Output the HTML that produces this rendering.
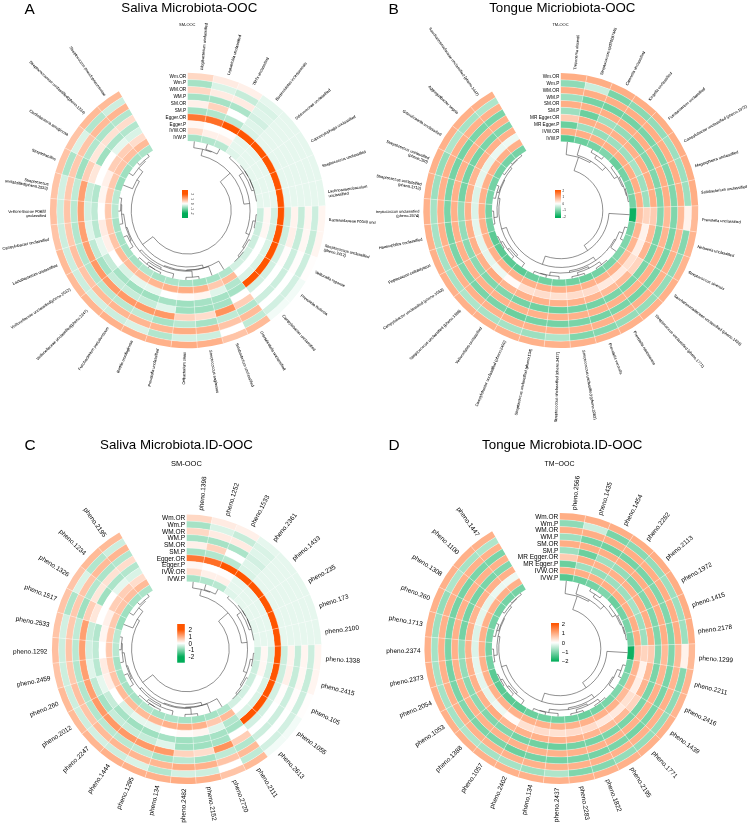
<!DOCTYPE html>
<html><head><meta charset="utf-8"><style>
html,body{margin:0;padding:0;background:#fff;}
svg{display:block;will-change:transform;}
text{font-family:"Liberation Sans", sans-serif;fill:#000;}
.sm{stroke:#000;stroke-width:0.03;}
</style></head><body>
<svg width="750" height="826" viewBox="0 0 750 826">
<rect width="750" height="826" fill="#fff"/>
<defs>
<clipPath id="cA"><rect x="0" y="0" width="375.8" height="430"/></clipPath>
<clipPath id="cB"><rect x="376" y="0" width="374" height="430"/></clipPath>
<clipPath id="cC"><rect x="0" y="430" width="375.8" height="396"/></clipPath>
<clipPath id="cD"><rect x="376" y="430" width="374" height="396"/></clipPath>
</defs>
<g clip-path="url(#cA)">
<path d="M187.70 72.70A137.80 137.80 0 0 1 213.99 75.23L212.69 81.95A130.96 130.96 0 0 0 187.70 79.54Z" fill="#ffd8c4"/>
<path d="M187.70 79.54A130.96 130.96 0 0 1 212.69 81.95L211.38 88.66A124.12 124.12 0 0 0 187.70 86.38Z" fill="#a6e2c5"/>
<path d="M187.70 86.38A124.12 124.12 0 0 1 211.38 88.66L210.08 95.37A117.28 117.28 0 0 0 187.70 93.22Z" fill="#ffd8c4"/>
<path d="M187.70 93.22A117.28 117.28 0 0 1 210.08 95.37L208.77 102.09A110.44 110.44 0 0 0 187.70 100.06Z" fill="#a6e2c5"/>
<path d="M187.70 100.06A110.44 110.44 0 0 1 208.77 102.09L207.47 108.80A103.60 103.60 0 0 0 187.70 106.90Z" fill="#fff0e9"/>
<path d="M187.70 106.90A103.60 103.60 0 0 1 207.47 108.80L206.16 115.52A96.76 96.76 0 0 0 187.70 113.74Z" fill="#a6e2c5"/>
<path d="M187.70 113.74A96.76 96.76 0 0 1 206.16 115.52L204.86 122.23A89.92 89.92 0 0 0 187.70 120.58Z" fill="#ff7733"/>
<path d="M187.70 120.58A89.92 89.92 0 0 1 204.86 122.23L203.55 128.95A83.08 83.08 0 0 0 187.70 127.42Z" fill="#fff7f3"/>
<path d="M187.70 127.42A83.08 83.08 0 0 1 203.55 128.95L202.25 135.66A76.24 76.24 0 0 0 187.70 134.26Z" fill="#ffddcc"/>
<path d="M187.70 134.26A76.24 76.24 0 0 1 202.25 135.66L200.94 142.38A69.40 69.40 0 0 0 187.70 141.10Z" fill="#a6e2c5"/>
<path d="M213.99 75.23A137.80 137.80 0 0 1 239.32 82.73L236.76 89.08A130.96 130.96 0 0 0 212.69 81.95Z" fill="#ffebe2"/>
<path d="M212.69 81.95A130.96 130.96 0 0 1 236.76 89.08L234.20 95.42A124.12 124.12 0 0 0 211.38 88.66Z" fill="#d9f3e6"/>
<path d="M211.38 88.66A124.12 124.12 0 0 1 234.20 95.42L231.63 101.76A117.28 117.28 0 0 0 210.08 95.37Z" fill="#ffebe2"/>
<path d="M210.08 95.37A117.28 117.28 0 0 1 231.63 101.76L229.07 108.10A110.44 110.44 0 0 0 208.77 102.09Z" fill="#a6e2c5"/>
<path d="M208.77 102.09A110.44 110.44 0 0 1 229.07 108.10L226.51 114.44A103.60 103.60 0 0 0 207.47 108.80Z" fill="#ffd3bd"/>
<path d="M207.47 108.80A103.60 103.60 0 0 1 226.51 114.44L223.95 120.79A96.76 96.76 0 0 0 206.16 115.52Z" fill="#b2e6cd"/>
<path d="M206.16 115.52A96.76 96.76 0 0 1 223.95 120.79L221.38 127.13A89.92 89.92 0 0 0 204.86 122.23Z" fill="#ff6e26"/>
<path d="M204.86 122.23A89.92 89.92 0 0 1 221.38 127.13L218.82 133.47A83.08 83.08 0 0 0 203.55 128.95Z" fill="#ffffff"/>
<path d="M203.55 128.95A83.08 83.08 0 0 1 218.82 133.47L216.26 139.81A76.24 76.24 0 0 0 202.25 135.66Z" fill="#fff0e9"/>
<path d="M202.25 135.66A76.24 76.24 0 0 1 216.26 139.81L213.70 146.15A69.40 69.40 0 0 0 200.94 142.38Z" fill="#b2e6cd"/>
<path d="M239.32 82.73A137.80 137.80 0 0 1 262.75 94.93L259.03 100.67A130.96 130.96 0 0 0 236.76 89.08Z" fill="#fff0e9"/>
<path d="M236.76 89.08A130.96 130.96 0 0 1 259.03 100.67L255.30 106.40A124.12 124.12 0 0 0 234.20 95.42Z" fill="#c6ecd9"/>
<path d="M234.20 95.42A124.12 124.12 0 0 1 255.30 106.40L251.58 112.14A117.28 117.28 0 0 0 231.63 101.76Z" fill="#ffebe2"/>
<path d="M231.63 101.76A117.28 117.28 0 0 1 251.58 112.14L247.85 117.88A110.44 110.44 0 0 0 229.07 108.10Z" fill="#ace4c9"/>
<path d="M229.07 108.10A110.44 110.44 0 0 1 247.85 117.88L244.12 123.61A103.60 103.60 0 0 0 226.51 114.44Z" fill="#ffffff"/>
<path d="M226.51 114.44A103.60 103.60 0 0 1 244.12 123.61L240.40 129.35A96.76 96.76 0 0 0 223.95 120.79Z" fill="#b9e8d1"/>
<path d="M223.95 120.79A96.76 96.76 0 0 1 240.40 129.35L236.67 135.09A89.92 89.92 0 0 0 221.38 127.13Z" fill="#ff5500"/>
<path d="M221.38 127.13A89.92 89.92 0 0 1 236.67 135.09L232.95 140.82A83.08 83.08 0 0 0 218.82 133.47Z" fill="#fffdfc"/>
<path d="M218.82 133.47A83.08 83.08 0 0 1 232.95 140.82L229.22 146.56A76.24 76.24 0 0 0 216.26 139.81Z" fill="#fff0e9"/>
<path d="M216.26 139.81A76.24 76.24 0 0 1 229.22 146.56L225.50 152.30A69.40 69.40 0 0 0 213.70 146.15Z" fill="#b9e8d1"/>
<path d="M262.75 94.93A137.80 137.80 0 0 1 283.42 111.37L278.67 116.30A130.96 130.96 0 0 0 259.03 100.67Z" fill="#e6f7ee"/>
<path d="M259.03 100.67A130.96 130.96 0 0 1 278.67 116.30L273.92 121.22A124.12 124.12 0 0 0 255.30 106.40Z" fill="#d9f3e6"/>
<path d="M255.30 106.40A124.12 124.12 0 0 1 273.92 121.22L269.17 126.14A117.28 117.28 0 0 0 251.58 112.14Z" fill="#dff5ea"/>
<path d="M251.58 112.14A117.28 117.28 0 0 1 269.17 126.14L264.42 131.06A110.44 110.44 0 0 0 247.85 117.88Z" fill="#d2f0e2"/>
<path d="M247.85 117.88A110.44 110.44 0 0 1 264.42 131.06L259.67 135.98A103.60 103.60 0 0 0 244.12 123.61Z" fill="#dff5ea"/>
<path d="M244.12 123.61A103.60 103.60 0 0 1 259.67 135.98L254.92 140.90A96.76 96.76 0 0 0 240.40 129.35Z" fill="#d9f3e6"/>
<path d="M240.40 129.35A96.76 96.76 0 0 1 254.92 140.90L250.16 145.82A89.92 89.92 0 0 0 236.67 135.09Z" fill="#ff5500"/>
<path d="M236.67 135.09A89.92 89.92 0 0 1 250.16 145.82L245.41 150.74A83.08 83.08 0 0 0 232.95 140.82Z" fill="#e6f7ee"/>
<path d="M232.95 140.82A83.08 83.08 0 0 1 245.41 150.74L240.66 155.66A76.24 76.24 0 0 0 229.22 146.56Z" fill="#e6f7ee"/>
<path d="M229.22 146.56A76.24 76.24 0 0 1 240.66 155.66L235.91 160.58A69.40 69.40 0 0 0 225.50 152.30Z" fill="#dff5ea"/>
<path d="M283.42 111.37A137.80 137.80 0 0 1 300.58 131.46L294.98 135.38A130.96 130.96 0 0 0 278.67 116.30Z" fill="#e6f7ee"/>
<path d="M278.67 116.30A130.96 130.96 0 0 1 294.98 135.38L289.37 139.31A124.12 124.12 0 0 0 273.92 121.22Z" fill="#e6f7ee"/>
<path d="M273.92 121.22A124.12 124.12 0 0 1 289.37 139.31L283.77 143.23A117.28 117.28 0 0 0 269.17 126.14Z" fill="#e6f7ee"/>
<path d="M269.17 126.14A117.28 117.28 0 0 1 283.77 143.23L278.17 147.15A110.44 110.44 0 0 0 264.42 131.06Z" fill="#e6f7ee"/>
<path d="M264.42 131.06A110.44 110.44 0 0 1 278.17 147.15L272.56 151.08A103.60 103.60 0 0 0 259.67 135.98Z" fill="#e6f7ee"/>
<path d="M259.67 135.98A103.60 103.60 0 0 1 272.56 151.08L266.96 155.00A96.76 96.76 0 0 0 254.92 140.90Z" fill="#e6f7ee"/>
<path d="M254.92 140.90A96.76 96.76 0 0 1 266.96 155.00L261.36 158.92A89.92 89.92 0 0 0 250.16 145.82Z" fill="#ff5500"/>
<path d="M250.16 145.82A89.92 89.92 0 0 1 261.36 158.92L255.76 162.85A83.08 83.08 0 0 0 245.41 150.74Z" fill="#e6f7ee"/>
<path d="M245.41 150.74A83.08 83.08 0 0 1 255.76 162.85L250.15 166.77A76.24 76.24 0 0 0 240.66 155.66Z" fill="#e6f7ee"/>
<path d="M240.66 155.66A76.24 76.24 0 0 1 250.15 166.77L244.55 170.69A69.40 69.40 0 0 0 235.91 160.58Z" fill="#e6f7ee"/>
<path d="M300.58 131.46A137.80 137.80 0 0 1 313.59 154.45L307.34 157.23A130.96 130.96 0 0 0 294.98 135.38Z" fill="#e6f7ee"/>
<path d="M294.98 135.38A130.96 130.96 0 0 1 307.34 157.23L301.09 160.02A124.12 124.12 0 0 0 289.37 139.31Z" fill="#e6f7ee"/>
<path d="M289.37 139.31A124.12 124.12 0 0 1 301.09 160.02L294.84 162.80A117.28 117.28 0 0 0 283.77 143.23Z" fill="#e6f7ee"/>
<path d="M283.77 143.23A117.28 117.28 0 0 1 294.84 162.80L288.59 165.58A110.44 110.44 0 0 0 278.17 147.15Z" fill="#e6f7ee"/>
<path d="M278.17 147.15A110.44 110.44 0 0 1 288.59 165.58L282.34 168.36A103.60 103.60 0 0 0 272.56 151.08Z" fill="#e6f7ee"/>
<path d="M272.56 151.08A103.60 103.60 0 0 1 282.34 168.36L276.09 171.14A96.76 96.76 0 0 0 266.96 155.00Z" fill="#e6f7ee"/>
<path d="M266.96 155.00A96.76 96.76 0 0 1 276.09 171.14L269.85 173.93A89.92 89.92 0 0 0 261.36 158.92Z" fill="#ff5500"/>
<path d="M261.36 158.92A89.92 89.92 0 0 1 269.85 173.93L263.60 176.71A83.08 83.08 0 0 0 255.76 162.85Z" fill="#e6f7ee"/>
<path d="M255.76 162.85A83.08 83.08 0 0 1 263.60 176.71L257.35 179.49A76.24 76.24 0 0 0 250.15 166.77Z" fill="#e6f7ee"/>
<path d="M250.15 166.77A76.24 76.24 0 0 1 257.35 179.49L251.10 182.27A69.40 69.40 0 0 0 244.55 170.69Z" fill="#e6f7ee"/>
<path d="M313.59 154.45A137.80 137.80 0 0 1 321.97 179.50L315.30 181.04A130.96 130.96 0 0 0 307.34 157.23Z" fill="#e6f7ee"/>
<path d="M307.34 157.23A130.96 130.96 0 0 1 315.30 181.04L308.64 182.58A124.12 124.12 0 0 0 301.09 160.02Z" fill="#e6f7ee"/>
<path d="M301.09 160.02A124.12 124.12 0 0 1 308.64 182.58L301.97 184.12A117.28 117.28 0 0 0 294.84 162.80Z" fill="#e6f7ee"/>
<path d="M294.84 162.80A117.28 117.28 0 0 1 301.97 184.12L295.31 185.66A110.44 110.44 0 0 0 288.59 165.58Z" fill="#e6f7ee"/>
<path d="M288.59 165.58A110.44 110.44 0 0 1 295.31 185.66L288.64 187.20A103.60 103.60 0 0 0 282.34 168.36Z" fill="#e6f7ee"/>
<path d="M282.34 168.36A103.60 103.60 0 0 1 288.64 187.20L281.98 188.73A96.76 96.76 0 0 0 276.09 171.14Z" fill="#e6f7ee"/>
<path d="M276.09 171.14A96.76 96.76 0 0 1 281.98 188.73L275.32 190.27A89.92 89.92 0 0 0 269.85 173.93Z" fill="#ff5500"/>
<path d="M269.85 173.93A89.92 89.92 0 0 1 275.32 190.27L268.65 191.81A83.08 83.08 0 0 0 263.60 176.71Z" fill="#e6f7ee"/>
<path d="M263.60 176.71A83.08 83.08 0 0 1 268.65 191.81L261.99 193.35A76.24 76.24 0 0 0 257.35 179.49Z" fill="#e6f7ee"/>
<path d="M257.35 179.49A76.24 76.24 0 0 1 261.99 193.35L255.32 194.89A69.40 69.40 0 0 0 251.10 182.27Z" fill="#e6f7ee"/>
<path d="M321.97 179.50A137.80 137.80 0 0 1 325.42 205.69L318.58 205.93A130.96 130.96 0 0 0 315.30 181.04Z" fill="#e6f7ee"/>
<path d="M315.30 181.04A130.96 130.96 0 0 1 318.58 205.93L311.74 206.17A124.12 124.12 0 0 0 308.64 182.58Z" fill="#e6f7ee"/>
<path d="M308.64 182.58A124.12 124.12 0 0 1 311.74 206.17L304.91 206.41A117.28 117.28 0 0 0 301.97 184.12Z" fill="#e6f7ee"/>
<path d="M301.97 184.12A117.28 117.28 0 0 1 304.91 206.41L298.07 206.65A110.44 110.44 0 0 0 295.31 185.66Z" fill="#e6f7ee"/>
<path d="M295.31 185.66A110.44 110.44 0 0 1 298.07 206.65L291.24 206.88A103.60 103.60 0 0 0 288.64 187.20Z" fill="#e6f7ee"/>
<path d="M288.64 187.20A103.60 103.60 0 0 1 291.24 206.88L284.40 207.12A96.76 96.76 0 0 0 281.98 188.73Z" fill="#e6f7ee"/>
<path d="M281.98 188.73A96.76 96.76 0 0 1 284.40 207.12L277.57 207.36A89.92 89.92 0 0 0 275.32 190.27Z" fill="#ff5500"/>
<path d="M275.32 190.27A89.92 89.92 0 0 1 277.57 207.36L270.73 207.60A83.08 83.08 0 0 0 268.65 191.81Z" fill="#e6f7ee"/>
<path d="M268.65 191.81A83.08 83.08 0 0 1 270.73 207.60L263.89 207.84A76.24 76.24 0 0 0 261.99 193.35Z" fill="#e6f7ee"/>
<path d="M261.99 193.35A76.24 76.24 0 0 1 263.89 207.84L257.06 208.08A69.40 69.40 0 0 0 255.32 194.89Z" fill="#e6f7ee"/>
<path d="M325.42 205.69A137.80 137.80 0 0 1 323.80 232.06L317.05 230.99A130.96 130.96 0 0 0 318.58 205.93Z" fill="#fff5f0"/>
<path d="M318.58 205.93A130.96 130.96 0 0 1 317.05 230.99L310.29 229.92A124.12 124.12 0 0 0 311.74 206.17Z" fill="#cceede"/>
<path d="M311.74 206.17A124.12 124.12 0 0 1 310.29 229.92L303.54 228.85A117.28 117.28 0 0 0 304.91 206.41Z" fill="#fff5f0"/>
<path d="M304.91 206.41A117.28 117.28 0 0 1 303.54 228.85L296.78 227.78A110.44 110.44 0 0 0 298.07 206.65Z" fill="#c6ecd9"/>
<path d="M298.07 206.65A110.44 110.44 0 0 1 296.78 227.78L290.02 226.71A103.60 103.60 0 0 0 291.24 206.88Z" fill="#fff3ed"/>
<path d="M291.24 206.88A103.60 103.60 0 0 1 290.02 226.71L283.27 225.64A96.76 96.76 0 0 0 284.40 207.12Z" fill="#cceede"/>
<path d="M284.40 207.12A96.76 96.76 0 0 1 283.27 225.64L276.51 224.57A89.92 89.92 0 0 0 277.57 207.36Z" fill="#ff5500"/>
<path d="M277.57 207.36A89.92 89.92 0 0 1 276.51 224.57L269.76 223.50A83.08 83.08 0 0 0 270.73 207.60Z" fill="#d2f0e2"/>
<path d="M270.73 207.60A83.08 83.08 0 0 1 269.76 223.50L263.00 222.43A76.24 76.24 0 0 0 263.89 207.84Z" fill="#fff7f3"/>
<path d="M263.89 207.84A76.24 76.24 0 0 1 263.00 222.43L256.25 221.36A69.40 69.40 0 0 0 257.06 208.08Z" fill="#cceede"/>
<path d="M323.80 232.06A137.80 137.80 0 0 1 317.19 257.63L310.76 255.29A130.96 130.96 0 0 0 317.05 230.99Z" fill="#fff5f0"/>
<path d="M317.05 230.99A130.96 130.96 0 0 1 310.76 255.29L304.33 252.95A124.12 124.12 0 0 0 310.29 229.92Z" fill="#c6ecd9"/>
<path d="M310.29 229.92A124.12 124.12 0 0 1 304.33 252.95L297.91 250.61A117.28 117.28 0 0 0 303.54 228.85Z" fill="#fff7f3"/>
<path d="M303.54 228.85A117.28 117.28 0 0 1 297.91 250.61L291.48 248.27A110.44 110.44 0 0 0 296.78 227.78Z" fill="#c6ecd9"/>
<path d="M296.78 227.78A110.44 110.44 0 0 1 291.48 248.27L285.05 245.93A103.60 103.60 0 0 0 290.02 226.71Z" fill="#fff0e9"/>
<path d="M290.02 226.71A103.60 103.60 0 0 1 285.05 245.93L278.62 243.59A96.76 96.76 0 0 0 283.27 225.64Z" fill="#cceede"/>
<path d="M283.27 225.64A96.76 96.76 0 0 1 278.62 243.59L272.20 241.25A89.92 89.92 0 0 0 276.51 224.57Z" fill="#ff5500"/>
<path d="M276.51 224.57A89.92 89.92 0 0 1 272.20 241.25L265.77 238.92A83.08 83.08 0 0 0 269.76 223.50Z" fill="#d2f0e2"/>
<path d="M269.76 223.50A83.08 83.08 0 0 1 265.77 238.92L259.34 236.58A76.24 76.24 0 0 0 263.00 222.43Z" fill="#fff7f3"/>
<path d="M263.00 222.43A76.24 76.24 0 0 1 259.34 236.58L252.91 234.24A69.40 69.40 0 0 0 256.25 221.36Z" fill="#cceede"/>
<path d="M317.19 257.63A137.80 137.80 0 0 1 305.82 281.47L299.95 277.95A130.96 130.96 0 0 0 310.76 255.29Z" fill="#fffdfc"/>
<path d="M310.76 255.29A130.96 130.96 0 0 1 299.95 277.95L294.09 274.43A124.12 124.12 0 0 0 304.33 252.95Z" fill="#cceede"/>
<path d="M304.33 252.95A124.12 124.12 0 0 1 294.09 274.43L288.23 270.90A117.28 117.28 0 0 0 297.91 250.61Z" fill="#fffcfb"/>
<path d="M297.91 250.61A117.28 117.28 0 0 1 288.23 270.90L282.37 267.38A110.44 110.44 0 0 0 291.48 248.27Z" fill="#cceede"/>
<path d="M291.48 248.27A110.44 110.44 0 0 1 282.37 267.38L276.50 263.86A103.60 103.60 0 0 0 285.05 245.93Z" fill="#fffcfb"/>
<path d="M285.05 245.93A103.60 103.60 0 0 1 276.50 263.86L270.64 260.34A96.76 96.76 0 0 0 278.62 243.59Z" fill="#d2f0e2"/>
<path d="M278.62 243.59A96.76 96.76 0 0 1 270.64 260.34L264.78 256.81A89.92 89.92 0 0 0 272.20 241.25Z" fill="#ff5500"/>
<path d="M272.20 241.25A89.92 89.92 0 0 1 264.78 256.81L258.91 253.29A83.08 83.08 0 0 0 265.77 238.92Z" fill="#d9f3e6"/>
<path d="M265.77 238.92A83.08 83.08 0 0 1 258.91 253.29L253.05 249.77A76.24 76.24 0 0 0 259.34 236.58Z" fill="#ffffff"/>
<path d="M259.34 236.58A76.24 76.24 0 0 1 253.05 249.77L247.19 246.24A69.40 69.40 0 0 0 252.91 234.24Z" fill="#cceede"/>
<path d="M305.82 281.47A137.80 137.80 0 0 1 290.11 302.71L285.02 298.13A130.96 130.96 0 0 0 299.95 277.95Z" fill="#f2fbf7"/>
<path d="M299.95 277.95A130.96 130.96 0 0 1 285.02 298.13L279.94 293.55A124.12 124.12 0 0 0 294.09 274.43Z" fill="#d2f0e2"/>
<path d="M294.09 274.43A124.12 124.12 0 0 1 279.94 293.55L274.86 288.98A117.28 117.28 0 0 0 288.23 270.90Z" fill="#ffffff"/>
<path d="M288.23 270.90A117.28 117.28 0 0 1 274.86 288.98L269.77 284.40A110.44 110.44 0 0 0 282.37 267.38Z" fill="#cceede"/>
<path d="M282.37 267.38A110.44 110.44 0 0 1 269.77 284.40L264.69 279.82A103.60 103.60 0 0 0 276.50 263.86Z" fill="#ffffff"/>
<path d="M276.50 263.86A103.60 103.60 0 0 1 264.69 279.82L259.61 275.25A96.76 96.76 0 0 0 270.64 260.34Z" fill="#d2f0e2"/>
<path d="M270.64 260.34A96.76 96.76 0 0 1 259.61 275.25L254.52 270.67A89.92 89.92 0 0 0 264.78 256.81Z" fill="#ff5500"/>
<path d="M264.78 256.81A89.92 89.92 0 0 1 254.52 270.67L249.44 266.09A83.08 83.08 0 0 0 258.91 253.29Z" fill="#d9f3e6"/>
<path d="M258.91 253.29A83.08 83.08 0 0 1 249.44 266.09L244.36 261.51A76.24 76.24 0 0 0 253.05 249.77Z" fill="#ffffff"/>
<path d="M253.05 249.77A76.24 76.24 0 0 1 244.36 261.51L239.27 256.94A69.40 69.40 0 0 0 247.19 246.24Z" fill="#d2f0e2"/>
<path d="M290.11 302.71A137.80 137.80 0 0 1 270.63 320.55L266.51 315.09A130.96 130.96 0 0 0 285.02 298.13Z" fill="#f2fbf7"/>
<path d="M285.02 298.13A130.96 130.96 0 0 1 266.51 315.09L262.40 309.63A124.12 124.12 0 0 0 279.94 293.55Z" fill="#d2f0e2"/>
<path d="M279.94 293.55A124.12 124.12 0 0 1 262.40 309.63L258.28 304.16A117.28 117.28 0 0 0 274.86 288.98Z" fill="#ffffff"/>
<path d="M274.86 288.98A117.28 117.28 0 0 1 258.28 304.16L254.16 298.70A110.44 110.44 0 0 0 269.77 284.40Z" fill="#cceede"/>
<path d="M269.77 284.40A110.44 110.44 0 0 1 254.16 298.70L250.05 293.24A103.60 103.60 0 0 0 264.69 279.82Z" fill="#ffffff"/>
<path d="M264.69 279.82A103.60 103.60 0 0 1 250.05 293.24L245.93 287.78A96.76 96.76 0 0 0 259.61 275.25Z" fill="#d2f0e2"/>
<path d="M259.61 275.25A96.76 96.76 0 0 1 245.93 287.78L241.82 282.31A89.92 89.92 0 0 0 254.52 270.67Z" fill="#ff5500"/>
<path d="M254.52 270.67A89.92 89.92 0 0 1 241.82 282.31L237.70 276.85A83.08 83.08 0 0 0 249.44 266.09Z" fill="#d9f3e6"/>
<path d="M249.44 266.09A83.08 83.08 0 0 1 237.70 276.85L233.58 271.39A76.24 76.24 0 0 0 244.36 261.51Z" fill="#ffffff"/>
<path d="M244.36 261.51A76.24 76.24 0 0 1 233.58 271.39L229.47 265.93A69.40 69.40 0 0 0 239.27 256.94Z" fill="#d2f0e2"/>
<path d="M270.63 320.55A137.80 137.80 0 0 1 248.11 334.35L245.11 328.21A130.96 130.96 0 0 0 266.51 315.09Z" fill="#ffbb98"/>
<path d="M266.51 315.09A130.96 130.96 0 0 1 245.11 328.21L242.11 322.06A124.12 124.12 0 0 0 262.40 309.63Z" fill="#bfead5"/>
<path d="M262.40 309.63A124.12 124.12 0 0 1 242.11 322.06L239.11 315.91A117.28 117.28 0 0 0 258.28 304.16Z" fill="#ffbb98"/>
<path d="M258.28 304.16A117.28 117.28 0 0 1 239.11 315.91L236.11 309.76A110.44 110.44 0 0 0 254.16 298.70Z" fill="#b2e6cd"/>
<path d="M254.16 298.70A110.44 110.44 0 0 1 236.11 309.76L233.12 303.62A103.60 103.60 0 0 0 250.05 293.24Z" fill="#ffceb6"/>
<path d="M250.05 293.24A103.60 103.60 0 0 1 233.12 303.62L230.12 297.47A96.76 96.76 0 0 0 245.93 287.78Z" fill="#ffffff"/>
<path d="M245.93 287.78A96.76 96.76 0 0 1 230.12 297.47L227.12 291.32A89.92 89.92 0 0 0 241.82 282.31Z" fill="#a6e2c5"/>
<path d="M241.82 282.31A89.92 89.92 0 0 1 227.12 291.32L224.12 285.17A83.08 83.08 0 0 0 237.70 276.85Z" fill="#b2e6cd"/>
<path d="M237.70 276.85A83.08 83.08 0 0 1 224.12 285.17L221.12 279.02A76.24 76.24 0 0 0 233.58 271.39Z" fill="#ffbb98"/>
<path d="M233.58 271.39A76.24 76.24 0 0 1 221.12 279.02L218.12 272.88A69.40 69.40 0 0 0 229.47 265.93Z" fill="#b2e6cd"/>
<path d="M248.11 334.35A137.80 137.80 0 0 1 223.37 343.60L221.59 337.00A130.96 130.96 0 0 0 245.11 328.21Z" fill="#ffc4a7"/>
<path d="M245.11 328.21A130.96 130.96 0 0 1 221.59 337.00L219.82 330.39A124.12 124.12 0 0 0 242.11 322.06Z" fill="#ffffff"/>
<path d="M242.11 322.06A124.12 124.12 0 0 1 219.82 330.39L218.05 323.78A117.28 117.28 0 0 0 239.11 315.91Z" fill="#ffc4a7"/>
<path d="M239.11 315.91A117.28 117.28 0 0 1 218.05 323.78L216.28 317.18A110.44 110.44 0 0 0 236.11 309.76Z" fill="#bfead5"/>
<path d="M236.11 309.76A110.44 110.44 0 0 1 216.28 317.18L214.51 310.57A103.60 103.60 0 0 0 233.12 303.62Z" fill="#ff935c"/>
<path d="M233.12 303.62A103.60 103.60 0 0 1 214.51 310.57L212.74 303.96A96.76 96.76 0 0 0 230.12 297.47Z" fill="#a6e2c5"/>
<path d="M230.12 297.47A96.76 96.76 0 0 1 212.74 303.96L210.97 297.36A89.92 89.92 0 0 0 227.12 291.32Z" fill="#a6e2c5"/>
<path d="M227.12 291.32A89.92 89.92 0 0 1 210.97 297.36L209.20 290.75A83.08 83.08 0 0 0 224.12 285.17Z" fill="#dff5ea"/>
<path d="M224.12 285.17A83.08 83.08 0 0 1 209.20 290.75L207.43 284.14A76.24 76.24 0 0 0 221.12 279.02Z" fill="#ffc9ae"/>
<path d="M221.12 279.02A76.24 76.24 0 0 1 207.43 284.14L205.66 277.54A69.40 69.40 0 0 0 218.12 272.88Z" fill="#a6e2c5"/>
<path d="M223.37 343.60A137.80 137.80 0 0 1 197.31 347.96L196.84 341.14A130.96 130.96 0 0 0 221.59 337.00Z" fill="#ffb18a"/>
<path d="M221.59 337.00A130.96 130.96 0 0 1 196.84 341.14L196.36 334.32A124.12 124.12 0 0 0 219.82 330.39Z" fill="#cceede"/>
<path d="M219.82 330.39A124.12 124.12 0 0 1 196.36 334.32L195.88 327.49A117.28 117.28 0 0 0 218.05 323.78Z" fill="#ffb18a"/>
<path d="M218.05 323.78A117.28 117.28 0 0 1 195.88 327.49L195.40 320.67A110.44 110.44 0 0 0 216.28 317.18Z" fill="#a6e2c5"/>
<path d="M216.28 317.18A110.44 110.44 0 0 1 195.40 320.67L194.93 313.85A103.60 103.60 0 0 0 214.51 310.57Z" fill="#ffddcc"/>
<path d="M214.51 310.57A103.60 103.60 0 0 1 194.93 313.85L194.45 307.02A96.76 96.76 0 0 0 212.74 303.96Z" fill="#9fe0c0"/>
<path d="M212.74 303.96A96.76 96.76 0 0 1 194.45 307.02L193.97 300.20A89.92 89.92 0 0 0 210.97 297.36Z" fill="#a6e2c5"/>
<path d="M210.97 297.36A89.92 89.92 0 0 1 193.97 300.20L193.50 293.38A83.08 83.08 0 0 0 209.20 290.75Z" fill="#fff5f0"/>
<path d="M209.20 290.75A83.08 83.08 0 0 1 193.50 293.38L193.02 286.55A76.24 76.24 0 0 0 207.43 284.14Z" fill="#ffb18a"/>
<path d="M207.43 284.14A76.24 76.24 0 0 1 193.02 286.55L192.54 279.73A69.40 69.40 0 0 0 205.66 277.54Z" fill="#9fe0c0"/>
<path d="M197.31 347.96A137.80 137.80 0 0 1 170.91 347.27L171.74 340.48A130.96 130.96 0 0 0 196.84 341.14Z" fill="#ffac82"/>
<path d="M196.84 341.14A130.96 130.96 0 0 1 171.74 340.48L172.57 333.69A124.12 124.12 0 0 0 196.36 334.32Z" fill="#d2f0e2"/>
<path d="M196.36 334.32A124.12 124.12 0 0 1 172.57 333.69L173.41 326.91A117.28 117.28 0 0 0 195.88 327.49Z" fill="#ffac82"/>
<path d="M195.88 327.49A117.28 117.28 0 0 1 173.41 326.91L174.24 320.12A110.44 110.44 0 0 0 195.40 320.67Z" fill="#b9e8d1"/>
<path d="M195.40 320.67A110.44 110.44 0 0 1 174.24 320.12L175.07 313.33A103.60 103.60 0 0 0 194.93 313.85Z" fill="#ffd3bd"/>
<path d="M194.93 313.85A103.60 103.60 0 0 1 175.07 313.33L175.91 306.54A96.76 96.76 0 0 0 194.45 307.02Z" fill="#9fe0c0"/>
<path d="M194.45 307.02A96.76 96.76 0 0 1 175.91 306.54L176.74 299.75A89.92 89.92 0 0 0 193.97 300.20Z" fill="#9fe0c0"/>
<path d="M193.97 300.20A89.92 89.92 0 0 1 176.74 299.75L177.58 292.96A83.08 83.08 0 0 0 193.50 293.38Z" fill="#fffaf8"/>
<path d="M193.50 293.38A83.08 83.08 0 0 1 177.58 292.96L178.41 286.17A76.24 76.24 0 0 0 193.02 286.55Z" fill="#ffac82"/>
<path d="M193.02 286.55A76.24 76.24 0 0 1 178.41 286.17L179.24 279.38A69.40 69.40 0 0 0 192.54 279.73Z" fill="#a6e2c5"/>
<path d="M170.91 347.27A137.80 137.80 0 0 1 145.12 341.56L147.23 335.05A130.96 130.96 0 0 0 171.74 340.48Z" fill="#ffb18a"/>
<path d="M171.74 340.48A130.96 130.96 0 0 1 147.23 335.05L149.34 328.55A124.12 124.12 0 0 0 172.57 333.69Z" fill="#b2e6cd"/>
<path d="M172.57 333.69A124.12 124.12 0 0 1 149.34 328.55L151.46 322.04A117.28 117.28 0 0 0 173.41 326.91Z" fill="#ffb691"/>
<path d="M173.41 326.91A117.28 117.28 0 0 1 151.46 322.04L153.57 315.53A110.44 110.44 0 0 0 174.24 320.12Z" fill="#a6e2c5"/>
<path d="M174.24 320.12A110.44 110.44 0 0 1 153.57 315.53L155.69 309.03A103.60 103.60 0 0 0 175.07 313.33Z" fill="#ff9967"/>
<path d="M175.07 313.33A103.60 103.60 0 0 1 155.69 309.03L157.80 302.52A96.76 96.76 0 0 0 175.91 306.54Z" fill="#dff5ea"/>
<path d="M175.91 306.54A96.76 96.76 0 0 1 157.80 302.52L159.91 296.02A89.92 89.92 0 0 0 176.74 299.75Z" fill="#a6e2c5"/>
<path d="M176.74 299.75A89.92 89.92 0 0 1 159.91 296.02L162.03 289.51A83.08 83.08 0 0 0 177.58 292.96Z" fill="#ffffff"/>
<path d="M177.58 292.96A83.08 83.08 0 0 1 162.03 289.51L164.14 283.01A76.24 76.24 0 0 0 178.41 286.17Z" fill="#ffb18a"/>
<path d="M178.41 286.17A76.24 76.24 0 0 1 164.14 283.01L166.25 276.50A69.40 69.40 0 0 0 179.24 279.38Z" fill="#ace4c9"/>
<path d="M145.12 341.56A137.80 137.80 0 0 1 120.89 331.02L124.21 325.04A130.96 130.96 0 0 0 147.23 335.05Z" fill="#ffb18a"/>
<path d="M147.23 335.05A130.96 130.96 0 0 1 124.21 325.04L127.53 319.06A124.12 124.12 0 0 0 149.34 328.55Z" fill="#d9f3e6"/>
<path d="M149.34 328.55A124.12 124.12 0 0 1 127.53 319.06L130.84 313.08A117.28 117.28 0 0 0 151.46 322.04Z" fill="#ffb691"/>
<path d="M151.46 322.04A117.28 117.28 0 0 1 130.84 313.08L134.16 307.09A110.44 110.44 0 0 0 153.57 315.53Z" fill="#bfead5"/>
<path d="M153.57 315.53A110.44 110.44 0 0 1 134.16 307.09L137.47 301.11A103.60 103.60 0 0 0 155.69 309.03Z" fill="#ff9967"/>
<path d="M155.69 309.03A103.60 103.60 0 0 1 137.47 301.11L140.79 295.13A96.76 96.76 0 0 0 157.80 302.52Z" fill="#c6ecd9"/>
<path d="M157.80 302.52A96.76 96.76 0 0 1 140.79 295.13L144.11 289.15A89.92 89.92 0 0 0 159.91 296.02Z" fill="#9fe0c0"/>
<path d="M159.91 296.02A89.92 89.92 0 0 1 144.11 289.15L147.42 283.16A83.08 83.08 0 0 0 162.03 289.51Z" fill="#e6f7ee"/>
<path d="M162.03 289.51A83.08 83.08 0 0 1 147.42 283.16L150.74 277.18A76.24 76.24 0 0 0 164.14 283.01Z" fill="#ffb691"/>
<path d="M164.14 283.01A76.24 76.24 0 0 1 150.74 277.18L154.05 271.20A69.40 69.40 0 0 0 166.25 276.50Z" fill="#a6e2c5"/>
<path d="M120.89 331.02A137.80 137.80 0 0 1 99.12 316.06L103.52 310.82A130.96 130.96 0 0 0 124.21 325.04Z" fill="#ffb18a"/>
<path d="M124.21 325.04A130.96 130.96 0 0 1 103.52 310.82L107.92 305.58A124.12 124.12 0 0 0 127.53 319.06Z" fill="#cceede"/>
<path d="M127.53 319.06A124.12 124.12 0 0 1 107.92 305.58L112.31 300.34A117.28 117.28 0 0 0 130.84 313.08Z" fill="#ffb691"/>
<path d="M130.84 313.08A117.28 117.28 0 0 1 112.31 300.34L116.71 295.10A110.44 110.44 0 0 0 134.16 307.09Z" fill="#b9e8d1"/>
<path d="M134.16 307.09A110.44 110.44 0 0 1 116.71 295.10L121.11 289.86A103.60 103.60 0 0 0 137.47 301.11Z" fill="#ff9967"/>
<path d="M137.47 301.11A103.60 103.60 0 0 1 121.11 289.86L125.50 284.62A96.76 96.76 0 0 0 140.79 295.13Z" fill="#c6ecd9"/>
<path d="M140.79 295.13A96.76 96.76 0 0 1 125.50 284.62L129.90 279.38A89.92 89.92 0 0 0 144.11 289.15Z" fill="#9fe0c0"/>
<path d="M144.11 289.15A89.92 89.92 0 0 1 129.90 279.38L134.30 274.14A83.08 83.08 0 0 0 147.42 283.16Z" fill="#e6f7ee"/>
<path d="M147.42 283.16A83.08 83.08 0 0 1 134.30 274.14L138.69 268.90A76.24 76.24 0 0 0 150.74 277.18Z" fill="#ffbb98"/>
<path d="M150.74 277.18A76.24 76.24 0 0 1 138.69 268.90L143.09 263.66A69.40 69.40 0 0 0 154.05 271.20Z" fill="#b2e6cd"/>
<path d="M99.12 316.06A137.80 137.80 0 0 1 80.61 297.22L85.92 292.92A130.96 130.96 0 0 0 103.52 310.82Z" fill="#ffb691"/>
<path d="M103.52 310.82A130.96 130.96 0 0 1 85.92 292.92L91.24 288.61A124.12 124.12 0 0 0 107.92 305.58Z" fill="#d2f0e2"/>
<path d="M107.92 305.58A124.12 124.12 0 0 1 91.24 288.61L96.56 284.31A117.28 117.28 0 0 0 112.31 300.34Z" fill="#ffbb98"/>
<path d="M112.31 300.34A117.28 117.28 0 0 1 96.56 284.31L101.87 280.00A110.44 110.44 0 0 0 116.71 295.10Z" fill="#b9e8d1"/>
<path d="M116.71 295.10A110.44 110.44 0 0 1 101.87 280.00L107.19 275.70A103.60 103.60 0 0 0 121.11 289.86Z" fill="#ff9967"/>
<path d="M121.11 289.86A103.60 103.60 0 0 1 107.19 275.70L112.50 271.39A96.76 96.76 0 0 0 125.50 284.62Z" fill="#c6ecd9"/>
<path d="M125.50 284.62A96.76 96.76 0 0 1 112.50 271.39L117.82 267.09A89.92 89.92 0 0 0 129.90 279.38Z" fill="#a6e2c5"/>
<path d="M129.90 279.38A89.92 89.92 0 0 1 117.82 267.09L123.13 262.78A83.08 83.08 0 0 0 134.30 274.14Z" fill="#d9f3e6"/>
<path d="M134.30 274.14A83.08 83.08 0 0 1 123.13 262.78L128.45 258.48A76.24 76.24 0 0 0 138.69 268.90Z" fill="#ffbb98"/>
<path d="M138.69 268.90A76.24 76.24 0 0 1 128.45 258.48L133.77 254.17A69.40 69.40 0 0 0 143.09 263.66Z" fill="#a6e2c5"/>
<path d="M80.61 297.22A137.80 137.80 0 0 1 66.03 275.19L72.07 271.98A130.96 130.96 0 0 0 85.92 292.92Z" fill="#ffbb98"/>
<path d="M85.92 292.92A130.96 130.96 0 0 1 72.07 271.98L78.11 268.77A124.12 124.12 0 0 0 91.24 288.61Z" fill="#cceede"/>
<path d="M91.24 288.61A124.12 124.12 0 0 1 78.11 268.77L84.15 265.56A117.28 117.28 0 0 0 96.56 284.31Z" fill="#ffc4a7"/>
<path d="M96.56 284.31A117.28 117.28 0 0 1 84.15 265.56L90.19 262.35A110.44 110.44 0 0 0 101.87 280.00Z" fill="#b2e6cd"/>
<path d="M101.87 280.00A110.44 110.44 0 0 1 90.19 262.35L96.23 259.14A103.60 103.60 0 0 0 107.19 275.70Z" fill="#ff9967"/>
<path d="M107.19 275.70A103.60 103.60 0 0 1 96.23 259.14L102.27 255.93A96.76 96.76 0 0 0 112.50 271.39Z" fill="#a6e2c5"/>
<path d="M112.50 271.39A96.76 96.76 0 0 1 102.27 255.93L108.31 252.71A89.92 89.92 0 0 0 117.82 267.09Z" fill="#c6ecd9"/>
<path d="M117.82 267.09A89.92 89.92 0 0 1 108.31 252.71L114.34 249.50A83.08 83.08 0 0 0 123.13 262.78Z" fill="#ffffff"/>
<path d="M123.13 262.78A83.08 83.08 0 0 1 114.34 249.50L120.38 246.29A76.24 76.24 0 0 0 128.45 258.48Z" fill="#ffbb98"/>
<path d="M128.45 258.48A76.24 76.24 0 0 1 120.38 246.29L126.42 243.08A69.40 69.40 0 0 0 133.77 254.17Z" fill="#a6e2c5"/>
<path d="M66.03 275.19A137.80 137.80 0 0 1 55.92 250.79L62.46 248.79A130.96 130.96 0 0 0 72.07 271.98Z" fill="#ffbb98"/>
<path d="M72.07 271.98A130.96 130.96 0 0 1 62.46 248.79L69.00 246.79A124.12 124.12 0 0 0 78.11 268.77Z" fill="#cceede"/>
<path d="M78.11 268.77A124.12 124.12 0 0 1 69.00 246.79L75.54 244.79A117.28 117.28 0 0 0 84.15 265.56Z" fill="#ffbfa0"/>
<path d="M84.15 265.56A117.28 117.28 0 0 1 75.54 244.79L82.09 242.79A110.44 110.44 0 0 0 90.19 262.35Z" fill="#b2e6cd"/>
<path d="M90.19 262.35A110.44 110.44 0 0 1 82.09 242.79L88.63 240.79A103.60 103.60 0 0 0 96.23 259.14Z" fill="#ffa071"/>
<path d="M96.23 259.14A103.60 103.60 0 0 1 88.63 240.79L95.17 238.79A96.76 96.76 0 0 0 102.27 255.93Z" fill="#bfead5"/>
<path d="M102.27 255.93A96.76 96.76 0 0 1 95.17 238.79L101.71 236.79A89.92 89.92 0 0 0 108.31 252.71Z" fill="#e6f7ee"/>
<path d="M108.31 252.71A89.92 89.92 0 0 1 101.71 236.79L108.25 234.79A83.08 83.08 0 0 0 114.34 249.50Z" fill="#fff0e9"/>
<path d="M114.34 249.50A83.08 83.08 0 0 1 108.25 234.79L114.79 232.79A76.24 76.24 0 0 0 120.38 246.29Z" fill="#ffc4a7"/>
<path d="M120.38 246.29A76.24 76.24 0 0 1 114.79 232.79L121.33 230.79A69.40 69.40 0 0 0 126.42 243.08Z" fill="#a6e2c5"/>
<path d="M55.92 250.79A137.80 137.80 0 0 1 50.65 224.90L57.46 224.19A130.96 130.96 0 0 0 62.46 248.79Z" fill="#ffc4a7"/>
<path d="M62.46 248.79A130.96 130.96 0 0 1 57.46 224.19L64.26 223.47A124.12 124.12 0 0 0 69.00 246.79Z" fill="#cceede"/>
<path d="M69.00 246.79A124.12 124.12 0 0 1 64.26 223.47L71.06 222.76A117.28 117.28 0 0 0 75.54 244.79Z" fill="#ffc9ae"/>
<path d="M75.54 244.79A117.28 117.28 0 0 1 71.06 222.76L77.87 222.04A110.44 110.44 0 0 0 82.09 242.79Z" fill="#b2e6cd"/>
<path d="M82.09 242.79A110.44 110.44 0 0 1 77.87 222.04L84.67 221.33A103.60 103.60 0 0 0 88.63 240.79Z" fill="#ffa071"/>
<path d="M88.63 240.79A103.60 103.60 0 0 1 84.67 221.33L91.47 220.61A96.76 96.76 0 0 0 95.17 238.79Z" fill="#dff5ea"/>
<path d="M95.17 238.79A96.76 96.76 0 0 1 91.47 220.61L98.27 219.90A89.92 89.92 0 0 0 101.71 236.79Z" fill="#b9e8d1"/>
<path d="M101.71 236.79A89.92 89.92 0 0 1 98.27 219.90L105.08 219.18A83.08 83.08 0 0 0 108.25 234.79Z" fill="#ffebe2"/>
<path d="M108.25 234.79A83.08 83.08 0 0 1 105.08 219.18L111.88 218.47A76.24 76.24 0 0 0 114.79 232.79Z" fill="#ffc9ae"/>
<path d="M114.79 232.79A76.24 76.24 0 0 1 111.88 218.47L118.68 217.75A69.40 69.40 0 0 0 121.33 230.79Z" fill="#a6e2c5"/>
<path d="M50.65 224.90A137.80 137.80 0 0 1 50.42 198.49L57.24 199.09A130.96 130.96 0 0 0 57.46 224.19Z" fill="#ffbfa0"/>
<path d="M57.46 224.19A130.96 130.96 0 0 1 57.24 199.09L64.05 199.68A124.12 124.12 0 0 0 64.26 223.47Z" fill="#cceede"/>
<path d="M64.26 223.47A124.12 124.12 0 0 1 64.05 199.68L70.87 200.28A117.28 117.28 0 0 0 71.06 222.76Z" fill="#ffc4a7"/>
<path d="M71.06 222.76A117.28 117.28 0 0 1 70.87 200.28L77.68 200.87A110.44 110.44 0 0 0 77.87 222.04Z" fill="#b9e8d1"/>
<path d="M77.87 222.04A110.44 110.44 0 0 1 77.68 200.87L84.49 201.47A103.60 103.60 0 0 0 84.67 221.33Z" fill="#ffa071"/>
<path d="M84.67 221.33A103.60 103.60 0 0 1 84.49 201.47L91.31 202.07A96.76 96.76 0 0 0 91.47 220.61Z" fill="#d2f0e2"/>
<path d="M91.47 220.61A96.76 96.76 0 0 1 91.31 202.07L98.12 202.66A89.92 89.92 0 0 0 98.27 219.90Z" fill="#bfead5"/>
<path d="M98.27 219.90A89.92 89.92 0 0 1 98.12 202.66L104.94 203.26A83.08 83.08 0 0 0 105.08 219.18Z" fill="#ffffff"/>
<path d="M105.08 219.18A83.08 83.08 0 0 1 104.94 203.26L111.75 203.86A76.24 76.24 0 0 0 111.88 218.47Z" fill="#ffc9ae"/>
<path d="M111.88 218.47A76.24 76.24 0 0 1 111.75 203.86L118.56 204.45A69.40 69.40 0 0 0 118.68 217.75Z" fill="#b9e8d1"/>
<path d="M50.42 198.49A137.80 137.80 0 0 1 55.24 172.52L61.81 174.40A130.96 130.96 0 0 0 57.24 199.09Z" fill="#ffc4a7"/>
<path d="M57.24 199.09A130.96 130.96 0 0 1 61.81 174.40L68.39 176.29A124.12 124.12 0 0 0 64.05 199.68Z" fill="#d2f0e2"/>
<path d="M64.05 199.68A124.12 124.12 0 0 1 68.39 176.29L74.96 178.17A117.28 117.28 0 0 0 70.87 200.28Z" fill="#ffc9ae"/>
<path d="M70.87 200.28A117.28 117.28 0 0 1 74.96 178.17L81.54 180.06A110.44 110.44 0 0 0 77.68 200.87Z" fill="#bfead5"/>
<path d="M77.68 200.87A110.44 110.44 0 0 1 81.54 180.06L88.11 181.94A103.60 103.60 0 0 0 84.49 201.47Z" fill="#ffa071"/>
<path d="M84.49 201.47A103.60 103.60 0 0 1 88.11 181.94L94.69 183.83A96.76 96.76 0 0 0 91.31 202.07Z" fill="#c6ecd9"/>
<path d="M91.31 202.07A96.76 96.76 0 0 1 94.69 183.83L101.26 185.71A89.92 89.92 0 0 0 98.12 202.66Z" fill="#b2e6cd"/>
<path d="M98.12 202.66A89.92 89.92 0 0 1 101.26 185.71L107.84 187.60A83.08 83.08 0 0 0 104.94 203.26Z" fill="#fff5f0"/>
<path d="M104.94 203.26A83.08 83.08 0 0 1 107.84 187.60L114.41 189.49A76.24 76.24 0 0 0 111.75 203.86Z" fill="#ffc9ae"/>
<path d="M111.75 203.86A76.24 76.24 0 0 1 114.41 189.49L120.99 191.37A69.40 69.40 0 0 0 118.56 204.45Z" fill="#b9e8d1"/>
<path d="M55.24 172.52A137.80 137.80 0 0 1 64.92 147.94L71.01 151.05A130.96 130.96 0 0 0 61.81 174.40Z" fill="#ffc4a7"/>
<path d="M61.81 174.40A130.96 130.96 0 0 1 71.01 151.05L77.11 154.15A124.12 124.12 0 0 0 68.39 176.29Z" fill="#ace4c9"/>
<path d="M68.39 176.29A124.12 124.12 0 0 1 77.11 154.15L83.20 157.26A117.28 117.28 0 0 0 74.96 178.17Z" fill="#ffc9ae"/>
<path d="M74.96 178.17A117.28 117.28 0 0 1 83.20 157.26L89.30 160.36A110.44 110.44 0 0 0 81.54 180.06Z" fill="#9fe0c0"/>
<path d="M81.54 180.06A110.44 110.44 0 0 1 89.30 160.36L95.39 163.47A103.60 103.60 0 0 0 88.11 181.94Z" fill="#ffceb6"/>
<path d="M88.11 181.94A103.60 103.60 0 0 1 95.39 163.47L101.49 166.57A96.76 96.76 0 0 0 94.69 183.83Z" fill="#ffe7da"/>
<path d="M94.69 183.83A96.76 96.76 0 0 1 101.49 166.57L107.58 169.68A89.92 89.92 0 0 0 101.26 185.71Z" fill="#ffffff"/>
<path d="M101.26 185.71A89.92 89.92 0 0 1 107.58 169.68L113.68 172.78A83.08 83.08 0 0 0 107.84 187.60Z" fill="#fff0e9"/>
<path d="M107.84 187.60A83.08 83.08 0 0 1 113.68 172.78L119.77 175.89A76.24 76.24 0 0 0 114.41 189.49Z" fill="#ffc9ae"/>
<path d="M114.41 189.49A76.24 76.24 0 0 1 119.77 175.89L125.86 178.99A69.40 69.40 0 0 0 120.99 191.37Z" fill="#99debc"/>
<path d="M64.92 147.94A137.80 137.80 0 0 1 79.11 125.66L84.50 129.87A130.96 130.96 0 0 0 71.01 151.05Z" fill="#ffc4a7"/>
<path d="M71.01 151.05A130.96 130.96 0 0 1 84.50 129.87L89.89 134.08A124.12 124.12 0 0 0 77.11 154.15Z" fill="#d9f3e6"/>
<path d="M77.11 154.15A124.12 124.12 0 0 1 89.89 134.08L95.28 138.30A117.28 117.28 0 0 0 83.20 157.26Z" fill="#ffc4a7"/>
<path d="M83.20 157.26A117.28 117.28 0 0 1 95.28 138.30L100.67 142.51A110.44 110.44 0 0 0 89.30 160.36Z" fill="#b2e6cd"/>
<path d="M89.30 160.36A110.44 110.44 0 0 1 100.67 142.51L106.06 146.72A103.60 103.60 0 0 0 95.39 163.47Z" fill="#ffe7da"/>
<path d="M95.39 163.47A103.60 103.60 0 0 1 106.06 146.72L111.45 150.93A96.76 96.76 0 0 0 101.49 166.57Z" fill="#9fe0c0"/>
<path d="M101.49 166.57A96.76 96.76 0 0 1 111.45 150.93L116.84 155.14A89.92 89.92 0 0 0 107.58 169.68Z" fill="#ffffff"/>
<path d="M107.58 169.68A89.92 89.92 0 0 1 116.84 155.14L122.23 159.35A83.08 83.08 0 0 0 113.68 172.78Z" fill="#ffceb6"/>
<path d="M113.68 172.78A83.08 83.08 0 0 1 122.23 159.35L127.62 163.56A76.24 76.24 0 0 0 119.77 175.89Z" fill="#ffc4a7"/>
<path d="M119.77 175.89A76.24 76.24 0 0 1 127.62 163.56L133.01 167.77A69.40 69.40 0 0 0 125.86 178.99Z" fill="#9fe0c0"/>
<path d="M79.11 125.66A137.80 137.80 0 0 1 97.30 106.50L101.78 111.66A130.96 130.96 0 0 0 84.50 129.87Z" fill="#ffbb98"/>
<path d="M84.50 129.87A130.96 130.96 0 0 1 101.78 111.66L106.27 116.83A124.12 124.12 0 0 0 89.89 134.08Z" fill="#b2e6cd"/>
<path d="M89.89 134.08A124.12 124.12 0 0 1 106.27 116.83L110.76 121.99A117.28 117.28 0 0 0 95.28 138.30Z" fill="#ffbb98"/>
<path d="M95.28 138.30A117.28 117.28 0 0 1 110.76 121.99L115.24 127.15A110.44 110.44 0 0 0 100.67 142.51Z" fill="#ace4c9"/>
<path d="M100.67 142.51A110.44 110.44 0 0 1 115.24 127.15L119.73 132.31A103.60 103.60 0 0 0 106.06 146.72Z" fill="#ffe2d3"/>
<path d="M106.06 146.72A103.60 103.60 0 0 1 119.73 132.31L124.22 137.47A96.76 96.76 0 0 0 111.45 150.93Z" fill="#ace4c9"/>
<path d="M111.45 150.93A96.76 96.76 0 0 1 124.22 137.47L128.71 142.64A89.92 89.92 0 0 0 116.84 155.14Z" fill="#e6f7ee"/>
<path d="M116.84 155.14A89.92 89.92 0 0 1 128.71 142.64L133.19 147.80A83.08 83.08 0 0 0 122.23 159.35Z" fill="#ffceb6"/>
<path d="M122.23 159.35A83.08 83.08 0 0 1 133.19 147.80L137.68 152.96A76.24 76.24 0 0 0 127.62 163.56Z" fill="#ffbfa0"/>
<path d="M127.62 163.56A76.24 76.24 0 0 1 137.68 152.96L142.17 158.12A69.40 69.40 0 0 0 133.01 167.77Z" fill="#a6e2c5"/>
<path d="M97.30 106.50A137.80 137.80 0 0 1 118.80 91.16L122.22 97.09A130.96 130.96 0 0 0 101.78 111.66Z" fill="#ffbb98"/>
<path d="M101.78 111.66A130.96 130.96 0 0 1 122.22 97.09L125.64 103.01A124.12 124.12 0 0 0 106.27 116.83Z" fill="#cceede"/>
<path d="M106.27 116.83A124.12 124.12 0 0 1 125.64 103.01L129.06 108.93A117.28 117.28 0 0 0 110.76 121.99Z" fill="#ffb691"/>
<path d="M110.76 121.99A117.28 117.28 0 0 1 129.06 108.93L132.48 114.86A110.44 110.44 0 0 0 115.24 127.15Z" fill="#b2e6cd"/>
<path d="M115.24 127.15A110.44 110.44 0 0 1 132.48 114.86L135.90 120.78A103.60 103.60 0 0 0 119.73 132.31Z" fill="#ffddcc"/>
<path d="M119.73 132.31A103.60 103.60 0 0 1 135.90 120.78L139.32 126.70A96.76 96.76 0 0 0 124.22 137.47Z" fill="#b2e6cd"/>
<path d="M124.22 137.47A96.76 96.76 0 0 1 139.32 126.70L142.74 132.63A89.92 89.92 0 0 0 128.71 142.64Z" fill="#d9f3e6"/>
<path d="M128.71 142.64A89.92 89.92 0 0 1 142.74 132.63L146.16 138.55A83.08 83.08 0 0 0 133.19 147.80Z" fill="#ffddcc"/>
<path d="M133.19 147.80A83.08 83.08 0 0 1 146.16 138.55L149.58 144.47A76.24 76.24 0 0 0 137.68 152.96Z" fill="#ffbb98"/>
<path d="M137.68 152.96A76.24 76.24 0 0 1 149.58 144.47L153.00 150.40A69.40 69.40 0 0 0 142.17 158.12Z" fill="#ace4c9"/>
<path d="M213.99 75.23L200.94 142.38M239.32 82.73L213.70 146.15M262.75 94.93L225.50 152.30M283.42 111.37L235.91 160.58M300.58 131.46L244.55 170.69M313.59 154.45L251.10 182.27M321.97 179.50L255.32 194.89M325.42 205.69L257.06 208.08M323.80 232.06L256.25 221.36M317.19 257.63L252.91 234.24M305.82 281.47L247.19 246.24M290.11 302.71L239.27 256.94M270.63 320.55L229.47 265.93M248.11 334.35L218.12 272.88M223.37 343.60L205.66 277.54M197.31 347.96L192.54 279.73M170.91 347.27L179.24 279.38M145.12 341.56L166.25 276.50M120.89 331.02L154.05 271.20M99.12 316.06L143.09 263.66M80.61 297.22L133.77 254.17M66.03 275.19L126.42 243.08M55.92 250.79L121.33 230.79M50.65 224.90L118.68 217.75M50.42 198.49L118.56 204.45M55.24 172.52L120.99 191.37M64.92 147.94L125.86 178.99M79.11 125.66L133.01 167.77M97.30 106.50L142.17 158.12M187.70 79.54A130.96 130.96 0 1 1 122.22 97.09M187.70 86.38A124.12 124.12 0 1 1 125.64 103.01M187.70 93.22A117.28 117.28 0 1 1 129.06 108.93M187.70 100.06A110.44 110.44 0 1 1 132.48 114.86M187.70 106.90A103.60 103.60 0 1 1 135.90 120.78M187.70 113.74A96.76 96.76 0 1 1 139.32 126.70M187.70 120.58A89.92 89.92 0 1 1 142.74 132.63M187.70 127.42A83.08 83.08 0 1 1 146.16 138.55M187.70 134.26A76.24 76.24 0 1 1 149.58 144.47" fill="none" stroke="#fff" stroke-width="0.45" stroke-opacity="0.75"/>
<path d="M207.41 143.96L205.78 149.47M219.75 148.94L217.09 154.04M205.78 149.47A63.65 63.65 0 0 1 217.09 154.04M194.35 141.42L193.74 147.73M211.55 151.48L211.32 152.03M193.74 147.73A63.06 63.06 0 0 1 211.32 152.03M240.47 165.43L240.47 165.43M248.10 176.33L248.10 176.33M240.47 165.43A69.40 69.40 0 0 1 248.10 176.33M244.55 170.69L244.55 170.69M253.51 188.48L253.51 188.48M244.55 170.69A69.40 69.40 0 0 1 253.51 188.48M249.67 179.26L249.67 179.26M256.51 201.44L256.51 201.44M249.67 179.26A69.40 69.40 0 0 1 256.51 201.44M230.90 156.19L229.41 158.06M254.02 190.06L251.73 190.77M229.41 158.06A67.00 67.00 0 0 1 251.73 190.77M256.97 214.74L256.13 214.69M254.89 227.88L254.08 227.67M256.13 214.69A68.56 68.56 0 0 1 254.08 227.67M243.49 251.78L243.49 251.78M234.59 261.67L234.59 261.67M243.49 251.78A69.40 69.40 0 0 1 234.59 261.67M250.34 240.38L248.80 239.64M239.27 256.94L238.01 255.80M248.80 239.64A67.69 67.69 0 0 1 238.01 255.80M255.42 221.23L252.90 220.83M243.99 248.11L242.59 247.18M252.90 220.83A66.01 66.01 0 0 1 242.59 247.18M243.04 172.73L239.19 175.36M249.17 234.56L245.75 233.22M239.19 175.36A62.34 62.34 0 0 1 245.75 233.22M202.69 149.24L201.13 155.60M249.64 203.48L243.86 204.13M201.13 155.60A56.52 56.52 0 0 1 243.86 204.13M199.15 278.95L198.74 276.46M185.88 279.88L185.95 277.35M198.74 276.46A66.88 66.88 0 0 1 185.95 277.35M160.03 274.14L160.75 272.49M148.39 267.69L149.42 266.20M160.75 272.49A67.59 67.59 0 0 1 149.42 266.20M154.93 269.62L155.01 269.47M138.20 259.14L139.61 257.76M155.01 269.47A67.43 67.43 0 0 1 139.61 257.76M172.68 278.25L173.68 273.72M146.89 264.17L148.50 262.05M173.68 273.72A64.76 64.76 0 0 1 148.50 262.05M129.83 248.80L133.06 246.66M123.58 237.06L127.16 235.57M133.06 246.66A65.52 65.52 0 0 1 127.16 235.57M118.30 211.11L120.59 211.09M119.46 197.85L121.71 198.27M120.59 211.09A67.11 67.11 0 0 1 121.71 198.27M119.69 224.34L122.80 223.70M120.84 204.65L121.73 204.73M122.80 223.70A66.22 66.22 0 0 1 121.73 204.73M129.85 241.26L131.07 240.61M121.58 214.25L123.66 214.14M131.07 240.61A64.14 64.14 0 0 1 123.66 214.14M160.46 269.25L161.25 267.55M125.93 227.78L127.14 227.44M161.25 267.55A62.88 62.88 0 0 1 127.14 227.44M192.37 277.21L191.94 271.11M139.79 251.24L141.42 249.86M191.94 271.11A60.76 60.76 0 0 1 141.42 249.86M212.00 275.51L208.67 266.58M164.14 266.50L164.49 265.69M208.67 266.58A59.87 59.87 0 0 1 164.49 265.69M223.96 269.67L218.76 261.18M186.49 270.36L186.50 269.93M218.76 261.18A59.44 59.44 0 0 1 186.50 269.93M137.36 162.73L139.66 164.92M147.40 154.00L149.24 156.59M139.66 164.92A66.22 66.22 0 0 1 149.24 156.59M129.17 173.21L133.05 175.68M144.25 160.52L145.19 161.59M133.05 175.68A64.80 64.80 0 0 1 145.19 161.59M123.13 185.06L132.52 188.76M138.61 168.20L142.77 171.79M132.52 188.76A59.30 59.30 0 0 1 142.77 171.79M203.26 267.87L202.48 265.02M136.93 179.85L139.34 181.30M202.48 265.02A56.49 56.49 0 0 1 139.34 181.30M230.12 173.15L220.35 181.76M142.60 244.51L152.97 236.69M220.35 181.76A43.50 43.50 0 1 1 152.97 236.69" fill="none" stroke="#222" stroke-width="0.50"/>
<text class="sm" transform="translate(201.26 69.65) rotate(-84.50)" font-size="3.90" text-anchor="start"><tspan x="0" y="1.83">Mogibacterium unclassified</tspan></text>
<text class="sm" transform="translate(227.89 74.83) rotate(-73.50)" font-size="3.90" text-anchor="start"><tspan x="0" y="1.83">Leptotrichia unclassified</tspan></text>
<text class="sm" transform="translate(253.04 84.99) rotate(-62.50)" font-size="3.90" text-anchor="start"><tspan x="0" y="1.83">TM7x unclassified</tspan></text>
<text class="sm" transform="translate(275.79 99.76) rotate(-51.50)" font-size="3.90" text-anchor="start"><tspan x="0" y="1.83">Bacteroidetes incertaesedis</tspan></text>
<text class="sm" transform="translate(295.30 118.60) rotate(-40.50)" font-size="3.90" text-anchor="start"><tspan x="0" y="1.83">Selenomonas unclassified</tspan></text>
<text class="sm" transform="translate(310.86 140.82) rotate(-29.50)" font-size="3.90" text-anchor="start"><tspan x="0" y="1.83">Capnocytophaga unclassified</tspan></text>
<text class="sm" transform="translate(321.89 165.60) rotate(-18.50)" font-size="3.90" text-anchor="start"><tspan x="0" y="1.83">Streptococcus unclassified</tspan></text>
<text class="sm" transform="translate(327.99 192.03) rotate(-7.50)" font-size="3.90" text-anchor="start"><tspan x="0" y="0.83">Lachnoanaerobaculum</tspan><tspan x="0" y="5.23">unclassified</tspan></text>
<text class="sm" transform="translate(328.94 219.14) rotate(3.50)" font-size="3.90" text-anchor="start"><tspan x="0" y="1.83">Bacteroidaceae F0040 unclassified</tspan></text>
<text class="sm" transform="translate(324.69 245.93) rotate(14.50)" font-size="3.90" text-anchor="start"><tspan x="0" y="0.83">Streptococcus unclassified</tspan><tspan x="0" y="5.23">(pheno.2412)</tspan></text>
<text class="sm" transform="translate(315.42 271.42) rotate(25.50)" font-size="3.90" text-anchor="start"><tspan x="0" y="1.83">Veillonella rogosae</tspan></text>
<text class="sm" transform="translate(301.45 294.67) rotate(36.50)" font-size="3.90" text-anchor="start"><tspan x="0" y="1.83">Prevotella histicola</tspan></text>
<text class="sm" transform="translate(283.30 314.82) rotate(47.50)" font-size="3.90" text-anchor="start"><tspan x="0" y="1.83">Campylobacter  unclassified</tspan></text>
<text class="sm" transform="translate(261.63 331.15) rotate(58.50)" font-size="3.90" text-anchor="start"><tspan x="0" y="1.83">Granulicatella unclassified</tspan></text>
<text class="sm" transform="translate(237.25 343.04) rotate(69.50)" font-size="3.90" text-anchor="start"><tspan x="0" y="1.83">Solobacterium unclassified</tspan></text>
<text class="sm" transform="translate(211.05 350.06) rotate(80.50)" font-size="3.90" text-anchor="start"><tspan x="0" y="1.83">Streptococcus anginosus</tspan></text>
<text class="sm" transform="translate(184.00 351.95) rotate(271.50)" font-size="3.90" text-anchor="end"><tspan x="0" y="1.83">Oribacterium sinus</tspan></text>
<text class="sm" transform="translate(157.07 348.65) rotate(282.50)" font-size="3.90" text-anchor="end"><tspan x="0" y="1.83">Prevotella unclassified</tspan></text>
<text class="sm" transform="translate(131.28 340.26) rotate(293.50)" font-size="3.90" text-anchor="end"><tspan x="0" y="1.83">Rothia mucilaginosa</tspan></text>
<text class="sm" transform="translate(107.55 327.11) rotate(304.50)" font-size="3.90" text-anchor="end"><tspan x="0" y="1.83">Fusobacterium periodonticum</tspan></text>
<text class="sm" transform="translate(86.78 309.68) rotate(315.50)" font-size="3.90" text-anchor="end"><tspan x="0" y="1.83">Veillonellaceae unclassified(pheno.2247)</tspan></text>
<text class="sm" transform="translate(69.71 288.60) rotate(326.50)" font-size="3.90" text-anchor="end"><tspan x="0" y="1.83">Veillonellaceae unclassified(pheno.2012)</tspan></text>
<text class="sm" transform="translate(56.97 264.65) rotate(337.50)" font-size="3.90" text-anchor="end"><tspan x="0" y="1.83">Lactobacterium unclassified</tspan></text>
<text class="sm" transform="translate(49.04 238.71) rotate(348.50)" font-size="3.90" text-anchor="end"><tspan x="0" y="1.83">Campylobacter unclassified</tspan></text>
<text class="sm" transform="translate(46.21 211.73) rotate(359.50)" font-size="3.90" text-anchor="end"><tspan x="0" y="0.83">Veillonellaceae F0422</tspan><tspan x="0" y="5.23">unclassified</tspan></text>
<text class="sm" transform="translate(48.57 184.71) rotate(370.50)" font-size="3.90" text-anchor="end"><tspan x="0" y="0.83">Streptococcus</tspan><tspan x="0" y="5.23">unclassified(pheno.2533)</tspan></text>
<text class="sm" transform="translate(56.05 158.64) rotate(381.50)" font-size="3.90" text-anchor="end"><tspan x="0" y="1.83">Streptobacillus</tspan></text>
<text class="sm" transform="translate(68.36 134.47) rotate(392.50)" font-size="3.90" text-anchor="end"><tspan x="0" y="1.83">Cardiobacteria aeruginosa</tspan></text>
<text class="sm" transform="translate(85.06 113.10) rotate(403.50)" font-size="3.90" text-anchor="end"><tspan x="0" y="1.83">Streptococcaceae unclassified(pheno.1234)</tspan></text>
<text class="sm" transform="translate(105.53 95.30) rotate(414.50)" font-size="3.90" text-anchor="end"><tspan x="0" y="1.83">Streptococcus pseudopneumoniae</tspan></text>
<text x="186.20" y="76.12" font-size="4.70" text-anchor="end" dominant-baseline="central">Wm.OR</text>
<text x="186.20" y="82.96" font-size="4.70" text-anchor="end" dominant-baseline="central">Wm.P</text>
<text x="186.20" y="89.80" font-size="4.70" text-anchor="end" dominant-baseline="central">WM.OR</text>
<text x="186.20" y="96.64" font-size="4.70" text-anchor="end" dominant-baseline="central">WM.P</text>
<text x="186.20" y="103.48" font-size="4.70" text-anchor="end" dominant-baseline="central">SM.OR</text>
<text x="186.20" y="110.32" font-size="4.70" text-anchor="end" dominant-baseline="central">SM.P</text>
<text x="186.20" y="117.16" font-size="4.70" text-anchor="end" dominant-baseline="central">Egger.OR</text>
<text x="186.20" y="124.00" font-size="4.70" text-anchor="end" dominant-baseline="central">Egger.P</text>
<text x="186.20" y="130.84" font-size="4.70" text-anchor="end" dominant-baseline="central">IVW.OR</text>
<text x="186.20" y="137.68" font-size="4.70" text-anchor="end" dominant-baseline="central">IVW.P</text>
<defs><linearGradient id="lg182" x1="0" y1="0" x2="0" y2="1"><stop offset="0.000" stop-color="#ff5500"/><stop offset="0.025" stop-color="#ff5500"/><stop offset="0.050" stop-color="#ff5500"/><stop offset="0.075" stop-color="#ff5500"/><stop offset="0.100" stop-color="#ff5500"/><stop offset="0.125" stop-color="#ff5500"/><stop offset="0.150" stop-color="#ff5703"/><stop offset="0.175" stop-color="#ff6315"/><stop offset="0.200" stop-color="#ff7028"/><stop offset="0.225" stop-color="#ff7c3a"/><stop offset="0.250" stop-color="#ff884d"/><stop offset="0.275" stop-color="#ff9560"/><stop offset="0.300" stop-color="#ffa172"/><stop offset="0.325" stop-color="#ffae85"/><stop offset="0.350" stop-color="#ffba97"/><stop offset="0.375" stop-color="#ffc6aa"/><stop offset="0.400" stop-color="#ffd3bd"/><stop offset="0.425" stop-color="#ffdfcf"/><stop offset="0.450" stop-color="#ffece2"/><stop offset="0.475" stop-color="#fff8f4"/><stop offset="0.500" stop-color="#f7fcfa"/><stop offset="0.525" stop-color="#e4f6ee"/><stop offset="0.550" stop-color="#d2f0e1"/><stop offset="0.575" stop-color="#bfead5"/><stop offset="0.600" stop-color="#ade4c9"/><stop offset="0.625" stop-color="#9adebd"/><stop offset="0.650" stop-color="#87d8b1"/><stop offset="0.675" stop-color="#75d2a5"/><stop offset="0.700" stop-color="#62cc98"/><stop offset="0.725" stop-color="#50c68c"/><stop offset="0.750" stop-color="#3dc080"/><stop offset="0.775" stop-color="#2bba74"/><stop offset="0.800" stop-color="#18b468"/><stop offset="0.825" stop-color="#05ae5b"/><stop offset="0.850" stop-color="#00ac58"/><stop offset="0.875" stop-color="#00ac58"/><stop offset="0.900" stop-color="#00ac58"/><stop offset="0.925" stop-color="#00ac58"/><stop offset="0.950" stop-color="#00ac58"/><stop offset="0.975" stop-color="#00ac58"/><stop offset="1.000" stop-color="#00ac58"/></linearGradient></defs><rect x="182.00" y="190.00" width="6.00" height="28.00" fill="url(#lg182)"/><text transform="translate(191.20 194.10) rotate(90)" font-size="2.60" text-anchor="middle" dominant-baseline="central">2</text><text transform="translate(191.20 198.90) rotate(90)" font-size="2.60" text-anchor="middle" dominant-baseline="central">1</text><text transform="translate(191.20 203.70) rotate(90)" font-size="2.60" text-anchor="middle" dominant-baseline="central">0</text><text transform="translate(191.20 208.50) rotate(90)" font-size="2.60" text-anchor="middle" dominant-baseline="central">-1</text><text transform="translate(191.20 213.30) rotate(90)" font-size="2.60" text-anchor="middle" dominant-baseline="central">-2</text>
</g>
<g clip-path="url(#cB)">
<path d="M560.80 73.00A137.50 137.50 0 0 1 587.04 75.53L585.73 82.26A130.64 130.64 0 0 0 560.80 79.86Z" fill="#ffae85"/>
<path d="M560.80 79.86A130.64 130.64 0 0 1 585.73 82.26L584.42 88.99A123.78 123.78 0 0 0 560.80 86.72Z" fill="#8fdab6"/>
<path d="M560.80 86.72A123.78 123.78 0 0 1 584.42 88.99L583.11 95.73A116.92 116.92 0 0 0 560.80 93.58Z" fill="#ffae85"/>
<path d="M560.80 93.58A116.92 116.92 0 0 1 583.11 95.73L581.80 102.46A110.06 110.06 0 0 0 560.80 100.44Z" fill="#9ddfbf"/>
<path d="M560.80 100.44A110.06 110.06 0 0 1 581.80 102.46L580.49 109.20A103.20 103.20 0 0 0 560.80 107.30Z" fill="#ffae85"/>
<path d="M560.80 107.30A103.20 103.20 0 0 1 580.49 109.20L579.18 115.93A96.34 96.34 0 0 0 560.80 114.16Z" fill="#9ddfbf"/>
<path d="M560.80 114.16A96.34 96.34 0 0 1 579.18 115.93L577.87 122.66A89.48 89.48 0 0 0 560.80 121.02Z" fill="#ffcbb1"/>
<path d="M560.80 121.02A89.48 89.48 0 0 1 577.87 122.66L576.56 129.40A82.62 82.62 0 0 0 560.80 127.88Z" fill="#6bcf9e"/>
<path d="M560.80 127.88A82.62 82.62 0 0 1 576.56 129.40L575.26 136.13A75.76 75.76 0 0 0 560.80 134.74Z" fill="#ffae85"/>
<path d="M560.80 134.74A75.76 75.76 0 0 1 575.26 136.13L573.95 142.87A68.90 68.90 0 0 0 560.80 141.60Z" fill="#57c891"/>
<path d="M587.04 75.53A137.50 137.50 0 0 1 612.31 83.01L609.74 89.37A130.64 130.64 0 0 0 585.73 82.26Z" fill="#ffae85"/>
<path d="M585.73 82.26A130.64 130.64 0 0 1 609.74 89.37L607.17 95.73A123.78 123.78 0 0 0 584.42 88.99Z" fill="#c9eedc"/>
<path d="M584.42 88.99A123.78 123.78 0 0 1 607.17 95.73L604.60 102.09A116.92 116.92 0 0 0 583.11 95.73Z" fill="#ffae85"/>
<path d="M583.11 95.73A116.92 116.92 0 0 1 604.60 102.09L602.03 108.45A110.06 110.06 0 0 0 581.80 102.46Z" fill="#75d2a5"/>
<path d="M581.80 102.46A110.06 110.06 0 0 1 602.03 108.45L599.46 114.81A103.20 103.20 0 0 0 580.49 109.20Z" fill="#ffae85"/>
<path d="M580.49 109.20A103.20 103.20 0 0 1 599.46 114.81L596.89 121.18A96.34 96.34 0 0 0 579.18 115.93Z" fill="#6bcf9e"/>
<path d="M579.18 115.93A96.34 96.34 0 0 1 596.89 121.18L594.32 127.54A89.48 89.48 0 0 0 577.87 122.66Z" fill="#ffae85"/>
<path d="M577.87 122.66A89.48 89.48 0 0 1 594.32 127.54L591.75 133.90A82.62 82.62 0 0 0 576.56 129.40Z" fill="#9ddfbf"/>
<path d="M576.56 129.40A82.62 82.62 0 0 1 591.75 133.90L589.18 140.26A75.76 75.76 0 0 0 575.26 136.13Z" fill="#ffae85"/>
<path d="M575.26 136.13A75.76 75.76 0 0 1 589.18 140.26L586.61 146.62A68.90 68.90 0 0 0 573.95 142.87Z" fill="#6bcf9e"/>
<path d="M612.31 83.01A137.50 137.50 0 0 1 635.69 95.18L631.95 100.94A130.64 130.64 0 0 0 609.74 89.37Z" fill="#ffae85"/>
<path d="M609.74 89.37A130.64 130.64 0 0 1 631.95 100.94L628.22 106.69A123.78 123.78 0 0 0 607.17 95.73Z" fill="#7ad4a8"/>
<path d="M607.17 95.73A123.78 123.78 0 0 1 628.22 106.69L624.48 112.44A116.92 116.92 0 0 0 604.60 102.09Z" fill="#ffae85"/>
<path d="M604.60 102.09A116.92 116.92 0 0 1 624.48 112.44L620.74 118.20A110.06 110.06 0 0 0 602.03 108.45Z" fill="#70d1a1"/>
<path d="M602.03 108.45A110.06 110.06 0 0 1 620.74 118.20L617.01 123.95A103.20 103.20 0 0 0 599.46 114.81Z" fill="#ffae85"/>
<path d="M599.46 114.81A103.20 103.20 0 0 1 617.01 123.95L613.27 129.70A96.34 96.34 0 0 0 596.89 121.18Z" fill="#9ddfbf"/>
<path d="M596.89 121.18A96.34 96.34 0 0 1 613.27 129.70L609.53 135.46A89.48 89.48 0 0 0 594.32 127.54Z" fill="#ffb18a"/>
<path d="M594.32 127.54A89.48 89.48 0 0 1 609.53 135.46L605.80 141.21A82.62 82.62 0 0 0 591.75 133.90Z" fill="#94dcb9"/>
<path d="M591.75 133.90A82.62 82.62 0 0 1 605.80 141.21L602.06 146.96A75.76 75.76 0 0 0 589.18 140.26Z" fill="#ffae85"/>
<path d="M589.18 140.26A75.76 75.76 0 0 1 602.06 146.96L598.33 152.72A68.90 68.90 0 0 0 586.61 146.62Z" fill="#75d2a5"/>
<path d="M635.69 95.18A137.50 137.50 0 0 1 656.32 111.59L651.55 116.53A130.64 130.64 0 0 0 631.95 100.94Z" fill="#ffae85"/>
<path d="M631.95 100.94A130.64 130.64 0 0 1 651.55 116.53L646.78 121.46A123.78 123.78 0 0 0 628.22 106.69Z" fill="#8ad9b2"/>
<path d="M628.22 106.69A123.78 123.78 0 0 1 646.78 121.46L642.02 126.39A116.92 116.92 0 0 0 624.48 112.44Z" fill="#ffae85"/>
<path d="M624.48 112.44A116.92 116.92 0 0 1 642.02 126.39L637.25 131.33A110.06 110.06 0 0 0 620.74 118.20Z" fill="#75d2a5"/>
<path d="M620.74 118.20A110.06 110.06 0 0 1 637.25 131.33L632.49 136.26A103.20 103.20 0 0 0 617.01 123.95Z" fill="#ffae85"/>
<path d="M617.01 123.95A103.20 103.20 0 0 1 632.49 136.26L627.72 141.20A96.34 96.34 0 0 0 613.27 129.70Z" fill="#94dcb9"/>
<path d="M613.27 129.70A96.34 96.34 0 0 1 627.72 141.20L622.96 146.13A89.48 89.48 0 0 0 609.53 135.46Z" fill="#ffb18a"/>
<path d="M609.53 135.46A89.48 89.48 0 0 1 622.96 146.13L618.19 151.07A82.62 82.62 0 0 0 605.80 141.21Z" fill="#9ddfbf"/>
<path d="M605.80 141.21A82.62 82.62 0 0 1 618.19 151.07L613.43 156.00A75.76 75.76 0 0 0 602.06 146.96Z" fill="#ffae85"/>
<path d="M602.06 146.96A75.76 75.76 0 0 1 613.43 156.00L608.66 160.94A68.90 68.90 0 0 0 598.33 152.72Z" fill="#80d6ac"/>
<path d="M656.32 111.59A137.50 137.50 0 0 1 673.43 131.63L667.81 135.57A130.64 130.64 0 0 0 651.55 116.53Z" fill="#ffae85"/>
<path d="M651.55 116.53A130.64 130.64 0 0 1 667.81 135.57L662.19 139.50A123.78 123.78 0 0 0 646.78 121.46Z" fill="#94dcb9"/>
<path d="M646.78 121.46A123.78 123.78 0 0 1 662.19 139.50L656.58 143.44A116.92 116.92 0 0 0 642.02 126.39Z" fill="#ffae85"/>
<path d="M642.02 126.39A116.92 116.92 0 0 1 656.58 143.44L650.96 147.37A110.06 110.06 0 0 0 637.25 131.33Z" fill="#7ad4a8"/>
<path d="M637.25 131.33A110.06 110.06 0 0 1 650.96 147.37L645.34 151.31A103.20 103.20 0 0 0 632.49 136.26Z" fill="#ffae85"/>
<path d="M632.49 136.26A103.20 103.20 0 0 1 645.34 151.31L639.72 155.24A96.34 96.34 0 0 0 627.72 141.20Z" fill="#80d6ac"/>
<path d="M627.72 141.20A96.34 96.34 0 0 1 639.72 155.24L634.10 159.18A89.48 89.48 0 0 0 622.96 146.13Z" fill="#ffb18a"/>
<path d="M622.96 146.13A89.48 89.48 0 0 1 634.10 159.18L628.48 163.11A82.62 82.62 0 0 0 618.19 151.07Z" fill="#9ddfbf"/>
<path d="M618.19 151.07A82.62 82.62 0 0 1 628.48 163.11L622.86 167.05A75.76 75.76 0 0 0 613.43 156.00Z" fill="#ffae85"/>
<path d="M613.43 156.00A75.76 75.76 0 0 1 622.86 167.05L617.24 170.98A68.90 68.90 0 0 0 608.66 160.94Z" fill="#6bcf9e"/>
<path d="M673.43 131.63A137.50 137.50 0 0 1 686.41 154.57L680.15 157.36A130.64 130.64 0 0 0 667.81 135.57Z" fill="#ffae85"/>
<path d="M667.81 135.57A130.64 130.64 0 0 1 680.15 157.36L673.88 160.15A123.78 123.78 0 0 0 662.19 139.50Z" fill="#9ddfbf"/>
<path d="M662.19 139.50A123.78 123.78 0 0 1 673.88 160.15L667.61 162.94A116.92 116.92 0 0 0 656.58 143.44Z" fill="#ffae85"/>
<path d="M656.58 143.44A116.92 116.92 0 0 1 667.61 162.94L661.34 165.73A110.06 110.06 0 0 0 650.96 147.37Z" fill="#80d6ac"/>
<path d="M650.96 147.37A110.06 110.06 0 0 1 661.34 165.73L655.08 168.52A103.20 103.20 0 0 0 645.34 151.31Z" fill="#ffae85"/>
<path d="M645.34 151.31A103.20 103.20 0 0 1 655.08 168.52L648.81 171.31A96.34 96.34 0 0 0 639.72 155.24Z" fill="#80d6ac"/>
<path d="M639.72 155.24A96.34 96.34 0 0 1 648.81 171.31L642.54 174.11A89.48 89.48 0 0 0 634.10 159.18Z" fill="#ffae85"/>
<path d="M634.10 159.18A89.48 89.48 0 0 1 642.54 174.11L636.28 176.90A82.62 82.62 0 0 0 628.48 163.11Z" fill="#a6e2c5"/>
<path d="M628.48 163.11A82.62 82.62 0 0 1 636.28 176.90L630.01 179.69A75.76 75.76 0 0 0 622.86 167.05Z" fill="#ffae85"/>
<path d="M622.86 167.05A75.76 75.76 0 0 1 630.01 179.69L623.74 182.48A68.90 68.90 0 0 0 617.24 170.98Z" fill="#75d2a5"/>
<path d="M686.41 154.57A137.50 137.50 0 0 1 694.78 179.57L688.09 181.11A130.64 130.64 0 0 0 680.15 157.36Z" fill="#ffae85"/>
<path d="M680.15 157.36A130.64 130.64 0 0 1 688.09 181.11L681.41 182.66A123.78 123.78 0 0 0 673.88 160.15Z" fill="#9ddfbf"/>
<path d="M673.88 160.15A123.78 123.78 0 0 1 681.41 182.66L674.72 184.20A116.92 116.92 0 0 0 667.61 162.94Z" fill="#ffae85"/>
<path d="M667.61 162.94A116.92 116.92 0 0 1 674.72 184.20L668.04 185.74A110.06 110.06 0 0 0 661.34 165.73Z" fill="#80d6ac"/>
<path d="M661.34 165.73A110.06 110.06 0 0 1 668.04 185.74L661.35 187.29A103.20 103.20 0 0 0 655.08 168.52Z" fill="#ffae85"/>
<path d="M655.08 168.52A103.20 103.20 0 0 1 661.35 187.29L654.67 188.83A96.34 96.34 0 0 0 648.81 171.31Z" fill="#80d6ac"/>
<path d="M648.81 171.31A96.34 96.34 0 0 1 654.67 188.83L647.99 190.37A89.48 89.48 0 0 0 642.54 174.11Z" fill="#ffae85"/>
<path d="M642.54 174.11A89.48 89.48 0 0 1 647.99 190.37L641.30 191.91A82.62 82.62 0 0 0 636.28 176.90Z" fill="#9ddfbf"/>
<path d="M636.28 176.90A82.62 82.62 0 0 1 641.30 191.91L634.62 193.46A75.76 75.76 0 0 0 630.01 179.69Z" fill="#ffae85"/>
<path d="M630.01 179.69A75.76 75.76 0 0 1 634.62 193.46L627.93 195.00A68.90 68.90 0 0 0 623.74 182.48Z" fill="#7ad4a8"/>
<path d="M694.78 179.57A137.50 137.50 0 0 1 698.22 205.70L691.36 205.94A130.64 130.64 0 0 0 688.09 181.11Z" fill="#ffae85"/>
<path d="M688.09 181.11A130.64 130.64 0 0 1 691.36 205.94L684.50 206.18A123.78 123.78 0 0 0 681.41 182.66Z" fill="#9ddfbf"/>
<path d="M681.41 182.66A123.78 123.78 0 0 1 684.50 206.18L677.65 206.42A116.92 116.92 0 0 0 674.72 184.20Z" fill="#ffae85"/>
<path d="M674.72 184.20A116.92 116.92 0 0 1 677.65 206.42L670.79 206.66A110.06 110.06 0 0 0 668.04 185.74Z" fill="#80d6ac"/>
<path d="M668.04 185.74A110.06 110.06 0 0 1 670.79 206.66L663.94 206.90A103.20 103.20 0 0 0 661.35 187.29Z" fill="#ffae85"/>
<path d="M661.35 187.29A103.20 103.20 0 0 1 663.94 206.90L657.08 207.14A96.34 96.34 0 0 0 654.67 188.83Z" fill="#80d6ac"/>
<path d="M654.67 188.83A96.34 96.34 0 0 1 657.08 207.14L650.23 207.38A89.48 89.48 0 0 0 647.99 190.37Z" fill="#ffae85"/>
<path d="M647.99 190.37A89.48 89.48 0 0 1 650.23 207.38L643.37 207.62A82.62 82.62 0 0 0 641.30 191.91Z" fill="#9ddfbf"/>
<path d="M641.30 191.91A82.62 82.62 0 0 1 643.37 207.62L636.51 207.86A75.76 75.76 0 0 0 634.62 193.46Z" fill="#ffae85"/>
<path d="M634.62 193.46A75.76 75.76 0 0 1 636.51 207.86L629.66 208.10A68.90 68.90 0 0 0 627.93 195.00Z" fill="#75d2a5"/>
<path d="M698.22 205.70A137.50 137.50 0 0 1 696.61 232.01L689.83 230.94A130.64 130.64 0 0 0 691.36 205.94Z" fill="#ffba97"/>
<path d="M691.36 205.94A130.64 130.64 0 0 1 689.83 230.94L683.06 229.86A123.78 123.78 0 0 0 684.50 206.18Z" fill="#fff2eb"/>
<path d="M684.50 206.18A123.78 123.78 0 0 1 683.06 229.86L676.28 228.79A116.92 116.92 0 0 0 677.65 206.42Z" fill="#ffba97"/>
<path d="M677.65 206.42A116.92 116.92 0 0 1 676.28 228.79L669.50 227.72A110.06 110.06 0 0 0 670.79 206.66Z" fill="#80d6ac"/>
<path d="M670.79 206.66A110.06 110.06 0 0 1 669.50 227.72L662.73 226.64A103.20 103.20 0 0 0 663.94 206.90Z" fill="#ffba97"/>
<path d="M663.94 206.90A103.20 103.20 0 0 1 662.73 226.64L655.95 225.57A96.34 96.34 0 0 0 657.08 207.14Z" fill="#85d7af"/>
<path d="M657.08 207.14A96.34 96.34 0 0 1 655.95 225.57L649.18 224.50A89.48 89.48 0 0 0 650.23 207.38Z" fill="#ffcbb1"/>
<path d="M650.23 207.38A89.48 89.48 0 0 1 649.18 224.50L642.40 223.42A82.62 82.62 0 0 0 643.37 207.62Z" fill="#ffd4be"/>
<path d="M643.37 207.62A82.62 82.62 0 0 1 642.40 223.42L635.63 222.35A75.76 75.76 0 0 0 636.51 207.86Z" fill="#ffc2a4"/>
<path d="M636.51 207.86A75.76 75.76 0 0 1 635.63 222.35L628.85 221.28A68.90 68.90 0 0 0 629.66 208.10Z" fill="#0fb162"/>
<path d="M696.61 232.01A137.50 137.50 0 0 1 690.01 257.53L683.56 255.18A130.64 130.64 0 0 0 689.83 230.94Z" fill="#ffb590"/>
<path d="M689.83 230.94A130.64 130.64 0 0 1 683.56 255.18L677.12 252.84A123.78 123.78 0 0 0 683.06 229.86Z" fill="#85d7af"/>
<path d="M683.06 229.86A123.78 123.78 0 0 1 677.12 252.84L670.67 250.49A116.92 116.92 0 0 0 676.28 228.79Z" fill="#ffb590"/>
<path d="M676.28 228.79A116.92 116.92 0 0 1 670.67 250.49L664.22 248.14A110.06 110.06 0 0 0 669.50 227.72Z" fill="#7ad4a8"/>
<path d="M669.50 227.72A110.06 110.06 0 0 1 664.22 248.14L657.78 245.80A103.20 103.20 0 0 0 662.73 226.64Z" fill="#ffb590"/>
<path d="M662.73 226.64A103.20 103.20 0 0 1 657.78 245.80L651.33 243.45A96.34 96.34 0 0 0 655.95 225.57Z" fill="#7ad4a8"/>
<path d="M655.95 225.57A96.34 96.34 0 0 1 651.33 243.45L644.88 241.10A89.48 89.48 0 0 0 649.18 224.50Z" fill="#ffba97"/>
<path d="M649.18 224.50A89.48 89.48 0 0 1 644.88 241.10L638.44 238.76A82.62 82.62 0 0 0 642.40 223.42Z" fill="#fff2eb"/>
<path d="M642.40 223.42A82.62 82.62 0 0 1 638.44 238.76L631.99 236.41A75.76 75.76 0 0 0 635.63 222.35Z" fill="#ffb590"/>
<path d="M635.63 222.35A75.76 75.76 0 0 1 631.99 236.41L625.54 234.07A68.90 68.90 0 0 0 628.85 221.28Z" fill="#75d2a5"/>
<path d="M690.01 257.53A137.50 137.50 0 0 1 678.66 281.32L672.78 277.78A130.64 130.64 0 0 0 683.56 255.18Z" fill="#ffb590"/>
<path d="M683.56 255.18A130.64 130.64 0 0 1 672.78 277.78L666.90 274.25A123.78 123.78 0 0 0 677.12 252.84Z" fill="#8fdab6"/>
<path d="M677.12 252.84A123.78 123.78 0 0 1 666.90 274.25L661.02 270.72A116.92 116.92 0 0 0 670.67 250.49Z" fill="#ffb18a"/>
<path d="M670.67 250.49A116.92 116.92 0 0 1 661.02 270.72L655.14 267.19A110.06 110.06 0 0 0 664.22 248.14Z" fill="#7ad4a8"/>
<path d="M664.22 248.14A110.06 110.06 0 0 1 655.14 267.19L649.26 263.65A103.20 103.20 0 0 0 657.78 245.80Z" fill="#ffb18a"/>
<path d="M657.78 245.80A103.20 103.20 0 0 1 649.26 263.65L643.38 260.12A96.34 96.34 0 0 0 651.33 243.45Z" fill="#7ad4a8"/>
<path d="M651.33 243.45A96.34 96.34 0 0 1 643.38 260.12L637.50 256.59A89.48 89.48 0 0 0 644.88 241.10Z" fill="#ffb590"/>
<path d="M644.88 241.10A89.48 89.48 0 0 1 637.50 256.59L631.62 253.05A82.62 82.62 0 0 0 638.44 238.76Z" fill="#ffeee5"/>
<path d="M638.44 238.76A82.62 82.62 0 0 1 631.62 253.05L625.74 249.52A75.76 75.76 0 0 0 631.99 236.41Z" fill="#ffb590"/>
<path d="M631.99 236.41A75.76 75.76 0 0 1 625.74 249.52L619.86 245.99A68.90 68.90 0 0 0 625.54 234.07Z" fill="#80d6ac"/>
<path d="M678.66 281.32A137.50 137.50 0 0 1 662.98 302.51L657.88 297.92A130.64 130.64 0 0 0 672.78 277.78Z" fill="#ffb18a"/>
<path d="M672.78 277.78A130.64 130.64 0 0 1 657.88 297.92L652.79 293.32A123.78 123.78 0 0 0 666.90 274.25Z" fill="#94dcb9"/>
<path d="M666.90 274.25A123.78 123.78 0 0 1 652.79 293.32L647.69 288.73A116.92 116.92 0 0 0 661.02 270.72Z" fill="#ffb18a"/>
<path d="M661.02 270.72A116.92 116.92 0 0 1 647.69 288.73L642.59 284.14A110.06 110.06 0 0 0 655.14 267.19Z" fill="#7ad4a8"/>
<path d="M655.14 267.19A110.06 110.06 0 0 1 642.59 284.14L637.49 279.55A103.20 103.20 0 0 0 649.26 263.65Z" fill="#ffb18a"/>
<path d="M649.26 263.65A103.20 103.20 0 0 1 637.49 279.55L632.39 274.96A96.34 96.34 0 0 0 643.38 260.12Z" fill="#7ad4a8"/>
<path d="M643.38 260.12A96.34 96.34 0 0 1 632.39 274.96L627.30 270.37A89.48 89.48 0 0 0 637.50 256.59Z" fill="#ffd4be"/>
<path d="M637.50 256.59A89.48 89.48 0 0 1 627.30 270.37L622.20 265.78A82.62 82.62 0 0 0 631.62 253.05Z" fill="#ffe1d1"/>
<path d="M631.62 253.05A82.62 82.62 0 0 1 622.20 265.78L617.10 261.19A75.76 75.76 0 0 0 625.74 249.52Z" fill="#ffba97"/>
<path d="M625.74 249.52A75.76 75.76 0 0 1 617.10 261.19L612.00 256.60A68.90 68.90 0 0 0 619.86 245.99Z" fill="#80d6ac"/>
<path d="M662.98 302.51A137.50 137.50 0 0 1 643.55 320.31L639.42 314.83A130.64 130.64 0 0 0 657.88 297.92Z" fill="#ffb18a"/>
<path d="M657.88 297.92A130.64 130.64 0 0 1 639.42 314.83L635.29 309.36A123.78 123.78 0 0 0 652.79 293.32Z" fill="#94dcb9"/>
<path d="M652.79 293.32A123.78 123.78 0 0 1 635.29 309.36L631.16 303.88A116.92 116.92 0 0 0 647.69 288.73Z" fill="#ffb18a"/>
<path d="M647.69 288.73A116.92 116.92 0 0 1 631.16 303.88L627.04 298.40A110.06 110.06 0 0 0 642.59 284.14Z" fill="#75d2a5"/>
<path d="M642.59 284.14A110.06 110.06 0 0 1 627.04 298.40L622.91 292.92A103.20 103.20 0 0 0 637.49 279.55Z" fill="#ffb18a"/>
<path d="M637.49 279.55A103.20 103.20 0 0 1 622.91 292.92L618.78 287.44A96.34 96.34 0 0 0 632.39 274.96Z" fill="#7ad4a8"/>
<path d="M632.39 274.96A96.34 96.34 0 0 1 618.78 287.44L614.65 281.96A89.48 89.48 0 0 0 627.30 270.37Z" fill="#ffba97"/>
<path d="M627.30 270.37A89.48 89.48 0 0 1 614.65 281.96L610.52 276.48A82.62 82.62 0 0 0 622.20 265.78Z" fill="#ffe9de"/>
<path d="M622.20 265.78A82.62 82.62 0 0 1 610.52 276.48L606.39 271.00A75.76 75.76 0 0 0 617.10 261.19Z" fill="#ffb18a"/>
<path d="M617.10 261.19A75.76 75.76 0 0 1 606.39 271.00L602.27 265.53A68.90 68.90 0 0 0 612.00 256.60Z" fill="#7ad4a8"/>
<path d="M643.55 320.31A137.50 137.50 0 0 1 621.08 334.08L618.07 327.92A130.64 130.64 0 0 0 639.42 314.83Z" fill="#ffb18a"/>
<path d="M639.42 314.83A130.64 130.64 0 0 1 618.07 327.92L615.06 321.75A123.78 123.78 0 0 0 635.29 309.36Z" fill="#94dcb9"/>
<path d="M635.29 309.36A123.78 123.78 0 0 1 615.06 321.75L612.05 315.59A116.92 116.92 0 0 0 631.16 303.88Z" fill="#ffb18a"/>
<path d="M631.16 303.88A116.92 116.92 0 0 1 612.05 315.59L609.05 309.42A110.06 110.06 0 0 0 627.04 298.40Z" fill="#7ad4a8"/>
<path d="M627.04 298.40A110.06 110.06 0 0 1 609.05 309.42L606.04 303.26A103.20 103.20 0 0 0 622.91 292.92Z" fill="#ffb18a"/>
<path d="M622.91 292.92A103.20 103.20 0 0 1 606.04 303.26L603.03 297.09A96.34 96.34 0 0 0 618.78 287.44Z" fill="#7ad4a8"/>
<path d="M618.78 287.44A96.34 96.34 0 0 1 603.03 297.09L600.03 290.92A89.48 89.48 0 0 0 614.65 281.96Z" fill="#ffba97"/>
<path d="M614.65 281.96A89.48 89.48 0 0 1 600.03 290.92L597.02 284.76A82.62 82.62 0 0 0 610.52 276.48Z" fill="#ffe9de"/>
<path d="M610.52 276.48A82.62 82.62 0 0 1 597.02 284.76L594.01 278.59A75.76 75.76 0 0 0 606.39 271.00Z" fill="#ffb18a"/>
<path d="M606.39 271.00A75.76 75.76 0 0 1 594.01 278.59L591.00 272.43A68.90 68.90 0 0 0 602.27 265.53Z" fill="#75d2a5"/>
<path d="M621.08 334.08A137.50 137.50 0 0 1 596.39 343.31L594.61 336.69A130.64 130.64 0 0 0 618.07 327.92Z" fill="#ffb18a"/>
<path d="M618.07 327.92A130.64 130.64 0 0 1 594.61 336.69L592.84 330.06A123.78 123.78 0 0 0 615.06 321.75Z" fill="#85d7af"/>
<path d="M615.06 321.75A123.78 123.78 0 0 1 592.84 330.06L591.06 323.44A116.92 116.92 0 0 0 612.05 315.59Z" fill="#ffb18a"/>
<path d="M612.05 315.59A116.92 116.92 0 0 1 591.06 323.44L589.29 316.81A110.06 110.06 0 0 0 609.05 309.42Z" fill="#75d2a5"/>
<path d="M609.05 309.42A110.06 110.06 0 0 1 589.29 316.81L587.51 310.18A103.20 103.20 0 0 0 606.04 303.26Z" fill="#ffb18a"/>
<path d="M606.04 303.26A103.20 103.20 0 0 1 587.51 310.18L585.73 303.56A96.34 96.34 0 0 0 603.03 297.09Z" fill="#75d2a5"/>
<path d="M603.03 297.09A96.34 96.34 0 0 1 585.73 303.56L583.96 296.93A89.48 89.48 0 0 0 600.03 290.92Z" fill="#ffb590"/>
<path d="M600.03 290.92A89.48 89.48 0 0 1 583.96 296.93L582.18 290.30A82.62 82.62 0 0 0 597.02 284.76Z" fill="#ffdccb"/>
<path d="M597.02 284.76A82.62 82.62 0 0 1 582.18 290.30L580.41 283.68A75.76 75.76 0 0 0 594.01 278.59Z" fill="#ffb18a"/>
<path d="M594.01 278.59A75.76 75.76 0 0 1 580.41 283.68L578.63 277.05A68.90 68.90 0 0 0 591.00 272.43Z" fill="#6bcf9e"/>
<path d="M596.39 343.31A137.50 137.50 0 0 1 570.39 347.67L569.91 340.82A130.64 130.64 0 0 0 594.61 336.69Z" fill="#ffb18a"/>
<path d="M594.61 336.69A130.64 130.64 0 0 1 569.91 340.82L569.43 333.98A123.78 123.78 0 0 0 592.84 330.06Z" fill="#80d6ac"/>
<path d="M592.84 330.06A123.78 123.78 0 0 1 569.43 333.98L568.96 327.14A116.92 116.92 0 0 0 591.06 323.44Z" fill="#ffb18a"/>
<path d="M591.06 323.44A116.92 116.92 0 0 1 568.96 327.14L568.48 320.29A110.06 110.06 0 0 0 589.29 316.81Z" fill="#7ad4a8"/>
<path d="M589.29 316.81A110.06 110.06 0 0 1 568.48 320.29L568.00 313.45A103.20 103.20 0 0 0 587.51 310.18Z" fill="#ffb18a"/>
<path d="M587.51 310.18A103.20 103.20 0 0 1 568.00 313.45L567.52 306.61A96.34 96.34 0 0 0 585.73 303.56Z" fill="#75d2a5"/>
<path d="M585.73 303.56A96.34 96.34 0 0 1 567.52 306.61L567.04 299.76A89.48 89.48 0 0 0 583.96 296.93Z" fill="#ffb18a"/>
<path d="M583.96 296.93A89.48 89.48 0 0 1 567.04 299.76L566.56 292.92A82.62 82.62 0 0 0 582.18 290.30Z" fill="#ffdccb"/>
<path d="M582.18 290.30A82.62 82.62 0 0 1 566.56 292.92L566.08 286.08A75.76 75.76 0 0 0 580.41 283.68Z" fill="#ffb18a"/>
<path d="M580.41 283.68A75.76 75.76 0 0 1 566.08 286.08L565.61 279.23A68.90 68.90 0 0 0 578.63 277.05Z" fill="#70d1a1"/>
<path d="M570.39 347.67A137.50 137.50 0 0 1 544.04 346.98L544.88 340.17A130.64 130.64 0 0 0 569.91 340.82Z" fill="#ffb18a"/>
<path d="M569.91 340.82A130.64 130.64 0 0 1 544.88 340.17L545.72 333.36A123.78 123.78 0 0 0 569.43 333.98Z" fill="#afe5ca"/>
<path d="M569.43 333.98A123.78 123.78 0 0 1 545.72 333.36L546.55 326.55A116.92 116.92 0 0 0 568.96 327.14Z" fill="#ffb18a"/>
<path d="M568.96 327.14A116.92 116.92 0 0 1 546.55 326.55L547.39 319.74A110.06 110.06 0 0 0 568.48 320.29Z" fill="#75d2a5"/>
<path d="M568.48 320.29A110.06 110.06 0 0 1 547.39 319.74L548.22 312.93A103.20 103.20 0 0 0 568.00 313.45Z" fill="#ffb18a"/>
<path d="M568.00 313.45A103.20 103.20 0 0 1 548.22 312.93L549.06 306.12A96.34 96.34 0 0 0 567.52 306.61Z" fill="#6bcf9e"/>
<path d="M567.52 306.61A96.34 96.34 0 0 1 549.06 306.12L549.90 299.31A89.48 89.48 0 0 0 567.04 299.76Z" fill="#ffb18a"/>
<path d="M567.04 299.76A89.48 89.48 0 0 1 549.90 299.31L550.73 292.50A82.62 82.62 0 0 0 566.56 292.92Z" fill="#ffe1d1"/>
<path d="M566.56 292.92A82.62 82.62 0 0 1 550.73 292.50L551.57 285.70A75.76 75.76 0 0 0 566.08 286.08Z" fill="#ffb18a"/>
<path d="M566.08 286.08A75.76 75.76 0 0 1 551.57 285.70L552.40 278.89A68.90 68.90 0 0 0 565.61 279.23Z" fill="#70d1a1"/>
<path d="M544.04 346.98A137.50 137.50 0 0 1 518.31 341.27L520.43 334.75A130.64 130.64 0 0 0 544.88 340.17Z" fill="#ffb18a"/>
<path d="M544.88 340.17A130.64 130.64 0 0 1 520.43 334.75L522.55 328.22A123.78 123.78 0 0 0 545.72 333.36Z" fill="#9ddfbf"/>
<path d="M545.72 333.36A123.78 123.78 0 0 1 522.55 328.22L524.67 321.70A116.92 116.92 0 0 0 546.55 326.55Z" fill="#ffb18a"/>
<path d="M546.55 326.55A116.92 116.92 0 0 1 524.67 321.70L526.79 315.17A110.06 110.06 0 0 0 547.39 319.74Z" fill="#75d2a5"/>
<path d="M547.39 319.74A110.06 110.06 0 0 1 526.79 315.17L528.91 308.65A103.20 103.20 0 0 0 548.22 312.93Z" fill="#ffb18a"/>
<path d="M548.22 312.93A103.20 103.20 0 0 1 528.91 308.65L531.03 302.12A96.34 96.34 0 0 0 549.06 306.12Z" fill="#70d1a1"/>
<path d="M549.06 306.12A96.34 96.34 0 0 1 531.03 302.12L533.15 295.60A89.48 89.48 0 0 0 549.90 299.31Z" fill="#ffb18a"/>
<path d="M549.90 299.31A89.48 89.48 0 0 1 533.15 295.60L535.27 289.08A82.62 82.62 0 0 0 550.73 292.50Z" fill="#ffdccb"/>
<path d="M550.73 292.50A82.62 82.62 0 0 1 535.27 289.08L537.39 282.55A75.76 75.76 0 0 0 551.57 285.70Z" fill="#ffb18a"/>
<path d="M551.57 285.70A75.76 75.76 0 0 1 537.39 282.55L539.51 276.03A68.90 68.90 0 0 0 552.40 278.89Z" fill="#70d1a1"/>
<path d="M518.31 341.27A137.50 137.50 0 0 1 494.14 330.76L497.46 324.76A130.64 130.64 0 0 0 520.43 334.75Z" fill="#ffb18a"/>
<path d="M520.43 334.75A130.64 130.64 0 0 1 497.46 324.76L500.79 318.76A123.78 123.78 0 0 0 522.55 328.22Z" fill="#a6e2c5"/>
<path d="M522.55 328.22A123.78 123.78 0 0 1 500.79 318.76L504.12 312.76A116.92 116.92 0 0 0 524.67 321.70Z" fill="#ffb18a"/>
<path d="M524.67 321.70A116.92 116.92 0 0 1 504.12 312.76L507.44 306.76A110.06 110.06 0 0 0 526.79 315.17Z" fill="#6bcf9e"/>
<path d="M526.79 315.17A110.06 110.06 0 0 1 507.44 306.76L510.77 300.76A103.20 103.20 0 0 0 528.91 308.65Z" fill="#ffb18a"/>
<path d="M528.91 308.65A103.20 103.20 0 0 1 510.77 300.76L514.09 294.76A96.34 96.34 0 0 0 531.03 302.12Z" fill="#75d2a5"/>
<path d="M531.03 302.12A96.34 96.34 0 0 1 514.09 294.76L517.42 288.76A89.48 89.48 0 0 0 533.15 295.60Z" fill="#ffb18a"/>
<path d="M533.15 295.60A89.48 89.48 0 0 1 517.42 288.76L520.75 282.76A82.62 82.62 0 0 0 535.27 289.08Z" fill="#ffe1d1"/>
<path d="M535.27 289.08A82.62 82.62 0 0 1 520.75 282.76L524.07 276.76A75.76 75.76 0 0 0 537.39 282.55Z" fill="#ffb18a"/>
<path d="M537.39 282.55A75.76 75.76 0 0 1 524.07 276.76L527.40 270.76A68.90 68.90 0 0 0 539.51 276.03Z" fill="#6bcf9e"/>
<path d="M494.14 330.76A137.50 137.50 0 0 1 472.42 315.83L476.83 310.58A130.64 130.64 0 0 0 497.46 324.76Z" fill="#ffb18a"/>
<path d="M497.46 324.76A130.64 130.64 0 0 1 476.83 310.58L481.24 305.32A123.78 123.78 0 0 0 500.79 318.76Z" fill="#a6e2c5"/>
<path d="M500.79 318.76A123.78 123.78 0 0 1 481.24 305.32L485.65 300.07A116.92 116.92 0 0 0 504.12 312.76Z" fill="#ffb18a"/>
<path d="M504.12 312.76A116.92 116.92 0 0 1 485.65 300.07L490.05 294.81A110.06 110.06 0 0 0 507.44 306.76Z" fill="#7ad4a8"/>
<path d="M507.44 306.76A110.06 110.06 0 0 1 490.05 294.81L494.46 289.56A103.20 103.20 0 0 0 510.77 300.76Z" fill="#ffb18a"/>
<path d="M510.77 300.76A103.20 103.20 0 0 1 494.46 289.56L498.87 284.30A96.34 96.34 0 0 0 514.09 294.76Z" fill="#80d6ac"/>
<path d="M514.09 294.76A96.34 96.34 0 0 1 498.87 284.30L503.28 279.05A89.48 89.48 0 0 0 517.42 288.76Z" fill="#ffb590"/>
<path d="M517.42 288.76A89.48 89.48 0 0 1 503.28 279.05L507.69 273.79A82.62 82.62 0 0 0 520.75 282.76Z" fill="#fffbf8"/>
<path d="M520.75 282.76A82.62 82.62 0 0 1 507.69 273.79L512.10 268.54A75.76 75.76 0 0 0 524.07 276.76Z" fill="#ffb18a"/>
<path d="M524.07 276.76A75.76 75.76 0 0 1 512.10 268.54L516.51 263.28A68.90 68.90 0 0 0 527.40 270.76Z" fill="#5cca94"/>
<path d="M472.42 315.83A137.50 137.50 0 0 1 453.94 297.03L459.27 292.71A130.64 130.64 0 0 0 476.83 310.58Z" fill="#ffb18a"/>
<path d="M476.83 310.58A130.64 130.64 0 0 1 459.27 292.71L464.60 288.40A123.78 123.78 0 0 0 481.24 305.32Z" fill="#afe5ca"/>
<path d="M481.24 305.32A123.78 123.78 0 0 1 464.60 288.40L469.94 284.08A116.92 116.92 0 0 0 485.65 300.07Z" fill="#ffb18a"/>
<path d="M485.65 300.07A116.92 116.92 0 0 1 469.94 284.08L475.27 279.76A110.06 110.06 0 0 0 490.05 294.81Z" fill="#7ad4a8"/>
<path d="M490.05 294.81A110.06 110.06 0 0 1 475.27 279.76L480.60 275.45A103.20 103.20 0 0 0 494.46 289.56Z" fill="#ffb18a"/>
<path d="M494.46 289.56A103.20 103.20 0 0 1 480.60 275.45L485.93 271.13A96.34 96.34 0 0 0 498.87 284.30Z" fill="#80d6ac"/>
<path d="M498.87 284.30A96.34 96.34 0 0 1 485.93 271.13L491.26 266.81A89.48 89.48 0 0 0 503.28 279.05Z" fill="#ffaa80"/>
<path d="M503.28 279.05A89.48 89.48 0 0 1 491.26 266.81L496.59 262.49A82.62 82.62 0 0 0 507.69 273.79Z" fill="#edf9f3"/>
<path d="M507.69 273.79A82.62 82.62 0 0 1 496.59 262.49L501.92 258.18A75.76 75.76 0 0 0 512.10 268.54Z" fill="#ffb18a"/>
<path d="M512.10 268.54A75.76 75.76 0 0 1 501.92 258.18L507.25 253.86A68.90 68.90 0 0 0 516.51 263.28Z" fill="#5cca94"/>
<path d="M453.94 297.03A137.50 137.50 0 0 1 439.39 275.05L445.45 271.83A130.64 130.64 0 0 0 459.27 292.71Z" fill="#ffb18a"/>
<path d="M459.27 292.71A130.64 130.64 0 0 1 445.45 271.83L451.51 268.61A123.78 123.78 0 0 0 464.60 288.40Z" fill="#a6e2c5"/>
<path d="M464.60 288.40A123.78 123.78 0 0 1 451.51 268.61L457.57 265.39A116.92 116.92 0 0 0 469.94 284.08Z" fill="#ffb18a"/>
<path d="M469.94 284.08A116.92 116.92 0 0 1 457.57 265.39L463.62 262.17A110.06 110.06 0 0 0 475.27 279.76Z" fill="#80d6ac"/>
<path d="M475.27 279.76A110.06 110.06 0 0 1 463.62 262.17L469.68 258.95A103.20 103.20 0 0 0 480.60 275.45Z" fill="#ffb18a"/>
<path d="M480.60 275.45A103.20 103.20 0 0 1 469.68 258.95L475.74 255.73A96.34 96.34 0 0 0 485.93 271.13Z" fill="#8ad9b2"/>
<path d="M485.93 271.13A96.34 96.34 0 0 1 475.74 255.73L481.79 252.51A89.48 89.48 0 0 0 491.26 266.81Z" fill="#ffb18a"/>
<path d="M491.26 266.81A89.48 89.48 0 0 1 481.79 252.51L487.85 249.29A82.62 82.62 0 0 0 496.59 262.49Z" fill="#e4f6ed"/>
<path d="M496.59 262.49A82.62 82.62 0 0 1 487.85 249.29L493.91 246.07A75.76 75.76 0 0 0 501.92 258.18Z" fill="#ffb18a"/>
<path d="M501.92 258.18A75.76 75.76 0 0 1 493.91 246.07L499.96 242.85A68.90 68.90 0 0 0 507.25 253.86Z" fill="#5cca94"/>
<path d="M439.39 275.05A137.50 137.50 0 0 1 429.31 250.70L435.87 248.70A130.64 130.64 0 0 0 445.45 271.83Z" fill="#ffb18a"/>
<path d="M445.45 271.83A130.64 130.64 0 0 1 435.87 248.70L442.43 246.69A123.78 123.78 0 0 0 451.51 268.61Z" fill="#a6e2c5"/>
<path d="M451.51 268.61A123.78 123.78 0 0 1 442.43 246.69L448.99 244.68A116.92 116.92 0 0 0 457.57 265.39Z" fill="#ffb18a"/>
<path d="M457.57 265.39A116.92 116.92 0 0 1 448.99 244.68L455.55 242.68A110.06 110.06 0 0 0 463.62 262.17Z" fill="#7ad4a8"/>
<path d="M463.62 262.17A110.06 110.06 0 0 1 455.55 242.68L462.11 240.67A103.20 103.20 0 0 0 469.68 258.95Z" fill="#ffb18a"/>
<path d="M469.68 258.95A103.20 103.20 0 0 1 462.11 240.67L468.67 238.67A96.34 96.34 0 0 0 475.74 255.73Z" fill="#8ad9b2"/>
<path d="M475.74 255.73A96.34 96.34 0 0 1 468.67 238.67L475.23 236.66A89.48 89.48 0 0 0 481.79 252.51Z" fill="#ffb18a"/>
<path d="M481.79 252.51A89.48 89.48 0 0 1 475.23 236.66L481.79 234.66A82.62 82.62 0 0 0 487.85 249.29Z" fill="#e4f6ed"/>
<path d="M487.85 249.29A82.62 82.62 0 0 1 481.79 234.66L488.35 232.65A75.76 75.76 0 0 0 493.91 246.07Z" fill="#ffb18a"/>
<path d="M493.91 246.07A75.76 75.76 0 0 1 488.35 232.65L494.91 230.64A68.90 68.90 0 0 0 499.96 242.85Z" fill="#5cca94"/>
<path d="M429.31 250.70A137.50 137.50 0 0 1 424.05 224.87L430.88 224.16A130.64 130.64 0 0 0 435.87 248.70Z" fill="#ffb18a"/>
<path d="M435.87 248.70A130.64 130.64 0 0 1 430.88 224.16L437.70 223.44A123.78 123.78 0 0 0 442.43 246.69Z" fill="#a6e2c5"/>
<path d="M442.43 246.69A123.78 123.78 0 0 1 437.70 223.44L444.52 222.72A116.92 116.92 0 0 0 448.99 244.68Z" fill="#ffb18a"/>
<path d="M448.99 244.68A116.92 116.92 0 0 1 444.52 222.72L451.34 222.00A110.06 110.06 0 0 0 455.55 242.68Z" fill="#75d2a5"/>
<path d="M455.55 242.68A110.06 110.06 0 0 1 451.34 222.00L458.17 221.29A103.20 103.20 0 0 0 462.11 240.67Z" fill="#ffb18a"/>
<path d="M462.11 240.67A103.20 103.20 0 0 1 458.17 221.29L464.99 220.57A96.34 96.34 0 0 0 468.67 238.67Z" fill="#94dcb9"/>
<path d="M468.67 238.67A96.34 96.34 0 0 1 464.99 220.57L471.81 219.85A89.48 89.48 0 0 0 475.23 236.66Z" fill="#ffb18a"/>
<path d="M475.23 236.66A89.48 89.48 0 0 1 471.81 219.85L478.63 219.14A82.62 82.62 0 0 0 481.79 234.66Z" fill="#e4f6ed"/>
<path d="M481.79 234.66A82.62 82.62 0 0 1 478.63 219.14L485.46 218.42A75.76 75.76 0 0 0 488.35 232.65Z" fill="#ffb18a"/>
<path d="M488.35 232.65A75.76 75.76 0 0 1 485.46 218.42L492.28 217.70A68.90 68.90 0 0 0 494.91 230.64Z" fill="#75d2a5"/>
<path d="M424.05 224.87A137.50 137.50 0 0 1 423.82 198.52L430.66 199.11A130.64 130.64 0 0 0 430.88 224.16Z" fill="#ffb18a"/>
<path d="M430.88 224.16A130.64 130.64 0 0 1 430.66 199.11L437.49 199.71A123.78 123.78 0 0 0 437.70 223.44Z" fill="#a6e2c5"/>
<path d="M437.70 223.44A123.78 123.78 0 0 1 437.49 199.71L444.32 200.31A116.92 116.92 0 0 0 444.52 222.72Z" fill="#ffb18a"/>
<path d="M444.52 222.72A116.92 116.92 0 0 1 444.32 200.31L451.16 200.91A110.06 110.06 0 0 0 451.34 222.00Z" fill="#7ad4a8"/>
<path d="M451.34 222.00A110.06 110.06 0 0 1 451.16 200.91L457.99 201.51A103.20 103.20 0 0 0 458.17 221.29Z" fill="#ffb18a"/>
<path d="M458.17 221.29A103.20 103.20 0 0 1 457.99 201.51L464.83 202.10A96.34 96.34 0 0 0 464.99 220.57Z" fill="#94dcb9"/>
<path d="M464.99 220.57A96.34 96.34 0 0 1 464.83 202.10L471.66 202.70A89.48 89.48 0 0 0 471.81 219.85Z" fill="#ffb18a"/>
<path d="M471.81 219.85A89.48 89.48 0 0 1 471.66 202.70L478.49 203.30A82.62 82.62 0 0 0 478.63 219.14Z" fill="#dbf3e8"/>
<path d="M478.63 219.14A82.62 82.62 0 0 1 478.49 203.30L485.33 203.90A75.76 75.76 0 0 0 485.46 218.42Z" fill="#ffb18a"/>
<path d="M485.46 218.42A75.76 75.76 0 0 1 485.33 203.90L492.16 204.49A68.90 68.90 0 0 0 492.28 217.70Z" fill="#75d2a5"/>
<path d="M423.82 198.52A137.50 137.50 0 0 1 428.63 172.60L435.22 174.49A130.64 130.64 0 0 0 430.66 199.11Z" fill="#ffb18a"/>
<path d="M430.66 199.11A130.64 130.64 0 0 1 435.22 174.49L441.82 176.38A123.78 123.78 0 0 0 437.49 199.71Z" fill="#9ddfbf"/>
<path d="M437.49 199.71A123.78 123.78 0 0 1 441.82 176.38L448.41 178.27A116.92 116.92 0 0 0 444.32 200.31Z" fill="#ffb18a"/>
<path d="M444.32 200.31A116.92 116.92 0 0 1 448.41 178.27L455.00 180.16A110.06 110.06 0 0 0 451.16 200.91Z" fill="#7ad4a8"/>
<path d="M451.16 200.91A110.06 110.06 0 0 1 455.00 180.16L461.60 182.05A103.20 103.20 0 0 0 457.99 201.51Z" fill="#ffb18a"/>
<path d="M457.99 201.51A103.20 103.20 0 0 1 461.60 182.05L468.19 183.95A96.34 96.34 0 0 0 464.83 202.10Z" fill="#75d2a5"/>
<path d="M464.83 202.10A96.34 96.34 0 0 1 468.19 183.95L474.79 185.84A89.48 89.48 0 0 0 471.66 202.70Z" fill="#ffb18a"/>
<path d="M471.66 202.70A89.48 89.48 0 0 1 474.79 185.84L481.38 187.73A82.62 82.62 0 0 0 478.49 203.30Z" fill="#dbf3e8"/>
<path d="M478.49 203.30A82.62 82.62 0 0 1 481.38 187.73L487.97 189.62A75.76 75.76 0 0 0 485.33 203.90Z" fill="#ffb18a"/>
<path d="M485.33 203.90A75.76 75.76 0 0 1 487.97 189.62L494.57 191.51A68.90 68.90 0 0 0 492.16 204.49Z" fill="#7ad4a8"/>
<path d="M428.63 172.60A137.50 137.50 0 0 1 438.29 148.08L444.40 151.19A130.64 130.64 0 0 0 435.22 174.49Z" fill="#ffb18a"/>
<path d="M435.22 174.49A130.64 130.64 0 0 1 444.40 151.19L450.51 154.31A123.78 123.78 0 0 0 441.82 176.38Z" fill="#94dcb9"/>
<path d="M441.82 176.38A123.78 123.78 0 0 1 450.51 154.31L456.62 157.42A116.92 116.92 0 0 0 448.41 178.27Z" fill="#ffb18a"/>
<path d="M448.41 178.27A116.92 116.92 0 0 1 456.62 157.42L462.74 160.53A110.06 110.06 0 0 0 455.00 180.16Z" fill="#75d2a5"/>
<path d="M455.00 180.16A110.06 110.06 0 0 1 462.74 160.53L468.85 163.65A103.20 103.20 0 0 0 461.60 182.05Z" fill="#ffb18a"/>
<path d="M461.60 182.05A103.20 103.20 0 0 1 468.85 163.65L474.96 166.76A96.34 96.34 0 0 0 468.19 183.95Z" fill="#75d2a5"/>
<path d="M468.19 183.95A96.34 96.34 0 0 1 474.96 166.76L481.07 169.88A89.48 89.48 0 0 0 474.79 185.84Z" fill="#ffb590"/>
<path d="M474.79 185.84A89.48 89.48 0 0 1 481.07 169.88L487.19 172.99A82.62 82.62 0 0 0 481.38 187.73Z" fill="#e4f6ed"/>
<path d="M481.38 187.73A82.62 82.62 0 0 1 487.19 172.99L493.30 176.11A75.76 75.76 0 0 0 487.97 189.62Z" fill="#ffb18a"/>
<path d="M487.97 189.62A75.76 75.76 0 0 1 493.30 176.11L499.41 179.22A68.90 68.90 0 0 0 494.57 191.51Z" fill="#75d2a5"/>
<path d="M438.29 148.08A137.50 137.50 0 0 1 452.45 125.85L457.85 130.07A130.64 130.64 0 0 0 444.40 151.19Z" fill="#ffb18a"/>
<path d="M444.40 151.19A130.64 130.64 0 0 1 457.85 130.07L463.26 134.29A123.78 123.78 0 0 0 450.51 154.31Z" fill="#afe5ca"/>
<path d="M450.51 154.31A123.78 123.78 0 0 1 463.26 134.29L468.67 138.52A116.92 116.92 0 0 0 456.62 157.42Z" fill="#ffb18a"/>
<path d="M456.62 157.42A116.92 116.92 0 0 1 468.67 138.52L474.07 142.74A110.06 110.06 0 0 0 462.74 160.53Z" fill="#75d2a5"/>
<path d="M462.74 160.53A110.06 110.06 0 0 1 474.07 142.74L479.48 146.96A103.20 103.20 0 0 0 468.85 163.65Z" fill="#ffb18a"/>
<path d="M468.85 163.65A103.20 103.20 0 0 1 479.48 146.96L484.88 151.19A96.34 96.34 0 0 0 474.96 166.76Z" fill="#75d2a5"/>
<path d="M474.96 166.76A96.34 96.34 0 0 1 484.88 151.19L490.29 155.41A89.48 89.48 0 0 0 481.07 169.88Z" fill="#ffb18a"/>
<path d="M481.07 169.88A89.48 89.48 0 0 1 490.29 155.41L495.69 159.63A82.62 82.62 0 0 0 487.19 172.99Z" fill="#e4f6ed"/>
<path d="M487.19 172.99A82.62 82.62 0 0 1 495.69 159.63L501.10 163.86A75.76 75.76 0 0 0 493.30 176.11Z" fill="#ffb18a"/>
<path d="M493.30 176.11A75.76 75.76 0 0 1 501.10 163.86L506.51 168.08A68.90 68.90 0 0 0 499.41 179.22Z" fill="#75d2a5"/>
<path d="M452.45 125.85A137.50 137.50 0 0 1 470.59 106.73L475.09 111.90A130.64 130.64 0 0 0 457.85 130.07Z" fill="#ffb18a"/>
<path d="M457.85 130.07A130.64 130.64 0 0 1 475.09 111.90L479.59 117.08A123.78 123.78 0 0 0 463.26 134.29Z" fill="#a6e2c5"/>
<path d="M463.26 134.29A123.78 123.78 0 0 1 479.59 117.08L484.09 122.26A116.92 116.92 0 0 0 468.67 138.52Z" fill="#ffb18a"/>
<path d="M468.67 138.52A116.92 116.92 0 0 1 484.09 122.26L488.59 127.44A110.06 110.06 0 0 0 474.07 142.74Z" fill="#7ad4a8"/>
<path d="M474.07 142.74A110.06 110.06 0 0 1 488.59 127.44L493.09 132.61A103.20 103.20 0 0 0 479.48 146.96Z" fill="#ffb18a"/>
<path d="M479.48 146.96A103.20 103.20 0 0 1 493.09 132.61L497.60 137.79A96.34 96.34 0 0 0 484.88 151.19Z" fill="#7ad4a8"/>
<path d="M484.88 151.19A96.34 96.34 0 0 1 497.60 137.79L502.10 142.97A89.48 89.48 0 0 0 490.29 155.41Z" fill="#ffb18a"/>
<path d="M490.29 155.41A89.48 89.48 0 0 1 502.10 142.97L506.60 148.15A82.62 82.62 0 0 0 495.69 159.63Z" fill="#eaf8f1"/>
<path d="M495.69 159.63A82.62 82.62 0 0 1 506.60 148.15L511.10 153.32A75.76 75.76 0 0 0 501.10 163.86Z" fill="#ffb18a"/>
<path d="M501.10 163.86A75.76 75.76 0 0 1 511.10 153.32L515.60 158.50A68.90 68.90 0 0 0 506.51 168.08Z" fill="#75d2a5"/>
<path d="M470.59 106.73A137.50 137.50 0 0 1 492.05 91.42L495.48 97.36A130.64 130.64 0 0 0 475.09 111.90Z" fill="#ffb18a"/>
<path d="M475.09 111.90A130.64 130.64 0 0 1 495.48 97.36L498.91 103.30A123.78 123.78 0 0 0 479.59 117.08Z" fill="#afe5ca"/>
<path d="M479.59 117.08A123.78 123.78 0 0 1 498.91 103.30L502.34 109.24A116.92 116.92 0 0 0 484.09 122.26Z" fill="#ffb18a"/>
<path d="M484.09 122.26A116.92 116.92 0 0 1 502.34 109.24L505.77 115.19A110.06 110.06 0 0 0 488.59 127.44Z" fill="#7ad4a8"/>
<path d="M488.59 127.44A110.06 110.06 0 0 1 505.77 115.19L509.20 121.13A103.20 103.20 0 0 0 493.09 132.61Z" fill="#ffb18a"/>
<path d="M493.09 132.61A103.20 103.20 0 0 1 509.20 121.13L512.63 127.07A96.34 96.34 0 0 0 497.60 137.79Z" fill="#80d6ac"/>
<path d="M497.60 137.79A96.34 96.34 0 0 1 512.63 127.07L516.06 133.01A89.48 89.48 0 0 0 502.10 142.97Z" fill="#ffb18a"/>
<path d="M502.10 142.97A89.48 89.48 0 0 1 516.06 133.01L519.49 138.95A82.62 82.62 0 0 0 506.60 148.15Z" fill="#edf9f3"/>
<path d="M506.60 148.15A82.62 82.62 0 0 1 519.49 138.95L522.92 144.89A75.76 75.76 0 0 0 511.10 153.32Z" fill="#ffb18a"/>
<path d="M511.10 153.32A75.76 75.76 0 0 1 522.92 144.89L526.35 150.83A68.90 68.90 0 0 0 515.60 158.50Z" fill="#75d2a5"/>
<path d="M587.04 75.53L573.95 142.87M612.31 83.01L586.61 146.62M635.69 95.18L598.33 152.72M656.32 111.59L608.66 160.94M673.43 131.63L617.24 170.98M686.41 154.57L623.74 182.48M694.78 179.57L627.93 195.00M698.22 205.70L629.66 208.10M696.61 232.01L628.85 221.28M690.01 257.53L625.54 234.07M678.66 281.32L619.86 245.99M662.98 302.51L612.00 256.60M643.55 320.31L602.27 265.53M621.08 334.08L591.00 272.43M596.39 343.31L578.63 277.05M570.39 347.67L565.61 279.23M544.04 346.98L552.40 278.89M518.31 341.27L539.51 276.03M494.14 330.76L527.40 270.76M472.42 315.83L516.51 263.28M453.94 297.03L507.25 253.86M439.39 275.05L499.96 242.85M429.31 250.70L494.91 230.64M424.05 224.87L492.28 217.70M423.82 198.52L492.16 204.49M428.63 172.60L494.57 191.51M438.29 148.08L499.41 179.22M452.45 125.85L506.51 168.08M470.59 106.73L515.60 158.50M560.80 79.86A130.64 130.64 0 1 1 495.48 97.36M560.80 86.72A123.78 123.78 0 1 1 498.91 103.30M560.80 93.58A116.92 116.92 0 1 1 502.34 109.24M560.80 100.44A110.06 110.06 0 1 1 505.77 115.19M560.80 107.30A103.20 103.20 0 1 1 509.20 121.13M560.80 114.16A96.34 96.34 0 1 1 512.63 127.07M560.80 121.02A89.48 89.48 0 1 1 516.06 133.01M560.80 127.88A82.62 82.62 0 1 1 519.49 138.95M560.80 134.74A75.76 75.76 0 1 1 522.92 144.89" fill="none" stroke="#fff" stroke-width="0.45" stroke-opacity="0.75"/>
<path d="M592.61 149.38L591.07 152.34M603.69 156.58L601.62 159.19M591.07 152.34A65.57 65.57 0 0 1 601.62 159.19M626.14 188.64L625.26 188.93M629.11 201.51L628.19 201.63M625.26 188.93A67.97 67.97 0 0 1 628.19 201.63M620.77 176.57L619.30 177.40M627.03 195.21L626.29 195.38M619.30 177.40A67.21 67.21 0 0 1 626.29 195.38M613.19 165.75L611.01 167.61M623.44 186.14L622.35 186.57M611.01 167.61A66.04 66.04 0 0 1 622.35 186.57M596.51 155.51L594.72 158.26M617.48 176.61L614.26 178.54M594.72 158.26A62.28 62.28 0 0 1 614.26 178.54M580.37 144.44L577.20 155.13M605.65 167.28L602.39 170.43M577.20 155.13A57.75 57.75 0 0 1 602.39 170.43M567.40 141.92L566.18 154.62M590.79 161.14L589.95 162.52M566.18 154.62A56.14 56.14 0 0 1 589.95 162.52M627.51 227.75L624.70 227.02M622.99 240.16L620.37 238.91M624.70 227.02A66.00 66.00 0 0 1 620.37 238.91M622.82 233.07L619.25 231.77M616.19 251.48L610.80 247.50M619.25 231.77A62.20 62.20 0 0 1 610.80 247.50M607.35 261.30L606.50 260.38M596.80 269.25L596.15 268.18M606.50 260.38A67.65 67.65 0 0 1 596.15 268.18M584.93 275.04L584.30 273.36M572.17 278.46L571.88 276.69M584.30 273.36A67.12 67.12 0 0 1 571.88 276.69M601.51 264.53L599.49 261.84M578.17 275.33L577.44 272.60M599.49 261.84A64.29 64.29 0 0 1 577.44 272.60M545.89 277.77L546.44 275.28M533.33 273.69L534.34 271.35M546.44 275.28A66.35 66.35 0 0 1 534.34 271.35M559.00 279.38L559.07 276.44M540.30 273.60L540.41 273.24M559.07 276.44A65.97 65.97 0 0 1 540.41 273.24M588.98 268.28L588.21 266.70M549.63 275.51L550.21 272.13M588.21 266.70A62.53 62.53 0 0 1 550.21 272.13M615.59 239.94L614.46 239.33M569.64 272.41L569.41 270.80M614.46 239.33A60.91 60.91 0 0 1 569.41 270.80M503.35 248.53L504.12 248.01M497.14 236.87L498.00 236.51M504.12 248.01A67.97 67.97 0 0 1 498.00 236.51M511.66 258.79L513.76 256.72M500.79 242.41L502.57 241.46M513.76 256.72A65.95 65.95 0 0 1 502.57 241.46M521.77 267.28L524.54 263.26M507.62 249.49L509.17 248.36M524.54 263.26A64.02 64.02 0 0 1 509.17 248.36M493.28 224.24L494.94 223.90M491.90 211.10L493.59 211.09M494.94 223.90A67.21 67.21 0 0 1 493.59 211.09M493.05 197.94L495.46 198.39M496.69 185.25L498.97 186.15M495.46 198.39A66.45 66.45 0 0 1 498.97 186.15M510.82 163.07L512.11 164.29M520.79 154.41L521.82 155.85M512.11 164.29A67.13 67.13 0 0 1 521.82 155.85M502.69 173.48L504.60 174.69M516.76 159.84L517.08 160.21M504.60 174.69A66.64 66.64 0 0 1 517.08 160.21M496.92 192.18L498.73 192.70M510.32 167.00L511.89 168.35M498.73 192.70A64.57 64.57 0 0 1 511.89 168.35M493.96 217.53L497.32 217.17M503.99 179.81L504.64 180.17M497.32 217.17A63.83 63.83 0 0 1 504.64 180.17M516.22 256.46L517.67 254.97M498.18 198.12L500.02 198.48M517.67 254.97A61.95 61.95 0 0 1 500.02 198.48M595.68 260.44L593.42 257.19M501.66 228.97L506.44 227.48M593.42 257.19A56.95 56.95 0 0 1 506.44 227.48M629.57 214.71L608.91 213.44M542.39 264.39L545.22 256.11M608.91 213.44A48.20 48.20 0 0 1 545.22 256.11M578.51 157.23L574.05 170.65M587.63 250.54L584.18 245.39M574.05 170.65A42.00 42.00 0 0 1 584.18 245.39" fill="none" stroke="#222" stroke-width="0.50"/>
<text class="sm" transform="translate(574.36 69.65) rotate(-84.50)" font-size="3.90" text-anchor="start"><tspan x="0" y="1.83">Treponema vincentii</tspan></text>
<text class="sm" transform="translate(600.99 74.83) rotate(-73.50)" font-size="3.90" text-anchor="start"><tspan x="0" y="1.83">Streptococcus sp000187445</tspan></text>
<text class="sm" transform="translate(626.14 84.99) rotate(-62.50)" font-size="3.90" text-anchor="start"><tspan x="0" y="1.83">Catonella unclassified</tspan></text>
<text class="sm" transform="translate(648.89 99.76) rotate(-51.50)" font-size="3.90" text-anchor="start"><tspan x="0" y="1.83">Kingella unclassified</tspan></text>
<text class="sm" transform="translate(668.40 118.60) rotate(-40.50)" font-size="3.90" text-anchor="start"><tspan x="0" y="1.83">Fusobacterium  unclassified</tspan></text>
<text class="sm" transform="translate(683.96 140.82) rotate(-29.50)" font-size="3.90" text-anchor="start"><tspan x="0" y="1.83">Campylobacter unclassified (pheno.1972)</tspan></text>
<text class="sm" transform="translate(694.99 165.60) rotate(-18.50)" font-size="3.90" text-anchor="start"><tspan x="0" y="1.83">Megasphaera unclassified</tspan></text>
<text class="sm" transform="translate(701.09 192.03) rotate(-7.50)" font-size="3.90" text-anchor="start"><tspan x="0" y="1.83">Solobacterium unclassified</tspan></text>
<text class="sm" transform="translate(702.04 219.14) rotate(3.50)" font-size="3.90" text-anchor="start"><tspan x="0" y="1.83">Prevotella unclassified</tspan></text>
<text class="sm" transform="translate(697.79 245.93) rotate(14.50)" font-size="3.90" text-anchor="start"><tspan x="0" y="1.83">Neisseria unclassified</tspan></text>
<text class="sm" transform="translate(688.52 271.42) rotate(25.50)" font-size="3.90" text-anchor="start"><tspan x="0" y="1.83">Streptococcus sinensis</tspan></text>
<text class="sm" transform="translate(674.55 294.67) rotate(36.50)" font-size="3.90" text-anchor="start"><tspan x="0" y="1.83">Saccharimonadaceae unclassified (pheno.1439)</tspan></text>
<text class="sm" transform="translate(656.40 314.82) rotate(47.50)" font-size="3.90" text-anchor="start"><tspan x="0" y="1.83">Streptococcus unclassified (pheno.1771)</tspan></text>
<text class="sm" transform="translate(634.73 331.15) rotate(58.50)" font-size="3.90" text-anchor="start"><tspan x="0" y="1.83">Prevotella nanceiensis</tspan></text>
<text class="sm" transform="translate(610.35 343.04) rotate(69.50)" font-size="3.90" text-anchor="start"><tspan x="0" y="1.83">Prevotella veroralis</tspan></text>
<text class="sm" transform="translate(584.15 350.06) rotate(80.50)" font-size="3.90" text-anchor="start"><tspan x="0" y="1.83">Streptococcus unclassified (pheno.2283)</tspan></text>
<text class="sm" transform="translate(557.10 351.95) rotate(271.50)" font-size="3.90" text-anchor="end"><tspan x="0" y="1.83">Streptococcus unclassified (pheno.2437)</tspan></text>
<text class="sm" transform="translate(530.17 348.65) rotate(282.50)" font-size="3.90" text-anchor="end"><tspan x="0" y="1.83">Streptococcus unclassified (pheno.134)</tspan></text>
<text class="sm" transform="translate(504.38 340.26) rotate(293.50)" font-size="3.90" text-anchor="end"><tspan x="0" y="1.83">Campylobacter unclassified (pheno.2402)</tspan></text>
<text class="sm" transform="translate(480.65 327.11) rotate(304.50)" font-size="3.90" text-anchor="end"><tspan x="0" y="1.83">Veillonellales unclassified</tspan></text>
<text class="sm" transform="translate(459.88 309.68) rotate(315.50)" font-size="3.90" text-anchor="end"><tspan x="0" y="1.83">Streptococcus unclassified (pheno.1388)</tspan></text>
<text class="sm" transform="translate(442.81 288.60) rotate(326.50)" font-size="3.90" text-anchor="end"><tspan x="0" y="1.83">Campylobacter unclassified (pheno.1053)</tspan></text>
<text class="sm" transform="translate(430.07 264.65) rotate(337.50)" font-size="3.90" text-anchor="end"><tspan x="0" y="1.83">Peptococcus cellulolyticus</tspan></text>
<text class="sm" transform="translate(422.14 238.71) rotate(348.50)" font-size="3.90" text-anchor="end"><tspan x="0" y="1.83">Haemophilus unclassified</tspan></text>
<text class="sm" transform="translate(419.31 211.73) rotate(359.50)" font-size="3.90" text-anchor="end"><tspan x="0" y="0.83">Streptococcus unclassified</tspan><tspan x="0" y="5.23">(pheno.2374)</tspan></text>
<text class="sm" transform="translate(421.67 184.71) rotate(370.50)" font-size="3.90" text-anchor="end"><tspan x="0" y="0.83">Streptococcus unclassified</tspan><tspan x="0" y="5.23">(pheno.1713)</tspan></text>
<text class="sm" transform="translate(429.15 158.64) rotate(381.50)" font-size="3.90" text-anchor="end"><tspan x="0" y="0.83">Streptococcus unclassified</tspan><tspan x="0" y="5.23">(pheno.260)</tspan></text>
<text class="sm" transform="translate(441.46 134.47) rotate(392.50)" font-size="3.90" text-anchor="end"><tspan x="0" y="1.83">Granulicatella unclassified</tspan></text>
<text class="sm" transform="translate(458.16 113.10) rotate(403.50)" font-size="3.90" text-anchor="end"><tspan x="0" y="1.83">Aggregatibacter segnis</tspan></text>
<text class="sm" transform="translate(478.63 95.30) rotate(414.50)" font-size="3.90" text-anchor="end"><tspan x="0" y="1.83">Saccharimonadaceae unclassified (pheno.1447)</tspan></text>
<text x="559.30" y="76.43" font-size="4.70" text-anchor="end" dominant-baseline="central">Wm.OR</text>
<text x="559.30" y="83.29" font-size="4.70" text-anchor="end" dominant-baseline="central">Wm.P</text>
<text x="559.30" y="90.15" font-size="4.70" text-anchor="end" dominant-baseline="central">WM.OR</text>
<text x="559.30" y="97.01" font-size="4.70" text-anchor="end" dominant-baseline="central">WM.P</text>
<text x="559.30" y="103.87" font-size="4.70" text-anchor="end" dominant-baseline="central">SM.OR</text>
<text x="559.30" y="110.73" font-size="4.70" text-anchor="end" dominant-baseline="central">SM.P</text>
<text x="559.30" y="117.59" font-size="4.70" text-anchor="end" dominant-baseline="central">MR Egger.OR</text>
<text x="559.30" y="124.45" font-size="4.70" text-anchor="end" dominant-baseline="central">MR Egger.P</text>
<text x="559.30" y="131.31" font-size="4.70" text-anchor="end" dominant-baseline="central">IVW.OR</text>
<text x="559.30" y="138.17" font-size="4.70" text-anchor="end" dominant-baseline="central">IVW.P</text>
<defs><linearGradient id="lg555" x1="0" y1="0" x2="0" y2="1"><stop offset="0.000" stop-color="#ff5500"/><stop offset="0.025" stop-color="#ff5804"/><stop offset="0.050" stop-color="#ff6111"/><stop offset="0.075" stop-color="#ff6a1f"/><stop offset="0.100" stop-color="#ff732c"/><stop offset="0.125" stop-color="#ff7c3a"/><stop offset="0.150" stop-color="#ff8547"/><stop offset="0.175" stop-color="#ff8e55"/><stop offset="0.200" stop-color="#ff9763"/><stop offset="0.225" stop-color="#ffa070"/><stop offset="0.250" stop-color="#ffa97e"/><stop offset="0.275" stop-color="#ffb28b"/><stop offset="0.300" stop-color="#ffbb99"/><stop offset="0.325" stop-color="#ffc4a6"/><stop offset="0.350" stop-color="#ffcdb4"/><stop offset="0.375" stop-color="#ffd6c1"/><stop offset="0.400" stop-color="#ffdfcf"/><stop offset="0.425" stop-color="#ffe8dc"/><stop offset="0.450" stop-color="#fff1ea"/><stop offset="0.475" stop-color="#fffaf7"/><stop offset="0.500" stop-color="#f9fdfb"/><stop offset="0.525" stop-color="#ecf9f2"/><stop offset="0.550" stop-color="#def4e9"/><stop offset="0.575" stop-color="#d1f0e1"/><stop offset="0.600" stop-color="#c3ecd8"/><stop offset="0.625" stop-color="#b6e7cf"/><stop offset="0.650" stop-color="#a8e3c6"/><stop offset="0.675" stop-color="#9bdebd"/><stop offset="0.700" stop-color="#8ddab4"/><stop offset="0.725" stop-color="#7fd5ab"/><stop offset="0.750" stop-color="#72d1a3"/><stop offset="0.775" stop-color="#64cd9a"/><stop offset="0.800" stop-color="#57c891"/><stop offset="0.825" stop-color="#49c488"/><stop offset="0.850" stop-color="#3cbf7f"/><stop offset="0.875" stop-color="#2ebb76"/><stop offset="0.900" stop-color="#21b76e"/><stop offset="0.925" stop-color="#13b265"/><stop offset="0.950" stop-color="#06ae5c"/><stop offset="0.975" stop-color="#00ac58"/><stop offset="1.000" stop-color="#00ac58"/></linearGradient></defs><rect x="555.00" y="190.00" width="6.00" height="28.00" fill="url(#lg555)"/><text x="562.50" y="190.50" font-size="2.80" dominant-baseline="central">2</text><text x="562.50" y="197.10" font-size="2.80" dominant-baseline="central">1</text><text x="562.50" y="203.70" font-size="2.80" dominant-baseline="central">0</text><text x="562.50" y="210.30" font-size="2.80" dominant-baseline="central">−1</text><text x="562.50" y="216.90" font-size="2.80" dominant-baseline="central">−2</text>
</g>
<g clip-path="url(#cC)">
<path d="M186.70 514.40A134.80 134.80 0 0 1 212.42 516.88L211.14 523.46A128.09 128.09 0 0 0 186.70 521.11Z" fill="#ffd8c4"/>
<path d="M186.70 521.11A128.09 128.09 0 0 1 211.14 523.46L209.86 530.05A121.38 121.38 0 0 0 186.70 527.82Z" fill="#a6e2c5"/>
<path d="M186.70 527.82A121.38 121.38 0 0 1 209.86 530.05L208.58 536.64A114.67 114.67 0 0 0 186.70 534.53Z" fill="#ffd8c4"/>
<path d="M186.70 534.53A114.67 114.67 0 0 1 208.58 536.64L207.30 543.22A107.96 107.96 0 0 0 186.70 541.24Z" fill="#a6e2c5"/>
<path d="M186.70 541.24A107.96 107.96 0 0 1 207.30 543.22L206.02 549.81A101.25 101.25 0 0 0 186.70 547.95Z" fill="#fff0e9"/>
<path d="M186.70 547.95A101.25 101.25 0 0 1 206.02 549.81L204.74 556.40A94.54 94.54 0 0 0 186.70 554.66Z" fill="#a6e2c5"/>
<path d="M186.70 554.66A94.54 94.54 0 0 1 204.74 556.40L203.46 562.98A87.83 87.83 0 0 0 186.70 561.37Z" fill="#ff7733"/>
<path d="M186.70 561.37A87.83 87.83 0 0 1 203.46 562.98L202.18 569.57A81.12 81.12 0 0 0 186.70 568.08Z" fill="#fff7f3"/>
<path d="M186.70 568.08A81.12 81.12 0 0 1 202.18 569.57L200.90 576.16A74.41 74.41 0 0 0 186.70 574.79Z" fill="#ffddcc"/>
<path d="M186.70 574.79A74.41 74.41 0 0 1 200.90 576.16L199.62 582.74A67.70 67.70 0 0 0 186.70 581.50Z" fill="#a6e2c5"/>
<path d="M212.42 516.88A134.80 134.80 0 0 1 237.20 524.22L234.68 530.44A128.09 128.09 0 0 0 211.14 523.46Z" fill="#ffebe2"/>
<path d="M211.14 523.46A128.09 128.09 0 0 1 234.68 530.44L232.17 536.66A121.38 121.38 0 0 0 209.86 530.05Z" fill="#d9f3e6"/>
<path d="M209.86 530.05A121.38 121.38 0 0 1 232.17 536.66L229.66 542.88A114.67 114.67 0 0 0 208.58 536.64Z" fill="#ffebe2"/>
<path d="M208.58 536.64A114.67 114.67 0 0 1 229.66 542.88L227.14 549.10A107.96 107.96 0 0 0 207.30 543.22Z" fill="#a6e2c5"/>
<path d="M207.30 543.22A107.96 107.96 0 0 1 227.14 549.10L224.63 555.32A101.25 101.25 0 0 0 206.02 549.81Z" fill="#ffd3bd"/>
<path d="M206.02 549.81A101.25 101.25 0 0 1 224.63 555.32L222.12 561.54A94.54 94.54 0 0 0 204.74 556.40Z" fill="#b2e6cd"/>
<path d="M204.74 556.40A94.54 94.54 0 0 1 222.12 561.54L219.60 567.77A87.83 87.83 0 0 0 203.46 562.98Z" fill="#ff6e26"/>
<path d="M203.46 562.98A87.83 87.83 0 0 1 219.60 567.77L217.09 573.99A81.12 81.12 0 0 0 202.18 569.57Z" fill="#ffffff"/>
<path d="M202.18 569.57A81.12 81.12 0 0 1 217.09 573.99L214.57 580.21A74.41 74.41 0 0 0 200.90 576.16Z" fill="#fff0e9"/>
<path d="M200.90 576.16A74.41 74.41 0 0 1 214.57 580.21L212.06 586.43A67.70 67.70 0 0 0 199.62 582.74Z" fill="#b2e6cd"/>
<path d="M237.20 524.22A134.80 134.80 0 0 1 260.12 536.15L256.46 541.77A128.09 128.09 0 0 0 234.68 530.44Z" fill="#fff0e9"/>
<path d="M234.68 530.44A128.09 128.09 0 0 1 256.46 541.77L252.81 547.40A121.38 121.38 0 0 0 232.17 536.66Z" fill="#c6ecd9"/>
<path d="M232.17 536.66A121.38 121.38 0 0 1 252.81 547.40L249.15 553.03A114.67 114.67 0 0 0 229.66 542.88Z" fill="#ffebe2"/>
<path d="M229.66 542.88A114.67 114.67 0 0 1 249.15 553.03L245.50 558.66A107.96 107.96 0 0 0 227.14 549.10Z" fill="#ace4c9"/>
<path d="M227.14 549.10A107.96 107.96 0 0 1 245.50 558.66L241.84 564.28A101.25 101.25 0 0 0 224.63 555.32Z" fill="#ffffff"/>
<path d="M224.63 555.32A101.25 101.25 0 0 1 241.84 564.28L238.19 569.91A94.54 94.54 0 0 0 222.12 561.54Z" fill="#b9e8d1"/>
<path d="M222.12 561.54A94.54 94.54 0 0 1 238.19 569.91L234.54 575.54A87.83 87.83 0 0 0 219.60 567.77Z" fill="#ff5500"/>
<path d="M219.60 567.77A87.83 87.83 0 0 1 234.54 575.54L230.88 581.17A81.12 81.12 0 0 0 217.09 573.99Z" fill="#fffdfc"/>
<path d="M217.09 573.99A81.12 81.12 0 0 1 230.88 581.17L227.23 586.79A74.41 74.41 0 0 0 214.57 580.21Z" fill="#fff0e9"/>
<path d="M214.57 580.21A74.41 74.41 0 0 1 227.23 586.79L223.57 592.42A67.70 67.70 0 0 0 212.06 586.43Z" fill="#b9e8d1"/>
<path d="M260.12 536.15A134.80 134.80 0 0 1 280.34 552.23L275.68 557.06A128.09 128.09 0 0 0 256.46 541.77Z" fill="#e6f7ee"/>
<path d="M256.46 541.77A128.09 128.09 0 0 1 275.68 557.06L271.02 561.89A121.38 121.38 0 0 0 252.81 547.40Z" fill="#d9f3e6"/>
<path d="M252.81 547.40A121.38 121.38 0 0 1 271.02 561.89L266.36 566.71A114.67 114.67 0 0 0 249.15 553.03Z" fill="#dff5ea"/>
<path d="M249.15 553.03A114.67 114.67 0 0 1 266.36 566.71L261.70 571.54A107.96 107.96 0 0 0 245.50 558.66Z" fill="#d2f0e2"/>
<path d="M245.50 558.66A107.96 107.96 0 0 1 261.70 571.54L257.03 576.37A101.25 101.25 0 0 0 241.84 564.28Z" fill="#dff5ea"/>
<path d="M241.84 564.28A101.25 101.25 0 0 1 257.03 576.37L252.37 581.19A94.54 94.54 0 0 0 238.19 569.91Z" fill="#d9f3e6"/>
<path d="M238.19 569.91A94.54 94.54 0 0 1 252.37 581.19L247.71 586.02A87.83 87.83 0 0 0 234.54 575.54Z" fill="#ff5500"/>
<path d="M234.54 575.54A87.83 87.83 0 0 1 247.71 586.02L243.05 590.85A81.12 81.12 0 0 0 230.88 581.17Z" fill="#e6f7ee"/>
<path d="M230.88 581.17A81.12 81.12 0 0 1 243.05 590.85L238.39 595.67A74.41 74.41 0 0 0 227.23 586.79Z" fill="#e6f7ee"/>
<path d="M227.23 586.79A74.41 74.41 0 0 1 238.39 595.67L233.73 600.50A67.70 67.70 0 0 0 223.57 592.42Z" fill="#dff5ea"/>
<path d="M280.34 552.23A134.80 134.80 0 0 1 297.12 571.88L291.63 575.73A128.09 128.09 0 0 0 275.68 557.06Z" fill="#e6f7ee"/>
<path d="M275.68 557.06A128.09 128.09 0 0 1 291.63 575.73L286.13 579.58A121.38 121.38 0 0 0 271.02 561.89Z" fill="#e6f7ee"/>
<path d="M271.02 561.89A121.38 121.38 0 0 1 286.13 579.58L280.63 583.43A114.67 114.67 0 0 0 266.36 566.71Z" fill="#e6f7ee"/>
<path d="M266.36 566.71A114.67 114.67 0 0 1 280.63 583.43L275.14 587.28A107.96 107.96 0 0 0 261.70 571.54Z" fill="#e6f7ee"/>
<path d="M261.70 571.54A107.96 107.96 0 0 1 275.14 587.28L269.64 591.13A101.25 101.25 0 0 0 257.03 576.37Z" fill="#e6f7ee"/>
<path d="M257.03 576.37A101.25 101.25 0 0 1 269.64 591.13L264.14 594.97A94.54 94.54 0 0 0 252.37 581.19Z" fill="#e6f7ee"/>
<path d="M252.37 581.19A94.54 94.54 0 0 1 264.14 594.97L258.65 598.82A87.83 87.83 0 0 0 247.71 586.02Z" fill="#ff5500"/>
<path d="M247.71 586.02A87.83 87.83 0 0 1 258.65 598.82L253.15 602.67A81.12 81.12 0 0 0 243.05 590.85Z" fill="#e6f7ee"/>
<path d="M243.05 590.85A81.12 81.12 0 0 1 253.15 602.67L247.65 606.52A74.41 74.41 0 0 0 238.39 595.67Z" fill="#e6f7ee"/>
<path d="M238.39 595.67A74.41 74.41 0 0 1 247.65 606.52L242.16 610.37A67.70 67.70 0 0 0 233.73 600.50Z" fill="#e6f7ee"/>
<path d="M297.12 571.88A134.80 134.80 0 0 1 309.85 594.37L303.72 597.10A128.09 128.09 0 0 0 291.63 575.73Z" fill="#e6f7ee"/>
<path d="M291.63 575.73A128.09 128.09 0 0 1 303.72 597.10L297.59 599.83A121.38 121.38 0 0 0 286.13 579.58Z" fill="#e6f7ee"/>
<path d="M286.13 579.58A121.38 121.38 0 0 1 297.59 599.83L291.46 602.56A114.67 114.67 0 0 0 280.63 583.43Z" fill="#e6f7ee"/>
<path d="M280.63 583.43A114.67 114.67 0 0 1 291.46 602.56L285.33 605.29A107.96 107.96 0 0 0 275.14 587.28Z" fill="#e6f7ee"/>
<path d="M275.14 587.28A107.96 107.96 0 0 1 285.33 605.29L279.20 608.02A101.25 101.25 0 0 0 269.64 591.13Z" fill="#e6f7ee"/>
<path d="M269.64 591.13A101.25 101.25 0 0 1 279.20 608.02L273.07 610.75A94.54 94.54 0 0 0 264.14 594.97Z" fill="#e6f7ee"/>
<path d="M264.14 594.97A94.54 94.54 0 0 1 273.07 610.75L266.94 613.48A87.83 87.83 0 0 0 258.65 598.82Z" fill="#ff5500"/>
<path d="M258.65 598.82A87.83 87.83 0 0 1 266.94 613.48L260.81 616.21A81.12 81.12 0 0 0 253.15 602.67Z" fill="#e6f7ee"/>
<path d="M253.15 602.67A81.12 81.12 0 0 1 260.81 616.21L254.68 618.93A74.41 74.41 0 0 0 247.65 606.52Z" fill="#e6f7ee"/>
<path d="M247.65 606.52A74.41 74.41 0 0 1 254.68 618.93L248.55 621.66A67.70 67.70 0 0 0 242.16 610.37Z" fill="#e6f7ee"/>
<path d="M309.85 594.37A134.80 134.80 0 0 1 318.05 618.88L311.51 620.39A128.09 128.09 0 0 0 303.72 597.10Z" fill="#e6f7ee"/>
<path d="M303.72 597.10A128.09 128.09 0 0 1 311.51 620.39L304.97 621.90A121.38 121.38 0 0 0 297.59 599.83Z" fill="#e6f7ee"/>
<path d="M297.59 599.83A121.38 121.38 0 0 1 304.97 621.90L298.43 623.40A114.67 114.67 0 0 0 291.46 602.56Z" fill="#e6f7ee"/>
<path d="M291.46 602.56A114.67 114.67 0 0 1 298.43 623.40L291.89 624.91A107.96 107.96 0 0 0 285.33 605.29Z" fill="#e6f7ee"/>
<path d="M285.33 605.29A107.96 107.96 0 0 1 291.89 624.91L285.35 626.42A101.25 101.25 0 0 0 279.20 608.02Z" fill="#e6f7ee"/>
<path d="M279.20 608.02A101.25 101.25 0 0 1 285.35 626.42L278.82 627.93A94.54 94.54 0 0 0 273.07 610.75Z" fill="#e6f7ee"/>
<path d="M273.07 610.75A94.54 94.54 0 0 1 278.82 627.93L272.28 629.44A87.83 87.83 0 0 0 266.94 613.48Z" fill="#ff5500"/>
<path d="M266.94 613.48A87.83 87.83 0 0 1 272.28 629.44L265.74 630.95A81.12 81.12 0 0 0 260.81 616.21Z" fill="#e6f7ee"/>
<path d="M260.81 616.21A81.12 81.12 0 0 1 265.74 630.95L259.20 632.46A74.41 74.41 0 0 0 254.68 618.93Z" fill="#e6f7ee"/>
<path d="M254.68 618.93A74.41 74.41 0 0 1 259.20 632.46L252.66 633.97A67.70 67.70 0 0 0 248.55 621.66Z" fill="#e6f7ee"/>
<path d="M318.05 618.88A134.80 134.80 0 0 1 321.42 644.50L314.71 644.73A128.09 128.09 0 0 0 311.51 620.39Z" fill="#e6f7ee"/>
<path d="M311.51 620.39A128.09 128.09 0 0 1 314.71 644.73L308.01 644.96A121.38 121.38 0 0 0 304.97 621.90Z" fill="#e6f7ee"/>
<path d="M304.97 621.90A121.38 121.38 0 0 1 308.01 644.96L301.30 645.20A114.67 114.67 0 0 0 298.43 623.40Z" fill="#e6f7ee"/>
<path d="M298.43 623.40A114.67 114.67 0 0 1 301.30 645.20L294.59 645.43A107.96 107.96 0 0 0 291.89 624.91Z" fill="#e6f7ee"/>
<path d="M291.89 624.91A107.96 107.96 0 0 1 294.59 645.43L287.89 645.67A101.25 101.25 0 0 0 285.35 626.42Z" fill="#e6f7ee"/>
<path d="M285.35 626.42A101.25 101.25 0 0 1 287.89 645.67L281.18 645.90A94.54 94.54 0 0 0 278.82 627.93Z" fill="#e6f7ee"/>
<path d="M278.82 627.93A94.54 94.54 0 0 1 281.18 645.90L274.48 646.13A87.83 87.83 0 0 0 272.28 629.44Z" fill="#ff5500"/>
<path d="M272.28 629.44A87.83 87.83 0 0 1 274.48 646.13L267.77 646.37A81.12 81.12 0 0 0 265.74 630.95Z" fill="#e6f7ee"/>
<path d="M265.74 630.95A81.12 81.12 0 0 1 267.77 646.37L261.06 646.60A74.41 74.41 0 0 0 259.20 632.46Z" fill="#e6f7ee"/>
<path d="M259.20 632.46A74.41 74.41 0 0 1 261.06 646.60L254.36 646.84A67.70 67.70 0 0 0 252.66 633.97Z" fill="#e6f7ee"/>
<path d="M321.42 644.50A134.80 134.80 0 0 1 319.84 670.29L313.21 669.24A128.09 128.09 0 0 0 314.71 644.73Z" fill="#fff5f0"/>
<path d="M314.71 644.73A128.09 128.09 0 0 1 313.21 669.24L306.59 668.19A121.38 121.38 0 0 0 308.01 644.96Z" fill="#cceede"/>
<path d="M308.01 644.96A121.38 121.38 0 0 1 306.59 668.19L299.96 667.14A114.67 114.67 0 0 0 301.30 645.20Z" fill="#fff5f0"/>
<path d="M301.30 645.20A114.67 114.67 0 0 1 299.96 667.14L293.33 666.09A107.96 107.96 0 0 0 294.59 645.43Z" fill="#c6ecd9"/>
<path d="M294.59 645.43A107.96 107.96 0 0 1 293.33 666.09L286.70 665.04A101.25 101.25 0 0 0 287.89 645.67Z" fill="#fff3ed"/>
<path d="M287.89 645.67A101.25 101.25 0 0 1 286.70 665.04L280.08 663.99A94.54 94.54 0 0 0 281.18 645.90Z" fill="#cceede"/>
<path d="M281.18 645.90A94.54 94.54 0 0 1 280.08 663.99L273.45 662.94A87.83 87.83 0 0 0 274.48 646.13Z" fill="#ff5500"/>
<path d="M274.48 646.13A87.83 87.83 0 0 1 273.45 662.94L266.82 661.89A81.12 81.12 0 0 0 267.77 646.37Z" fill="#d2f0e2"/>
<path d="M267.77 646.37A81.12 81.12 0 0 1 266.82 661.89L260.19 660.84A74.41 74.41 0 0 0 261.06 646.60Z" fill="#fff7f3"/>
<path d="M261.06 646.60A74.41 74.41 0 0 1 260.19 660.84L253.57 659.79A67.70 67.70 0 0 0 254.36 646.84Z" fill="#cceede"/>
<path d="M319.84 670.29A134.80 134.80 0 0 1 313.37 695.30L307.07 693.01A128.09 128.09 0 0 0 313.21 669.24Z" fill="#fff5f0"/>
<path d="M313.21 669.24A128.09 128.09 0 0 1 307.07 693.01L300.76 690.71A121.38 121.38 0 0 0 306.59 668.19Z" fill="#c6ecd9"/>
<path d="M306.59 668.19A121.38 121.38 0 0 1 300.76 690.71L294.45 688.42A114.67 114.67 0 0 0 299.96 667.14Z" fill="#fff7f3"/>
<path d="M299.96 667.14A114.67 114.67 0 0 1 294.45 688.42L288.15 686.12A107.96 107.96 0 0 0 293.33 666.09Z" fill="#c6ecd9"/>
<path d="M293.33 666.09A107.96 107.96 0 0 1 288.15 686.12L281.84 683.83A101.25 101.25 0 0 0 286.70 665.04Z" fill="#fff0e9"/>
<path d="M286.70 665.04A101.25 101.25 0 0 1 281.84 683.83L275.54 681.53A94.54 94.54 0 0 0 280.08 663.99Z" fill="#cceede"/>
<path d="M280.08 663.99A94.54 94.54 0 0 1 275.54 681.53L269.23 679.24A87.83 87.83 0 0 0 273.45 662.94Z" fill="#ff5500"/>
<path d="M273.45 662.94A87.83 87.83 0 0 1 269.23 679.24L262.93 676.94A81.12 81.12 0 0 0 266.82 661.89Z" fill="#d2f0e2"/>
<path d="M266.82 661.89A81.12 81.12 0 0 1 262.93 676.94L256.62 674.65A74.41 74.41 0 0 0 260.19 660.84Z" fill="#fff7f3"/>
<path d="M260.19 660.84A74.41 74.41 0 0 1 256.62 674.65L250.32 672.35A67.70 67.70 0 0 0 253.57 659.79Z" fill="#cceede"/>
<path d="M313.37 695.30A134.80 134.80 0 0 1 302.25 718.63L296.49 715.17A128.09 128.09 0 0 0 307.07 693.01Z" fill="#fffdfc"/>
<path d="M307.07 693.01A128.09 128.09 0 0 1 296.49 715.17L290.74 711.72A121.38 121.38 0 0 0 300.76 690.71Z" fill="#cceede"/>
<path d="M300.76 690.71A121.38 121.38 0 0 1 290.74 711.72L284.99 708.26A114.67 114.67 0 0 0 294.45 688.42Z" fill="#fffcfb"/>
<path d="M294.45 688.42A114.67 114.67 0 0 1 284.99 708.26L279.24 704.80A107.96 107.96 0 0 0 288.15 686.12Z" fill="#cceede"/>
<path d="M288.15 686.12A107.96 107.96 0 0 1 279.24 704.80L273.49 701.35A101.25 101.25 0 0 0 281.84 683.83Z" fill="#fffcfb"/>
<path d="M281.84 683.83A101.25 101.25 0 0 1 273.49 701.35L267.74 697.89A94.54 94.54 0 0 0 275.54 681.53Z" fill="#d2f0e2"/>
<path d="M275.54 681.53A94.54 94.54 0 0 1 267.74 697.89L261.99 694.44A87.83 87.83 0 0 0 269.23 679.24Z" fill="#ff5500"/>
<path d="M269.23 679.24A87.83 87.83 0 0 1 261.99 694.44L256.23 690.98A81.12 81.12 0 0 0 262.93 676.94Z" fill="#d9f3e6"/>
<path d="M262.93 676.94A81.12 81.12 0 0 1 256.23 690.98L250.48 687.52A74.41 74.41 0 0 0 256.62 674.65Z" fill="#ffffff"/>
<path d="M256.62 674.65A74.41 74.41 0 0 1 250.48 687.52L244.73 684.07A67.70 67.70 0 0 0 250.32 672.35Z" fill="#cceede"/>
<path d="M302.25 718.63A134.80 134.80 0 0 1 286.88 739.40L281.89 734.91A128.09 128.09 0 0 0 296.49 715.17Z" fill="#f2fbf7"/>
<path d="M296.49 715.17A128.09 128.09 0 0 1 281.89 734.91L276.90 730.42A121.38 121.38 0 0 0 290.74 711.72Z" fill="#d2f0e2"/>
<path d="M290.74 711.72A121.38 121.38 0 0 1 276.90 730.42L271.92 725.93A114.67 114.67 0 0 0 284.99 708.26Z" fill="#ffffff"/>
<path d="M284.99 708.26A114.67 114.67 0 0 1 271.92 725.93L266.93 721.44A107.96 107.96 0 0 0 279.24 704.80Z" fill="#cceede"/>
<path d="M279.24 704.80A107.96 107.96 0 0 1 266.93 721.44L261.94 716.95A101.25 101.25 0 0 0 273.49 701.35Z" fill="#ffffff"/>
<path d="M273.49 701.35A101.25 101.25 0 0 1 261.94 716.95L256.96 712.46A94.54 94.54 0 0 0 267.74 697.89Z" fill="#d2f0e2"/>
<path d="M267.74 697.89A94.54 94.54 0 0 1 256.96 712.46L251.97 707.97A87.83 87.83 0 0 0 261.99 694.44Z" fill="#ff5500"/>
<path d="M261.99 694.44A87.83 87.83 0 0 1 251.97 707.97L246.98 703.48A81.12 81.12 0 0 0 256.23 690.98Z" fill="#d9f3e6"/>
<path d="M256.23 690.98A81.12 81.12 0 0 1 246.98 703.48L242.00 698.99A74.41 74.41 0 0 0 250.48 687.52Z" fill="#ffffff"/>
<path d="M250.48 687.52A74.41 74.41 0 0 1 242.00 698.99L237.01 694.50A67.70 67.70 0 0 0 244.73 684.07Z" fill="#d2f0e2"/>
<path d="M286.88 739.40A134.80 134.80 0 0 1 267.82 756.86L263.79 751.50A128.09 128.09 0 0 0 281.89 734.91Z" fill="#f2fbf7"/>
<path d="M281.89 734.91A128.09 128.09 0 0 1 263.79 751.50L259.75 746.14A121.38 121.38 0 0 0 276.90 730.42Z" fill="#d2f0e2"/>
<path d="M276.90 730.42A121.38 121.38 0 0 1 259.75 746.14L255.71 740.78A114.67 114.67 0 0 0 271.92 725.93Z" fill="#ffffff"/>
<path d="M271.92 725.93A114.67 114.67 0 0 1 255.71 740.78L251.67 735.42A107.96 107.96 0 0 0 266.93 721.44Z" fill="#cceede"/>
<path d="M266.93 721.44A107.96 107.96 0 0 1 251.67 735.42L247.63 730.06A101.25 101.25 0 0 0 261.94 716.95Z" fill="#ffffff"/>
<path d="M261.94 716.95A101.25 101.25 0 0 1 247.63 730.06L243.60 724.70A94.54 94.54 0 0 0 256.96 712.46Z" fill="#d2f0e2"/>
<path d="M256.96 712.46A94.54 94.54 0 0 1 243.60 724.70L239.56 719.34A87.83 87.83 0 0 0 251.97 707.97Z" fill="#ff5500"/>
<path d="M251.97 707.97A87.83 87.83 0 0 1 239.56 719.34L235.52 713.99A81.12 81.12 0 0 0 246.98 703.48Z" fill="#d9f3e6"/>
<path d="M246.98 703.48A81.12 81.12 0 0 1 235.52 713.99L231.48 708.63A74.41 74.41 0 0 0 242.00 698.99Z" fill="#ffffff"/>
<path d="M242.00 698.99A74.41 74.41 0 0 1 231.48 708.63L227.44 703.27A67.70 67.70 0 0 0 237.01 694.50Z" fill="#d2f0e2"/>
<path d="M267.82 756.86A134.80 134.80 0 0 1 245.79 770.36L242.85 764.33A128.09 128.09 0 0 0 263.79 751.50Z" fill="#ffbb98"/>
<path d="M263.79 751.50A128.09 128.09 0 0 1 242.85 764.33L239.91 758.30A121.38 121.38 0 0 0 259.75 746.14Z" fill="#bfead5"/>
<path d="M259.75 746.14A121.38 121.38 0 0 1 239.91 758.30L236.97 752.26A114.67 114.67 0 0 0 255.71 740.78Z" fill="#ffbb98"/>
<path d="M255.71 740.78A114.67 114.67 0 0 1 236.97 752.26L234.03 746.23A107.96 107.96 0 0 0 251.67 735.42Z" fill="#b2e6cd"/>
<path d="M251.67 735.42A107.96 107.96 0 0 1 234.03 746.23L231.09 740.20A101.25 101.25 0 0 0 247.63 730.06Z" fill="#ffceb6"/>
<path d="M247.63 730.06A101.25 101.25 0 0 1 231.09 740.20L228.14 734.17A94.54 94.54 0 0 0 243.60 724.70Z" fill="#ffffff"/>
<path d="M243.60 724.70A94.54 94.54 0 0 1 228.14 734.17L225.20 728.14A87.83 87.83 0 0 0 239.56 719.34Z" fill="#a6e2c5"/>
<path d="M239.56 719.34A87.83 87.83 0 0 1 225.20 728.14L222.26 722.11A81.12 81.12 0 0 0 235.52 713.99Z" fill="#b2e6cd"/>
<path d="M235.52 713.99A81.12 81.12 0 0 1 222.26 722.11L219.32 716.08A74.41 74.41 0 0 0 231.48 708.63Z" fill="#ffbb98"/>
<path d="M231.48 708.63A74.41 74.41 0 0 1 219.32 716.08L216.38 710.05A67.70 67.70 0 0 0 227.44 703.27Z" fill="#b2e6cd"/>
<path d="M245.79 770.36A134.80 134.80 0 0 1 221.59 779.41L219.85 772.93A128.09 128.09 0 0 0 242.85 764.33Z" fill="#ffc4a7"/>
<path d="M242.85 764.33A128.09 128.09 0 0 1 219.85 772.93L218.12 766.44A121.38 121.38 0 0 0 239.91 758.30Z" fill="#ffffff"/>
<path d="M239.91 758.30A121.38 121.38 0 0 1 218.12 766.44L216.38 759.96A114.67 114.67 0 0 0 236.97 752.26Z" fill="#ffc4a7"/>
<path d="M236.97 752.26A114.67 114.67 0 0 1 216.38 759.96L214.64 753.48A107.96 107.96 0 0 0 234.03 746.23Z" fill="#bfead5"/>
<path d="M234.03 746.23A107.96 107.96 0 0 1 214.64 753.48L212.91 747.00A101.25 101.25 0 0 0 231.09 740.20Z" fill="#ff935c"/>
<path d="M231.09 740.20A101.25 101.25 0 0 1 212.91 747.00L211.17 740.52A94.54 94.54 0 0 0 228.14 734.17Z" fill="#a6e2c5"/>
<path d="M228.14 734.17A94.54 94.54 0 0 1 211.17 740.52L209.43 734.04A87.83 87.83 0 0 0 225.20 728.14Z" fill="#a6e2c5"/>
<path d="M225.20 728.14A87.83 87.83 0 0 1 209.43 734.04L207.70 727.56A81.12 81.12 0 0 0 222.26 722.11Z" fill="#dff5ea"/>
<path d="M222.26 722.11A81.12 81.12 0 0 1 207.70 727.56L205.96 721.07A74.41 74.41 0 0 0 219.32 716.08Z" fill="#ffc9ae"/>
<path d="M219.32 716.08A74.41 74.41 0 0 1 205.96 721.07L204.22 714.59A67.70 67.70 0 0 0 216.38 710.05Z" fill="#a6e2c5"/>
<path d="M221.59 779.41A134.80 134.80 0 0 1 196.10 783.67L195.64 776.98A128.09 128.09 0 0 0 219.85 772.93Z" fill="#ffb18a"/>
<path d="M219.85 772.93A128.09 128.09 0 0 1 195.64 776.98L195.17 770.28A121.38 121.38 0 0 0 218.12 766.44Z" fill="#cceede"/>
<path d="M218.12 766.44A121.38 121.38 0 0 1 195.17 770.28L194.70 763.59A114.67 114.67 0 0 0 216.38 759.96Z" fill="#ffb18a"/>
<path d="M216.38 759.96A114.67 114.67 0 0 1 194.70 763.59L194.23 756.90A107.96 107.96 0 0 0 214.64 753.48Z" fill="#a6e2c5"/>
<path d="M214.64 753.48A107.96 107.96 0 0 1 194.23 756.90L193.76 750.20A101.25 101.25 0 0 0 212.91 747.00Z" fill="#ffddcc"/>
<path d="M212.91 747.00A101.25 101.25 0 0 1 193.76 750.20L193.29 743.51A94.54 94.54 0 0 0 211.17 740.52Z" fill="#9fe0c0"/>
<path d="M211.17 740.52A94.54 94.54 0 0 1 193.29 743.51L192.83 736.82A87.83 87.83 0 0 0 209.43 734.04Z" fill="#a6e2c5"/>
<path d="M209.43 734.04A87.83 87.83 0 0 1 192.83 736.82L192.36 730.12A81.12 81.12 0 0 0 207.70 727.56Z" fill="#fff5f0"/>
<path d="M207.70 727.56A81.12 81.12 0 0 1 192.36 730.12L191.89 723.43A74.41 74.41 0 0 0 205.96 721.07Z" fill="#ffb18a"/>
<path d="M205.96 721.07A74.41 74.41 0 0 1 191.89 723.43L191.42 716.74A67.70 67.70 0 0 0 204.22 714.59Z" fill="#9fe0c0"/>
<path d="M196.10 783.67A134.80 134.80 0 0 1 170.27 783.00L171.09 776.34A128.09 128.09 0 0 0 195.64 776.98Z" fill="#ffac82"/>
<path d="M195.64 776.98A128.09 128.09 0 0 1 171.09 776.34L171.91 769.68A121.38 121.38 0 0 0 195.17 770.28Z" fill="#d2f0e2"/>
<path d="M195.17 770.28A121.38 121.38 0 0 1 171.91 769.68L172.73 763.02A114.67 114.67 0 0 0 194.70 763.59Z" fill="#ffac82"/>
<path d="M194.70 763.59A114.67 114.67 0 0 1 172.73 763.02L173.54 756.36A107.96 107.96 0 0 0 194.23 756.90Z" fill="#b9e8d1"/>
<path d="M194.23 756.90A107.96 107.96 0 0 1 173.54 756.36L174.36 749.70A101.25 101.25 0 0 0 193.76 750.20Z" fill="#ffd3bd"/>
<path d="M193.76 750.20A101.25 101.25 0 0 1 174.36 749.70L175.18 743.04A94.54 94.54 0 0 0 193.29 743.51Z" fill="#9fe0c0"/>
<path d="M193.29 743.51A94.54 94.54 0 0 1 175.18 743.04L176.00 736.38A87.83 87.83 0 0 0 192.83 736.82Z" fill="#9fe0c0"/>
<path d="M192.83 736.82A87.83 87.83 0 0 1 176.00 736.38L176.81 729.72A81.12 81.12 0 0 0 192.36 730.12Z" fill="#fffaf8"/>
<path d="M192.36 730.12A81.12 81.12 0 0 1 176.81 729.72L177.63 723.06A74.41 74.41 0 0 0 191.89 723.43Z" fill="#ffac82"/>
<path d="M191.89 723.43A74.41 74.41 0 0 1 177.63 723.06L178.45 716.40A67.70 67.70 0 0 0 191.42 716.74Z" fill="#a6e2c5"/>
<path d="M170.27 783.00A134.80 134.80 0 0 1 145.04 777.40L147.12 771.02A128.09 128.09 0 0 0 171.09 776.34Z" fill="#ffb18a"/>
<path d="M171.09 776.34A128.09 128.09 0 0 1 147.12 771.02L149.19 764.64A121.38 121.38 0 0 0 171.91 769.68Z" fill="#b2e6cd"/>
<path d="M171.91 769.68A121.38 121.38 0 0 1 149.19 764.64L151.27 758.26A114.67 114.67 0 0 0 172.73 763.02Z" fill="#ffb691"/>
<path d="M172.73 763.02A114.67 114.67 0 0 1 151.27 758.26L153.34 751.88A107.96 107.96 0 0 0 173.54 756.36Z" fill="#a6e2c5"/>
<path d="M173.54 756.36A107.96 107.96 0 0 1 153.34 751.88L155.41 745.49A101.25 101.25 0 0 0 174.36 749.70Z" fill="#ff9967"/>
<path d="M174.36 749.70A101.25 101.25 0 0 1 155.41 745.49L157.49 739.11A94.54 94.54 0 0 0 175.18 743.04Z" fill="#dff5ea"/>
<path d="M175.18 743.04A94.54 94.54 0 0 1 157.49 739.11L159.56 732.73A87.83 87.83 0 0 0 176.00 736.38Z" fill="#a6e2c5"/>
<path d="M176.00 736.38A87.83 87.83 0 0 1 159.56 732.73L161.63 726.35A81.12 81.12 0 0 0 176.81 729.72Z" fill="#ffffff"/>
<path d="M176.81 729.72A81.12 81.12 0 0 1 161.63 726.35L163.71 719.97A74.41 74.41 0 0 0 177.63 723.06Z" fill="#ffb18a"/>
<path d="M177.63 723.06A74.41 74.41 0 0 1 163.71 719.97L165.78 713.59A67.70 67.70 0 0 0 178.45 716.40Z" fill="#ace4c9"/>
<path d="M145.04 777.40A134.80 134.80 0 0 1 121.35 767.10L124.60 761.23A128.09 128.09 0 0 0 147.12 771.02Z" fill="#ffb18a"/>
<path d="M147.12 771.02A128.09 128.09 0 0 1 124.60 761.23L127.85 755.36A121.38 121.38 0 0 0 149.19 764.64Z" fill="#d9f3e6"/>
<path d="M149.19 764.64A121.38 121.38 0 0 1 127.85 755.36L131.11 749.49A114.67 114.67 0 0 0 151.27 758.26Z" fill="#ffb691"/>
<path d="M151.27 758.26A114.67 114.67 0 0 1 131.11 749.49L134.36 743.62A107.96 107.96 0 0 0 153.34 751.88Z" fill="#bfead5"/>
<path d="M153.34 751.88A107.96 107.96 0 0 1 134.36 743.62L137.61 737.76A101.25 101.25 0 0 0 155.41 745.49Z" fill="#ff9967"/>
<path d="M155.41 745.49A101.25 101.25 0 0 1 137.61 737.76L140.87 731.89A94.54 94.54 0 0 0 157.49 739.11Z" fill="#c6ecd9"/>
<path d="M157.49 739.11A94.54 94.54 0 0 1 140.87 731.89L144.12 726.02A87.83 87.83 0 0 0 159.56 732.73Z" fill="#9fe0c0"/>
<path d="M159.56 732.73A87.83 87.83 0 0 1 144.12 726.02L147.37 720.15A81.12 81.12 0 0 0 161.63 726.35Z" fill="#e6f7ee"/>
<path d="M161.63 726.35A81.12 81.12 0 0 1 147.37 720.15L150.63 714.28A74.41 74.41 0 0 0 163.71 719.97Z" fill="#ffb691"/>
<path d="M163.71 719.97A74.41 74.41 0 0 1 150.63 714.28L153.88 708.41A67.70 67.70 0 0 0 165.78 713.59Z" fill="#a6e2c5"/>
<path d="M121.35 767.10A134.80 134.80 0 0 1 100.05 752.46L104.37 747.32A128.09 128.09 0 0 0 124.60 761.23Z" fill="#ffb18a"/>
<path d="M124.60 761.23A128.09 128.09 0 0 1 104.37 747.32L108.68 742.18A121.38 121.38 0 0 0 127.85 755.36Z" fill="#cceede"/>
<path d="M127.85 755.36A121.38 121.38 0 0 1 108.68 742.18L112.99 737.04A114.67 114.67 0 0 0 131.11 749.49Z" fill="#ffb691"/>
<path d="M131.11 749.49A114.67 114.67 0 0 1 112.99 737.04L117.30 731.90A107.96 107.96 0 0 0 134.36 743.62Z" fill="#b9e8d1"/>
<path d="M134.36 743.62A107.96 107.96 0 0 1 117.30 731.90L121.62 726.76A101.25 101.25 0 0 0 137.61 737.76Z" fill="#ff9967"/>
<path d="M137.61 737.76A101.25 101.25 0 0 1 121.62 726.76L125.93 721.62A94.54 94.54 0 0 0 140.87 731.89Z" fill="#c6ecd9"/>
<path d="M140.87 731.89A94.54 94.54 0 0 1 125.93 721.62L130.24 716.48A87.83 87.83 0 0 0 144.12 726.02Z" fill="#9fe0c0"/>
<path d="M144.12 726.02A87.83 87.83 0 0 1 130.24 716.48L134.56 711.34A81.12 81.12 0 0 0 147.37 720.15Z" fill="#e6f7ee"/>
<path d="M147.37 720.15A81.12 81.12 0 0 1 134.56 711.34L138.87 706.20A74.41 74.41 0 0 0 150.63 714.28Z" fill="#ffbb98"/>
<path d="M150.63 714.28A74.41 74.41 0 0 1 138.87 706.20L143.18 701.06A67.70 67.70 0 0 0 153.88 708.41Z" fill="#b2e6cd"/>
<path d="M100.05 752.46A134.80 134.80 0 0 1 81.94 734.03L87.16 729.81A128.09 128.09 0 0 0 104.37 747.32Z" fill="#ffb691"/>
<path d="M104.37 747.32A128.09 128.09 0 0 1 87.16 729.81L92.37 725.59A121.38 121.38 0 0 0 108.68 742.18Z" fill="#d2f0e2"/>
<path d="M108.68 742.18A121.38 121.38 0 0 1 92.37 725.59L97.58 721.36A114.67 114.67 0 0 0 112.99 737.04Z" fill="#ffbb98"/>
<path d="M112.99 737.04A114.67 114.67 0 0 1 97.58 721.36L102.80 717.14A107.96 107.96 0 0 0 117.30 731.90Z" fill="#b9e8d1"/>
<path d="M117.30 731.90A107.96 107.96 0 0 1 102.80 717.14L108.01 712.92A101.25 101.25 0 0 0 121.62 726.76Z" fill="#ff9967"/>
<path d="M121.62 726.76A101.25 101.25 0 0 1 108.01 712.92L113.23 708.70A94.54 94.54 0 0 0 125.93 721.62Z" fill="#c6ecd9"/>
<path d="M125.93 721.62A94.54 94.54 0 0 1 113.23 708.70L118.44 704.47A87.83 87.83 0 0 0 130.24 716.48Z" fill="#a6e2c5"/>
<path d="M130.24 716.48A87.83 87.83 0 0 1 118.44 704.47L123.66 700.25A81.12 81.12 0 0 0 134.56 711.34Z" fill="#d9f3e6"/>
<path d="M134.56 711.34A81.12 81.12 0 0 1 123.66 700.25L128.87 696.03A74.41 74.41 0 0 0 138.87 706.20Z" fill="#ffbb98"/>
<path d="M138.87 706.20A74.41 74.41 0 0 1 128.87 696.03L134.09 691.80A67.70 67.70 0 0 0 143.18 701.06Z" fill="#a6e2c5"/>
<path d="M81.94 734.03A134.80 134.80 0 0 1 67.68 712.48L73.60 709.33A128.09 128.09 0 0 0 87.16 729.81Z" fill="#ffbb98"/>
<path d="M87.16 729.81A128.09 128.09 0 0 1 73.60 709.33L79.53 706.18A121.38 121.38 0 0 0 92.37 725.59Z" fill="#cceede"/>
<path d="M92.37 725.59A121.38 121.38 0 0 1 79.53 706.18L85.45 703.03A114.67 114.67 0 0 0 97.58 721.36Z" fill="#ffc4a7"/>
<path d="M97.58 721.36A114.67 114.67 0 0 1 85.45 703.03L91.38 699.88A107.96 107.96 0 0 0 102.80 717.14Z" fill="#b2e6cd"/>
<path d="M102.80 717.14A107.96 107.96 0 0 1 91.38 699.88L97.30 696.73A101.25 101.25 0 0 0 108.01 712.92Z" fill="#ff9967"/>
<path d="M108.01 712.92A101.25 101.25 0 0 1 97.30 696.73L103.23 693.58A94.54 94.54 0 0 0 113.23 708.70Z" fill="#a6e2c5"/>
<path d="M113.23 708.70A94.54 94.54 0 0 1 103.23 693.58L109.15 690.43A87.83 87.83 0 0 0 118.44 704.47Z" fill="#c6ecd9"/>
<path d="M118.44 704.47A87.83 87.83 0 0 1 109.15 690.43L115.08 687.28A81.12 81.12 0 0 0 123.66 700.25Z" fill="#ffffff"/>
<path d="M123.66 700.25A81.12 81.12 0 0 1 115.08 687.28L121.00 684.13A74.41 74.41 0 0 0 128.87 696.03Z" fill="#ffbb98"/>
<path d="M128.87 696.03A74.41 74.41 0 0 1 121.00 684.13L126.92 680.98A67.70 67.70 0 0 0 134.09 691.80Z" fill="#a6e2c5"/>
<path d="M67.68 712.48A134.80 134.80 0 0 1 57.79 688.61L64.21 686.65A128.09 128.09 0 0 0 73.60 709.33Z" fill="#ffbb98"/>
<path d="M73.60 709.33A128.09 128.09 0 0 1 64.21 686.65L70.62 684.69A121.38 121.38 0 0 0 79.53 706.18Z" fill="#cceede"/>
<path d="M79.53 706.18A121.38 121.38 0 0 1 70.62 684.69L77.04 682.73A114.67 114.67 0 0 0 85.45 703.03Z" fill="#ffbfa0"/>
<path d="M85.45 703.03A114.67 114.67 0 0 1 77.04 682.73L83.46 680.76A107.96 107.96 0 0 0 91.38 699.88Z" fill="#b2e6cd"/>
<path d="M91.38 699.88A107.96 107.96 0 0 1 83.46 680.76L89.87 678.80A101.25 101.25 0 0 0 97.30 696.73Z" fill="#ffa071"/>
<path d="M97.30 696.73A101.25 101.25 0 0 1 89.87 678.80L96.29 676.84A94.54 94.54 0 0 0 103.23 693.58Z" fill="#bfead5"/>
<path d="M103.23 693.58A94.54 94.54 0 0 1 96.29 676.84L102.71 674.88A87.83 87.83 0 0 0 109.15 690.43Z" fill="#e6f7ee"/>
<path d="M109.15 690.43A87.83 87.83 0 0 1 102.71 674.88L109.12 672.92A81.12 81.12 0 0 0 115.08 687.28Z" fill="#fff0e9"/>
<path d="M115.08 687.28A81.12 81.12 0 0 1 109.12 672.92L115.54 670.96A74.41 74.41 0 0 0 121.00 684.13Z" fill="#ffc4a7"/>
<path d="M121.00 684.13A74.41 74.41 0 0 1 115.54 670.96L121.96 668.99A67.70 67.70 0 0 0 126.92 680.98Z" fill="#a6e2c5"/>
<path d="M57.79 688.61A134.80 134.80 0 0 1 52.64 663.29L59.31 662.59A128.09 128.09 0 0 0 64.21 686.65Z" fill="#ffc4a7"/>
<path d="M64.21 686.65A128.09 128.09 0 0 1 59.31 662.59L65.98 661.89A121.38 121.38 0 0 0 70.62 684.69Z" fill="#cceede"/>
<path d="M70.62 684.69A121.38 121.38 0 0 1 65.98 661.89L72.66 661.19A114.67 114.67 0 0 0 77.04 682.73Z" fill="#ffc9ae"/>
<path d="M77.04 682.73A114.67 114.67 0 0 1 72.66 661.19L79.33 660.48A107.96 107.96 0 0 0 83.46 680.76Z" fill="#b2e6cd"/>
<path d="M83.46 680.76A107.96 107.96 0 0 1 79.33 660.48L86.00 659.78A101.25 101.25 0 0 0 89.87 678.80Z" fill="#ffa071"/>
<path d="M89.87 678.80A101.25 101.25 0 0 1 86.00 659.78L92.68 659.08A94.54 94.54 0 0 0 96.29 676.84Z" fill="#dff5ea"/>
<path d="M96.29 676.84A94.54 94.54 0 0 1 92.68 659.08L99.35 658.38A87.83 87.83 0 0 0 102.71 674.88Z" fill="#b9e8d1"/>
<path d="M102.71 674.88A87.83 87.83 0 0 1 99.35 658.38L106.02 657.68A81.12 81.12 0 0 0 109.12 672.92Z" fill="#ffebe2"/>
<path d="M109.12 672.92A81.12 81.12 0 0 1 106.02 657.68L112.70 656.98A74.41 74.41 0 0 0 115.54 670.96Z" fill="#ffc9ae"/>
<path d="M115.54 670.96A74.41 74.41 0 0 1 112.70 656.98L119.37 656.28A67.70 67.70 0 0 0 121.96 668.99Z" fill="#a6e2c5"/>
<path d="M52.64 663.29A134.80 134.80 0 0 1 52.41 637.45L59.10 638.04A128.09 128.09 0 0 0 59.31 662.59Z" fill="#ffbfa0"/>
<path d="M59.31 662.59A128.09 128.09 0 0 1 59.10 638.04L65.78 638.62A121.38 121.38 0 0 0 65.98 661.89Z" fill="#cceede"/>
<path d="M65.98 661.89A121.38 121.38 0 0 1 65.78 638.62L72.47 639.21A114.67 114.67 0 0 0 72.66 661.19Z" fill="#ffc4a7"/>
<path d="M72.66 661.19A114.67 114.67 0 0 1 72.47 639.21L79.15 639.79A107.96 107.96 0 0 0 79.33 660.48Z" fill="#b9e8d1"/>
<path d="M79.33 660.48A107.96 107.96 0 0 1 79.15 639.79L85.84 640.38A101.25 101.25 0 0 0 86.00 659.78Z" fill="#ffa071"/>
<path d="M86.00 659.78A101.25 101.25 0 0 1 85.84 640.38L92.52 640.96A94.54 94.54 0 0 0 92.68 659.08Z" fill="#d2f0e2"/>
<path d="M92.68 659.08A94.54 94.54 0 0 1 92.52 640.96L99.20 641.55A87.83 87.83 0 0 0 99.35 658.38Z" fill="#bfead5"/>
<path d="M99.35 658.38A87.83 87.83 0 0 1 99.20 641.55L105.89 642.13A81.12 81.12 0 0 0 106.02 657.68Z" fill="#ffffff"/>
<path d="M106.02 657.68A81.12 81.12 0 0 1 105.89 642.13L112.57 642.71A74.41 74.41 0 0 0 112.70 656.98Z" fill="#ffc9ae"/>
<path d="M112.70 656.98A74.41 74.41 0 0 1 112.57 642.71L119.26 643.30A67.70 67.70 0 0 0 119.37 656.28Z" fill="#b9e8d1"/>
<path d="M52.41 637.45A134.80 134.80 0 0 1 57.12 612.04L63.57 613.89A128.09 128.09 0 0 0 59.10 638.04Z" fill="#ffc4a7"/>
<path d="M59.10 638.04A128.09 128.09 0 0 1 63.57 613.89L70.02 615.74A121.38 121.38 0 0 0 65.78 638.62Z" fill="#d2f0e2"/>
<path d="M65.78 638.62A121.38 121.38 0 0 1 70.02 615.74L76.47 617.59A114.67 114.67 0 0 0 72.47 639.21Z" fill="#ffc9ae"/>
<path d="M72.47 639.21A114.67 114.67 0 0 1 76.47 617.59L82.92 619.44A107.96 107.96 0 0 0 79.15 639.79Z" fill="#bfead5"/>
<path d="M79.15 639.79A107.96 107.96 0 0 1 82.92 619.44L89.37 621.29A101.25 101.25 0 0 0 85.84 640.38Z" fill="#ffa071"/>
<path d="M85.84 640.38A101.25 101.25 0 0 1 89.37 621.29L95.82 623.14A94.54 94.54 0 0 0 92.52 640.96Z" fill="#c6ecd9"/>
<path d="M92.52 640.96A94.54 94.54 0 0 1 95.82 623.14L102.27 624.99A87.83 87.83 0 0 0 99.20 641.55Z" fill="#b2e6cd"/>
<path d="M99.20 641.55A87.83 87.83 0 0 1 102.27 624.99L108.72 626.84A81.12 81.12 0 0 0 105.89 642.13Z" fill="#fff5f0"/>
<path d="M105.89 642.13A81.12 81.12 0 0 1 108.72 626.84L115.17 628.69A74.41 74.41 0 0 0 112.57 642.71Z" fill="#ffc9ae"/>
<path d="M112.57 642.71A74.41 74.41 0 0 1 115.17 628.69L121.62 630.54A67.70 67.70 0 0 0 119.26 643.30Z" fill="#b9e8d1"/>
<path d="M57.12 612.04A134.80 134.80 0 0 1 66.59 588.00L72.57 591.05A128.09 128.09 0 0 0 63.57 613.89Z" fill="#ffc4a7"/>
<path d="M63.57 613.89A128.09 128.09 0 0 1 72.57 591.05L78.55 594.09A121.38 121.38 0 0 0 70.02 615.74Z" fill="#ace4c9"/>
<path d="M70.02 615.74A121.38 121.38 0 0 1 78.55 594.09L84.53 597.14A114.67 114.67 0 0 0 76.47 617.59Z" fill="#ffc9ae"/>
<path d="M76.47 617.59A114.67 114.67 0 0 1 84.53 597.14L90.51 600.19A107.96 107.96 0 0 0 82.92 619.44Z" fill="#9fe0c0"/>
<path d="M82.92 619.44A107.96 107.96 0 0 1 90.51 600.19L96.49 603.23A101.25 101.25 0 0 0 89.37 621.29Z" fill="#ffceb6"/>
<path d="M89.37 621.29A101.25 101.25 0 0 1 96.49 603.23L102.46 606.28A94.54 94.54 0 0 0 95.82 623.14Z" fill="#ffe7da"/>
<path d="M95.82 623.14A94.54 94.54 0 0 1 102.46 606.28L108.44 609.33A87.83 87.83 0 0 0 102.27 624.99Z" fill="#ffffff"/>
<path d="M102.27 624.99A87.83 87.83 0 0 1 108.44 609.33L114.42 612.37A81.12 81.12 0 0 0 108.72 626.84Z" fill="#fff0e9"/>
<path d="M108.72 626.84A81.12 81.12 0 0 1 114.42 612.37L120.40 615.42A74.41 74.41 0 0 0 115.17 628.69Z" fill="#ffc9ae"/>
<path d="M115.17 628.69A74.41 74.41 0 0 1 120.40 615.42L126.38 618.46A67.70 67.70 0 0 0 121.62 630.54Z" fill="#99debc"/>
<path d="M66.59 588.00A134.80 134.80 0 0 1 80.48 566.21L85.76 570.34A128.09 128.09 0 0 0 72.57 591.05Z" fill="#ffc4a7"/>
<path d="M72.57 591.05A128.09 128.09 0 0 1 85.76 570.34L91.05 574.47A121.38 121.38 0 0 0 78.55 594.09Z" fill="#d9f3e6"/>
<path d="M78.55 594.09A121.38 121.38 0 0 1 91.05 574.47L96.34 578.60A114.67 114.67 0 0 0 84.53 597.14Z" fill="#ffc4a7"/>
<path d="M84.53 597.14A114.67 114.67 0 0 1 96.34 578.60L101.63 582.73A107.96 107.96 0 0 0 90.51 600.19Z" fill="#b2e6cd"/>
<path d="M90.51 600.19A107.96 107.96 0 0 1 101.63 582.73L106.91 586.86A101.25 101.25 0 0 0 96.49 603.23Z" fill="#ffe7da"/>
<path d="M96.49 603.23A101.25 101.25 0 0 1 106.91 586.86L112.20 591.00A94.54 94.54 0 0 0 102.46 606.28Z" fill="#9fe0c0"/>
<path d="M102.46 606.28A94.54 94.54 0 0 1 112.20 591.00L117.49 595.13A87.83 87.83 0 0 0 108.44 609.33Z" fill="#ffffff"/>
<path d="M108.44 609.33A87.83 87.83 0 0 1 117.49 595.13L122.78 599.26A81.12 81.12 0 0 0 114.42 612.37Z" fill="#ffceb6"/>
<path d="M114.42 612.37A81.12 81.12 0 0 1 122.78 599.26L128.06 603.39A74.41 74.41 0 0 0 120.40 615.42Z" fill="#ffc4a7"/>
<path d="M120.40 615.42A74.41 74.41 0 0 1 128.06 603.39L133.35 607.52A67.70 67.70 0 0 0 126.38 618.46Z" fill="#9fe0c0"/>
<path d="M80.48 566.21A134.80 134.80 0 0 1 98.26 547.47L102.67 552.53A128.09 128.09 0 0 0 85.76 570.34Z" fill="#ffbb98"/>
<path d="M85.76 570.34A128.09 128.09 0 0 1 102.67 552.53L107.07 557.59A121.38 121.38 0 0 0 91.05 574.47Z" fill="#b2e6cd"/>
<path d="M91.05 574.47A121.38 121.38 0 0 1 107.07 557.59L111.47 562.66A114.67 114.67 0 0 0 96.34 578.60Z" fill="#ffbb98"/>
<path d="M96.34 578.60A114.67 114.67 0 0 1 111.47 562.66L115.87 567.72A107.96 107.96 0 0 0 101.63 582.73Z" fill="#ace4c9"/>
<path d="M101.63 582.73A107.96 107.96 0 0 1 115.87 567.72L120.27 572.79A101.25 101.25 0 0 0 106.91 586.86Z" fill="#ffe2d3"/>
<path d="M106.91 586.86A101.25 101.25 0 0 1 120.27 572.79L124.68 577.85A94.54 94.54 0 0 0 112.20 591.00Z" fill="#ace4c9"/>
<path d="M112.20 591.00A94.54 94.54 0 0 1 124.68 577.85L129.08 582.91A87.83 87.83 0 0 0 117.49 595.13Z" fill="#e6f7ee"/>
<path d="M117.49 595.13A87.83 87.83 0 0 1 129.08 582.91L133.48 587.98A81.12 81.12 0 0 0 122.78 599.26Z" fill="#ffceb6"/>
<path d="M122.78 599.26A81.12 81.12 0 0 1 133.48 587.98L137.88 593.04A74.41 74.41 0 0 0 128.06 603.39Z" fill="#ffbfa0"/>
<path d="M128.06 603.39A74.41 74.41 0 0 1 137.88 593.04L142.28 598.11A67.70 67.70 0 0 0 133.35 607.52Z" fill="#a6e2c5"/>
<path d="M98.26 547.47A134.80 134.80 0 0 1 119.30 532.46L122.65 538.27A128.09 128.09 0 0 0 102.67 552.53Z" fill="#ffbb98"/>
<path d="M102.67 552.53A128.09 128.09 0 0 1 122.65 538.27L126.01 544.08A121.38 121.38 0 0 0 107.07 557.59Z" fill="#cceede"/>
<path d="M107.07 557.59A121.38 121.38 0 0 1 126.01 544.08L129.36 549.89A114.67 114.67 0 0 0 111.47 562.66Z" fill="#ffb691"/>
<path d="M111.47 562.66A114.67 114.67 0 0 1 129.36 549.89L132.72 555.70A107.96 107.96 0 0 0 115.87 567.72Z" fill="#b2e6cd"/>
<path d="M115.87 567.72A107.96 107.96 0 0 1 132.72 555.70L136.07 561.51A101.25 101.25 0 0 0 120.27 572.79Z" fill="#ffddcc"/>
<path d="M120.27 572.79A101.25 101.25 0 0 1 136.07 561.51L139.43 567.33A94.54 94.54 0 0 0 124.68 577.85Z" fill="#b2e6cd"/>
<path d="M124.68 577.85A94.54 94.54 0 0 1 139.43 567.33L142.78 573.14A87.83 87.83 0 0 0 129.08 582.91Z" fill="#d9f3e6"/>
<path d="M129.08 582.91A87.83 87.83 0 0 1 142.78 573.14L146.14 578.95A81.12 81.12 0 0 0 133.48 587.98Z" fill="#ffddcc"/>
<path d="M133.48 587.98A81.12 81.12 0 0 1 146.14 578.95L149.49 584.76A74.41 74.41 0 0 0 137.88 593.04Z" fill="#ffbb98"/>
<path d="M137.88 593.04A74.41 74.41 0 0 1 149.49 584.76L152.85 590.57A67.70 67.70 0 0 0 142.28 598.11Z" fill="#ace4c9"/>
<path d="M212.42 516.88L199.62 582.74M237.20 524.22L212.06 586.43M260.12 536.15L223.57 592.42M280.34 552.23L233.73 600.50M297.12 571.88L242.16 610.37M309.85 594.37L248.55 621.66M318.05 618.88L252.66 633.97M321.42 644.50L254.36 646.84M319.84 670.29L253.57 659.79M313.37 695.30L250.32 672.35M302.25 718.63L244.73 684.07M286.88 739.40L237.01 694.50M267.82 756.86L227.44 703.27M245.79 770.36L216.38 710.05M221.59 779.41L204.22 714.59M196.10 783.67L191.42 716.74M170.27 783.00L178.45 716.40M145.04 777.40L165.78 713.59M121.35 767.10L153.88 708.41M100.05 752.46L143.18 701.06M81.94 734.03L134.09 691.80M67.68 712.48L126.92 680.98M57.79 688.61L121.96 668.99M52.64 663.29L119.37 656.28M52.41 637.45L119.26 643.30M57.12 612.04L121.62 630.54M66.59 588.00L126.38 618.46M80.48 566.21L133.35 607.52M98.26 547.47L142.28 598.11M186.70 521.11A128.09 128.09 0 1 1 122.65 538.27M186.70 527.82A121.38 121.38 0 1 1 126.01 544.08M186.70 534.53A114.67 114.67 0 1 1 129.36 549.89M186.70 541.24A107.96 107.96 0 1 1 132.72 555.70M186.70 547.95A101.25 101.25 0 1 1 136.07 561.51M186.70 554.66A94.54 94.54 0 1 1 139.43 567.33M186.70 561.37A87.83 87.83 0 1 1 142.78 573.14M186.70 568.08A81.12 81.12 0 1 1 146.14 578.95M186.70 574.79A74.41 74.41 0 1 1 149.49 584.76" fill="none" stroke="#fff" stroke-width="0.45" stroke-opacity="0.75"/>
<path d="M205.93 584.29L204.34 589.65M217.96 589.15L215.38 594.11M204.34 589.65A62.11 62.11 0 0 1 215.38 594.11M193.19 581.81L192.60 587.95M209.97 591.61L209.75 592.15M192.60 587.95A61.54 61.54 0 0 1 209.75 592.15M238.18 605.23L238.18 605.23M245.62 615.86L245.62 615.86M238.18 605.23A67.70 67.70 0 0 1 245.62 615.86M242.16 610.37L242.16 610.37M250.90 627.72L250.90 627.72M242.16 610.37A67.70 67.70 0 0 1 250.90 627.72M247.15 618.73L247.15 618.73M253.82 640.36L253.82 640.36M247.15 618.73A67.70 67.70 0 0 1 253.82 640.36M228.84 596.22L227.39 598.04M251.40 629.27L249.17 629.95M227.39 598.04A65.37 65.37 0 0 1 249.17 629.95M254.27 653.33L253.46 653.28M252.24 666.15L251.45 665.95M253.46 653.28A66.88 66.88 0 0 1 251.45 665.95M241.12 689.47L241.12 689.47M232.44 699.11L232.44 699.11M241.12 689.47A67.70 67.70 0 0 1 232.44 699.11M247.81 678.35L246.31 677.63M237.01 694.50L235.78 693.39M246.31 677.63A66.04 66.04 0 0 1 235.78 693.39M252.76 659.66L250.31 659.28M241.61 685.89L240.25 684.98M250.31 659.28A64.40 64.40 0 0 1 240.25 684.98M240.69 612.35L236.94 614.91M246.67 672.67L243.35 671.37M236.94 614.91A60.83 60.83 0 0 1 243.35 671.37M201.33 589.43L199.81 595.62M247.14 642.35L241.51 642.99M199.81 595.62A55.17 55.17 0 0 1 241.51 642.99M197.87 715.97L197.47 713.55M184.93 716.88L184.99 714.42M197.47 713.55A65.25 65.25 0 0 1 184.99 714.42M159.70 711.28L160.41 709.67M148.35 704.99L149.35 703.54M160.41 709.67A65.94 65.94 0 0 1 149.35 703.54M154.73 706.87L154.81 706.73M138.41 696.65L139.78 695.31M154.81 706.73A65.78 65.78 0 0 1 139.78 695.31M172.05 715.30L173.03 710.88M146.88 701.56L148.46 699.49M173.03 710.88A63.18 63.18 0 0 1 148.46 699.49M130.25 686.57L133.39 684.48M124.15 675.11L127.64 673.66M133.39 684.48A63.93 63.93 0 0 1 127.64 673.66M119.00 649.79L121.23 649.77M120.13 636.86L122.32 637.27M121.23 649.77A65.47 65.47 0 0 1 122.32 637.27M120.36 662.70L123.39 662.08M121.47 643.49L122.34 643.57M123.39 662.08A64.61 64.61 0 0 1 122.34 643.57M130.26 679.21L131.44 678.58M122.19 652.86L124.22 652.75M131.44 678.58A62.58 62.58 0 0 1 124.22 652.75M160.12 706.52L160.89 704.87M126.43 666.06L127.61 665.73M160.89 704.87A61.36 61.36 0 0 1 127.61 665.73M191.25 714.29L190.84 708.34M139.95 688.95L141.53 687.61M190.84 708.34A59.29 59.29 0 0 1 141.53 687.61M210.41 712.61L207.16 703.93M163.71 703.85L164.05 703.06M207.16 703.93A58.43 58.43 0 0 1 164.05 703.06M222.07 706.92L217.01 698.66M185.52 707.62L185.53 707.20M217.01 698.66A58.01 58.01 0 0 1 185.53 707.20M137.59 602.60L139.83 604.73M147.39 594.08L149.18 596.60M139.83 604.73A64.61 64.61 0 0 1 149.18 596.60M129.60 612.82L133.37 615.23M144.31 600.44L145.22 601.48M133.37 615.23A63.23 63.23 0 0 1 145.22 601.48M123.71 624.39L132.85 627.99M138.80 607.93L142.85 611.42M132.85 627.99A57.88 57.88 0 0 1 142.85 611.42M201.88 705.19L201.13 702.42M137.15 619.28L139.50 620.70M201.13 702.42A55.14 55.14 0 0 1 139.50 620.70M228.11 612.75L218.60 621.12M142.68 682.40L152.77 674.79M218.60 621.12A42.50 42.50 0 1 1 152.77 674.79" fill="none" stroke="#222" stroke-width="0.50"/>
<text transform="translate(200.05 510.54) rotate(-84.50)" font-size="6.50" text-anchor="start"><tspan x="0" y="3.05">pheno.1398</tspan></text>
<text transform="translate(226.26 515.64) rotate(-73.50)" font-size="6.50" text-anchor="start"><tspan x="0" y="3.05">pheno.1252</tspan></text>
<text transform="translate(251.02 525.64) rotate(-62.50)" font-size="6.50" text-anchor="start"><tspan x="0" y="3.05">pheno.1533</tspan></text>
<text transform="translate(273.42 540.18) rotate(-51.50)" font-size="6.50" text-anchor="start"><tspan x="0" y="3.05">pheno.2361</tspan></text>
<text transform="translate(292.62 558.73) rotate(-40.50)" font-size="6.50" text-anchor="start"><tspan x="0" y="3.05">pheno.1433</tspan></text>
<text transform="translate(307.94 580.61) rotate(-29.50)" font-size="6.50" text-anchor="start"><tspan x="0" y="3.05">pheno.235</tspan></text>
<text transform="translate(318.80 605.00) rotate(-18.50)" font-size="6.50" text-anchor="start"><tspan x="0" y="3.05">pheno.173</tspan></text>
<text transform="translate(324.81 631.02) rotate(-7.50)" font-size="6.50" text-anchor="start"><tspan x="0" y="3.05">pheno.2100</tspan></text>
<text transform="translate(325.74 657.70) rotate(3.50)" font-size="6.50" text-anchor="start"><tspan x="0" y="3.05">pheno.1338</tspan></text>
<text transform="translate(321.56 684.08) rotate(14.50)" font-size="6.50" text-anchor="start"><tspan x="0" y="3.05">pheno.2415</tspan></text>
<text transform="translate(312.43 709.17) rotate(25.50)" font-size="6.50" text-anchor="start"><tspan x="0" y="3.05">pheno.105</tspan></text>
<text transform="translate(298.68 732.06) rotate(36.50)" font-size="6.50" text-anchor="start"><tspan x="0" y="3.05">pheno.1055</tspan></text>
<text transform="translate(280.81 751.90) rotate(47.50)" font-size="6.50" text-anchor="start"><tspan x="0" y="3.05">pheno.2613</tspan></text>
<text transform="translate(259.48 767.97) rotate(58.50)" font-size="6.50" text-anchor="start"><tspan x="0" y="3.05">pheno.2111</tspan></text>
<text transform="translate(235.48 779.68) rotate(69.50)" font-size="6.50" text-anchor="start"><tspan x="0" y="3.05">pheno.2720</tspan></text>
<text transform="translate(209.69 786.59) rotate(80.50)" font-size="6.50" text-anchor="start"><tspan x="0" y="3.05">pheno.2152</tspan></text>
<text transform="translate(183.05 788.45) rotate(271.50)" font-size="6.50" text-anchor="end"><tspan x="0" y="3.05">pheno.2482</tspan></text>
<text transform="translate(156.55 785.20) rotate(282.50)" font-size="6.50" text-anchor="end"><tspan x="0" y="3.05">pheno.134</tspan></text>
<text transform="translate(131.15 776.95) rotate(293.50)" font-size="6.50" text-anchor="end"><tspan x="0" y="3.05">pheno.1295</tspan></text>
<text transform="translate(107.80 764.00) rotate(304.50)" font-size="6.50" text-anchor="end"><tspan x="0" y="3.05">pheno.1444</tspan></text>
<text transform="translate(87.34 746.84) rotate(315.50)" font-size="6.50" text-anchor="end"><tspan x="0" y="3.05">pheno.2247</tspan></text>
<text transform="translate(70.54 726.08) rotate(326.50)" font-size="6.50" text-anchor="end"><tspan x="0" y="3.05">pheno.2012</tspan></text>
<text transform="translate(58.00 702.51) rotate(337.50)" font-size="6.50" text-anchor="end"><tspan x="0" y="3.05">pheno.260</tspan></text>
<text transform="translate(50.20 676.97) rotate(348.50)" font-size="6.50" text-anchor="end"><tspan x="0" y="3.05">pheno.2459</tspan></text>
<text transform="translate(47.41 650.42) rotate(359.50)" font-size="6.50" text-anchor="end"><tspan x="0" y="3.05">pheno.1292</tspan></text>
<text transform="translate(49.73 623.81) rotate(370.50)" font-size="6.50" text-anchor="end"><tspan x="0" y="3.05">pheno.2533</tspan></text>
<text transform="translate(57.09 598.15) rotate(381.50)" font-size="6.50" text-anchor="end"><tspan x="0" y="3.05">pheno.1517</tspan></text>
<text transform="translate(69.22 574.35) rotate(392.50)" font-size="6.50" text-anchor="end"><tspan x="0" y="3.05">pheno.1326</tspan></text>
<text transform="translate(85.66 553.31) rotate(403.50)" font-size="6.50" text-anchor="end"><tspan x="0" y="3.05">pheno.1234</tspan></text>
<text transform="translate(105.81 535.79) rotate(414.50)" font-size="6.50" text-anchor="end"><tspan x="0" y="3.05">pheno.2195</tspan></text>
<text x="185.20" y="517.75" font-size="6.50" text-anchor="end" dominant-baseline="central">Wm.OR</text>
<text x="185.20" y="524.47" font-size="6.50" text-anchor="end" dominant-baseline="central">Wm.P</text>
<text x="185.20" y="531.18" font-size="6.50" text-anchor="end" dominant-baseline="central">WM.OR</text>
<text x="185.20" y="537.88" font-size="6.50" text-anchor="end" dominant-baseline="central">WM.P</text>
<text x="185.20" y="544.60" font-size="6.50" text-anchor="end" dominant-baseline="central">SM.OR</text>
<text x="185.20" y="551.31" font-size="6.50" text-anchor="end" dominant-baseline="central">SM.P</text>
<text x="185.20" y="558.02" font-size="6.50" text-anchor="end" dominant-baseline="central">Egger.OR</text>
<text x="185.20" y="564.73" font-size="6.50" text-anchor="end" dominant-baseline="central">Egger.P</text>
<text x="185.20" y="571.44" font-size="6.50" text-anchor="end" dominant-baseline="central">IVW.OR</text>
<text x="185.20" y="578.14" font-size="6.50" text-anchor="end" dominant-baseline="central">IVW.P</text>
<defs><linearGradient id="lg177" x1="0" y1="0" x2="0" y2="1"><stop offset="0.000" stop-color="#ff5500"/><stop offset="0.025" stop-color="#ff5500"/><stop offset="0.050" stop-color="#ff5500"/><stop offset="0.075" stop-color="#ff5500"/><stop offset="0.100" stop-color="#ff5500"/><stop offset="0.125" stop-color="#ff5500"/><stop offset="0.150" stop-color="#ff5602"/><stop offset="0.175" stop-color="#ff6314"/><stop offset="0.200" stop-color="#ff6f27"/><stop offset="0.225" stop-color="#ff7b39"/><stop offset="0.250" stop-color="#ff874b"/><stop offset="0.275" stop-color="#ff935d"/><stop offset="0.300" stop-color="#ff9f70"/><stop offset="0.325" stop-color="#ffac82"/><stop offset="0.350" stop-color="#ffb894"/><stop offset="0.375" stop-color="#ffc4a6"/><stop offset="0.400" stop-color="#ffd0b9"/><stop offset="0.425" stop-color="#ffdccb"/><stop offset="0.450" stop-color="#ffe9dd"/><stop offset="0.475" stop-color="#fff5f0"/><stop offset="0.500" stop-color="#fcfefd"/><stop offset="0.525" stop-color="#eaf8f1"/><stop offset="0.550" stop-color="#d8f2e5"/><stop offset="0.575" stop-color="#c5ecd9"/><stop offset="0.600" stop-color="#b3e6cd"/><stop offset="0.625" stop-color="#a1e0c1"/><stop offset="0.650" stop-color="#8fdab5"/><stop offset="0.675" stop-color="#7cd4a9"/><stop offset="0.700" stop-color="#6ace9d"/><stop offset="0.725" stop-color="#58c991"/><stop offset="0.750" stop-color="#45c385"/><stop offset="0.775" stop-color="#33bd79"/><stop offset="0.800" stop-color="#21b76e"/><stop offset="0.825" stop-color="#0fb162"/><stop offset="0.850" stop-color="#00ac58"/><stop offset="0.875" stop-color="#00ac58"/><stop offset="0.900" stop-color="#00ac58"/><stop offset="0.925" stop-color="#00ac58"/><stop offset="0.950" stop-color="#00ac58"/><stop offset="0.975" stop-color="#00ac58"/><stop offset="1.000" stop-color="#00ac58"/></linearGradient></defs><rect x="177.20" y="624.00" width="7.60" height="38.70" fill="url(#lg177)"/><text x="188.60" y="629.70" font-size="6.30" dominant-baseline="central">2</text><text x="188.60" y="636.45" font-size="6.30" dominant-baseline="central">1</text><text x="188.60" y="643.20" font-size="6.30" dominant-baseline="central">0</text><text x="188.60" y="649.95" font-size="6.30" dominant-baseline="central">-1</text><text x="188.60" y="656.70" font-size="6.30" dominant-baseline="central">-2</text>
</g>
<g clip-path="url(#cD)">
<path d="M559.80 513.10A135.40 135.40 0 0 1 585.64 515.59L584.35 522.20A128.66 128.66 0 0 0 559.80 519.84Z" fill="#ffae85"/>
<path d="M559.80 519.84A128.66 128.66 0 0 1 584.35 522.20L583.06 528.82A121.92 121.92 0 0 0 559.80 526.58Z" fill="#8fdab6"/>
<path d="M559.80 526.58A121.92 121.92 0 0 1 583.06 528.82L581.78 535.44A115.18 115.18 0 0 0 559.80 533.32Z" fill="#ffae85"/>
<path d="M559.80 533.32A115.18 115.18 0 0 1 581.78 535.44L580.49 542.05A108.44 108.44 0 0 0 559.80 540.06Z" fill="#9ddfbf"/>
<path d="M559.80 540.06A108.44 108.44 0 0 1 580.49 542.05L579.21 548.67A101.70 101.70 0 0 0 559.80 546.80Z" fill="#ffae85"/>
<path d="M559.80 546.80A101.70 101.70 0 0 1 579.21 548.67L577.92 555.28A94.96 94.96 0 0 0 559.80 553.54Z" fill="#9ddfbf"/>
<path d="M559.80 553.54A94.96 94.96 0 0 1 577.92 555.28L576.63 561.90A88.22 88.22 0 0 0 559.80 560.28Z" fill="#ffcbb1"/>
<path d="M559.80 560.28A88.22 88.22 0 0 1 576.63 561.90L575.35 568.52A81.48 81.48 0 0 0 559.80 567.02Z" fill="#6bcf9e"/>
<path d="M559.80 567.02A81.48 81.48 0 0 1 575.35 568.52L574.06 575.13A74.74 74.74 0 0 0 559.80 573.76Z" fill="#ffae85"/>
<path d="M559.80 573.76A74.74 74.74 0 0 1 574.06 575.13L572.78 581.75A68.00 68.00 0 0 0 559.80 580.50Z" fill="#57c891"/>
<path d="M585.64 515.59A135.40 135.40 0 0 1 610.52 522.96L608.00 529.21A128.66 128.66 0 0 0 584.35 522.20Z" fill="#ffae85"/>
<path d="M584.35 522.20A128.66 128.66 0 0 1 608.00 529.21L605.47 535.46A121.92 121.92 0 0 0 583.06 528.82Z" fill="#c9eedc"/>
<path d="M583.06 528.82A121.92 121.92 0 0 1 605.47 535.46L602.95 541.71A115.18 115.18 0 0 0 581.78 535.44Z" fill="#ffae85"/>
<path d="M581.78 535.44A115.18 115.18 0 0 1 602.95 541.71L600.42 547.96A108.44 108.44 0 0 0 580.49 542.05Z" fill="#75d2a5"/>
<path d="M580.49 542.05A108.44 108.44 0 0 1 600.42 547.96L597.90 554.21A101.70 101.70 0 0 0 579.21 548.67Z" fill="#ffae85"/>
<path d="M579.21 548.67A101.70 101.70 0 0 1 597.90 554.21L595.37 560.45A94.96 94.96 0 0 0 577.92 555.28Z" fill="#6bcf9e"/>
<path d="M577.92 555.28A94.96 94.96 0 0 1 595.37 560.45L592.85 566.70A88.22 88.22 0 0 0 576.63 561.90Z" fill="#ffae85"/>
<path d="M576.63 561.90A88.22 88.22 0 0 1 592.85 566.70L590.32 572.95A81.48 81.48 0 0 0 575.35 568.52Z" fill="#9ddfbf"/>
<path d="M575.35 568.52A81.48 81.48 0 0 1 590.32 572.95L587.80 579.20A74.74 74.74 0 0 0 574.06 575.13Z" fill="#ffae85"/>
<path d="M574.06 575.13A74.74 74.74 0 0 1 587.80 579.20L585.27 585.45A68.00 68.00 0 0 0 572.78 581.75Z" fill="#6bcf9e"/>
<path d="M610.52 522.96A135.40 135.40 0 0 1 633.54 534.94L629.87 540.60A128.66 128.66 0 0 0 608.00 529.21Z" fill="#ffae85"/>
<path d="M608.00 529.21A128.66 128.66 0 0 1 629.87 540.60L626.20 546.25A121.92 121.92 0 0 0 605.47 535.46Z" fill="#7ad4a8"/>
<path d="M605.47 535.46A121.92 121.92 0 0 1 626.20 546.25L622.53 551.90A115.18 115.18 0 0 0 602.95 541.71Z" fill="#ffae85"/>
<path d="M602.95 541.71A115.18 115.18 0 0 1 622.53 551.90L618.86 557.55A108.44 108.44 0 0 0 600.42 547.96Z" fill="#70d1a1"/>
<path d="M600.42 547.96A108.44 108.44 0 0 1 618.86 557.55L615.19 563.21A101.70 101.70 0 0 0 597.90 554.21Z" fill="#ffae85"/>
<path d="M597.90 554.21A101.70 101.70 0 0 1 615.19 563.21L611.52 568.86A94.96 94.96 0 0 0 595.37 560.45Z" fill="#9ddfbf"/>
<path d="M595.37 560.45A94.96 94.96 0 0 1 611.52 568.86L607.85 574.51A88.22 88.22 0 0 0 592.85 566.70Z" fill="#ffb18a"/>
<path d="M592.85 566.70A88.22 88.22 0 0 1 607.85 574.51L604.18 580.17A81.48 81.48 0 0 0 590.32 572.95Z" fill="#94dcb9"/>
<path d="M590.32 572.95A81.48 81.48 0 0 1 604.18 580.17L600.51 585.82A74.74 74.74 0 0 0 587.80 579.20Z" fill="#ffae85"/>
<path d="M587.80 579.20A74.74 74.74 0 0 1 600.51 585.82L596.84 591.47A68.00 68.00 0 0 0 585.27 585.45Z" fill="#75d2a5"/>
<path d="M633.54 534.94A135.40 135.40 0 0 1 653.86 551.10L649.17 555.95A128.66 128.66 0 0 0 629.87 540.60Z" fill="#ffae85"/>
<path d="M629.87 540.60A128.66 128.66 0 0 1 649.17 555.95L644.49 560.80A121.92 121.92 0 0 0 626.20 546.25Z" fill="#8ad9b2"/>
<path d="M626.20 546.25A121.92 121.92 0 0 1 644.49 560.80L639.81 565.65A115.18 115.18 0 0 0 622.53 551.90Z" fill="#ffae85"/>
<path d="M622.53 551.90A115.18 115.18 0 0 1 639.81 565.65L635.13 570.49A108.44 108.44 0 0 0 618.86 557.55Z" fill="#75d2a5"/>
<path d="M618.86 557.55A108.44 108.44 0 0 1 635.13 570.49L630.45 575.34A101.70 101.70 0 0 0 615.19 563.21Z" fill="#ffae85"/>
<path d="M615.19 563.21A101.70 101.70 0 0 1 630.45 575.34L625.76 580.19A94.96 94.96 0 0 0 611.52 568.86Z" fill="#94dcb9"/>
<path d="M611.52 568.86A94.96 94.96 0 0 1 625.76 580.19L621.08 585.04A88.22 88.22 0 0 0 607.85 574.51Z" fill="#ffb18a"/>
<path d="M607.85 574.51A88.22 88.22 0 0 1 621.08 585.04L616.40 589.89A81.48 81.48 0 0 0 604.18 580.17Z" fill="#9ddfbf"/>
<path d="M604.18 580.17A81.48 81.48 0 0 1 616.40 589.89L611.72 594.74A74.74 74.74 0 0 0 600.51 585.82Z" fill="#ffae85"/>
<path d="M600.51 585.82A74.74 74.74 0 0 1 611.72 594.74L607.04 599.58A68.00 68.00 0 0 0 596.84 591.47Z" fill="#80d6ac"/>
<path d="M653.86 551.10A135.40 135.40 0 0 1 670.71 570.84L665.19 574.70A128.66 128.66 0 0 0 649.17 555.95Z" fill="#ffae85"/>
<path d="M649.17 555.95A128.66 128.66 0 0 1 665.19 574.70L659.67 578.57A121.92 121.92 0 0 0 644.49 560.80Z" fill="#94dcb9"/>
<path d="M644.49 560.80A121.92 121.92 0 0 1 659.67 578.57L654.15 582.44A115.18 115.18 0 0 0 639.81 565.65Z" fill="#ffae85"/>
<path d="M639.81 565.65A115.18 115.18 0 0 1 654.15 582.44L648.63 586.30A108.44 108.44 0 0 0 635.13 570.49Z" fill="#7ad4a8"/>
<path d="M635.13 570.49A108.44 108.44 0 0 1 648.63 586.30L643.11 590.17A101.70 101.70 0 0 0 630.45 575.34Z" fill="#ffae85"/>
<path d="M630.45 575.34A101.70 101.70 0 0 1 643.11 590.17L637.59 594.03A94.96 94.96 0 0 0 625.76 580.19Z" fill="#80d6ac"/>
<path d="M625.76 580.19A94.96 94.96 0 0 1 637.59 594.03L632.07 597.90A88.22 88.22 0 0 0 621.08 585.04Z" fill="#ffb18a"/>
<path d="M621.08 585.04A88.22 88.22 0 0 1 632.07 597.90L626.54 601.76A81.48 81.48 0 0 0 616.40 589.89Z" fill="#9ddfbf"/>
<path d="M616.40 589.89A81.48 81.48 0 0 1 626.54 601.76L621.02 605.63A74.74 74.74 0 0 0 611.72 594.74Z" fill="#ffae85"/>
<path d="M611.72 594.74A74.74 74.74 0 0 1 621.02 605.63L615.50 609.50A68.00 68.00 0 0 0 607.04 599.58Z" fill="#6bcf9e"/>
<path d="M670.71 570.84A135.40 135.40 0 0 1 683.49 593.43L677.34 596.17A128.66 128.66 0 0 0 665.19 574.70Z" fill="#ffae85"/>
<path d="M665.19 574.70A128.66 128.66 0 0 1 677.34 596.17L671.18 598.91A121.92 121.92 0 0 0 659.67 578.57Z" fill="#9ddfbf"/>
<path d="M659.67 578.57A121.92 121.92 0 0 1 671.18 598.91L665.02 601.65A115.18 115.18 0 0 0 654.15 582.44Z" fill="#ffae85"/>
<path d="M654.15 582.44A115.18 115.18 0 0 1 665.02 601.65L658.86 604.39A108.44 108.44 0 0 0 648.63 586.30Z" fill="#80d6ac"/>
<path d="M648.63 586.30A108.44 108.44 0 0 1 658.86 604.39L652.71 607.13A101.70 101.70 0 0 0 643.11 590.17Z" fill="#ffae85"/>
<path d="M643.11 590.17A101.70 101.70 0 0 1 652.71 607.13L646.55 609.88A94.96 94.96 0 0 0 637.59 594.03Z" fill="#80d6ac"/>
<path d="M637.59 594.03A94.96 94.96 0 0 1 646.55 609.88L640.39 612.62A88.22 88.22 0 0 0 632.07 597.90Z" fill="#ffae85"/>
<path d="M632.07 597.90A88.22 88.22 0 0 1 640.39 612.62L634.24 615.36A81.48 81.48 0 0 0 626.54 601.76Z" fill="#a6e2c5"/>
<path d="M626.54 601.76A81.48 81.48 0 0 1 634.24 615.36L628.08 618.10A74.74 74.74 0 0 0 621.02 605.63Z" fill="#ffae85"/>
<path d="M621.02 605.63A74.74 74.74 0 0 1 628.08 618.10L621.92 620.84A68.00 68.00 0 0 0 615.50 609.50Z" fill="#75d2a5"/>
<path d="M683.49 593.43A135.40 135.40 0 0 1 691.73 618.04L685.16 619.56A128.66 128.66 0 0 0 677.34 596.17Z" fill="#ffae85"/>
<path d="M677.34 596.17A128.66 128.66 0 0 1 685.16 619.56L678.60 621.07A121.92 121.92 0 0 0 671.18 598.91Z" fill="#9ddfbf"/>
<path d="M671.18 598.91A121.92 121.92 0 0 1 678.60 621.07L672.03 622.59A115.18 115.18 0 0 0 665.02 601.65Z" fill="#ffae85"/>
<path d="M665.02 601.65A115.18 115.18 0 0 1 672.03 622.59L665.46 624.11A108.44 108.44 0 0 0 658.86 604.39Z" fill="#80d6ac"/>
<path d="M658.86 604.39A108.44 108.44 0 0 1 665.46 624.11L658.89 625.62A101.70 101.70 0 0 0 652.71 607.13Z" fill="#ffae85"/>
<path d="M652.71 607.13A101.70 101.70 0 0 1 658.89 625.62L652.33 627.14A94.96 94.96 0 0 0 646.55 609.88Z" fill="#80d6ac"/>
<path d="M646.55 609.88A94.96 94.96 0 0 1 652.33 627.14L645.76 628.65A88.22 88.22 0 0 0 640.39 612.62Z" fill="#ffae85"/>
<path d="M640.39 612.62A88.22 88.22 0 0 1 645.76 628.65L639.19 630.17A81.48 81.48 0 0 0 634.24 615.36Z" fill="#9ddfbf"/>
<path d="M634.24 615.36A81.48 81.48 0 0 1 639.19 630.17L632.62 631.69A74.74 74.74 0 0 0 628.08 618.10Z" fill="#ffae85"/>
<path d="M628.08 618.10A74.74 74.74 0 0 1 632.62 631.69L626.06 633.20A68.00 68.00 0 0 0 621.92 620.84Z" fill="#7ad4a8"/>
<path d="M691.73 618.04A135.40 135.40 0 0 1 695.12 643.77L688.38 644.01A128.66 128.66 0 0 0 685.16 619.56Z" fill="#ffae85"/>
<path d="M685.16 619.56A128.66 128.66 0 0 1 688.38 644.01L681.65 644.25A121.92 121.92 0 0 0 678.60 621.07Z" fill="#9ddfbf"/>
<path d="M678.60 621.07A121.92 121.92 0 0 1 681.65 644.25L674.91 644.48A115.18 115.18 0 0 0 672.03 622.59Z" fill="#ffae85"/>
<path d="M672.03 622.59A115.18 115.18 0 0 1 674.91 644.48L668.17 644.72A108.44 108.44 0 0 0 665.46 624.11Z" fill="#80d6ac"/>
<path d="M665.46 624.11A108.44 108.44 0 0 1 668.17 644.72L661.44 644.95A101.70 101.70 0 0 0 658.89 625.62Z" fill="#ffae85"/>
<path d="M658.89 625.62A101.70 101.70 0 0 1 661.44 644.95L654.70 645.19A94.96 94.96 0 0 0 652.33 627.14Z" fill="#80d6ac"/>
<path d="M652.33 627.14A94.96 94.96 0 0 1 654.70 645.19L647.97 645.42A88.22 88.22 0 0 0 645.76 628.65Z" fill="#ffae85"/>
<path d="M645.76 628.65A88.22 88.22 0 0 1 647.97 645.42L641.23 645.66A81.48 81.48 0 0 0 639.19 630.17Z" fill="#9ddfbf"/>
<path d="M639.19 630.17A81.48 81.48 0 0 1 641.23 645.66L634.49 645.89A74.74 74.74 0 0 0 632.62 631.69Z" fill="#ffae85"/>
<path d="M632.62 631.69A74.74 74.74 0 0 1 634.49 645.89L627.76 646.13A68.00 68.00 0 0 0 626.06 633.20Z" fill="#75d2a5"/>
<path d="M695.12 643.77A135.40 135.40 0 0 1 693.53 669.68L686.88 668.63A128.66 128.66 0 0 0 688.38 644.01Z" fill="#ffba97"/>
<path d="M688.38 644.01A128.66 128.66 0 0 1 686.88 668.63L680.22 667.57A121.92 121.92 0 0 0 681.65 644.25Z" fill="#fff2eb"/>
<path d="M681.65 644.25A121.92 121.92 0 0 1 680.22 667.57L673.56 666.52A115.18 115.18 0 0 0 674.91 644.48Z" fill="#ffba97"/>
<path d="M674.91 644.48A115.18 115.18 0 0 1 673.56 666.52L666.90 665.46A108.44 108.44 0 0 0 668.17 644.72Z" fill="#80d6ac"/>
<path d="M668.17 644.72A108.44 108.44 0 0 1 666.90 665.46L660.25 664.41A101.70 101.70 0 0 0 661.44 644.95Z" fill="#ffba97"/>
<path d="M661.44 644.95A101.70 101.70 0 0 1 660.25 664.41L653.59 663.36A94.96 94.96 0 0 0 654.70 645.19Z" fill="#85d7af"/>
<path d="M654.70 645.19A94.96 94.96 0 0 1 653.59 663.36L646.93 662.30A88.22 88.22 0 0 0 647.97 645.42Z" fill="#ffcbb1"/>
<path d="M647.97 645.42A88.22 88.22 0 0 1 646.93 662.30L640.28 661.25A81.48 81.48 0 0 0 641.23 645.66Z" fill="#ffd4be"/>
<path d="M641.23 645.66A81.48 81.48 0 0 1 640.28 661.25L633.62 660.19A74.74 74.74 0 0 0 634.49 645.89Z" fill="#ffc2a4"/>
<path d="M634.49 645.89A74.74 74.74 0 0 1 633.62 660.19L626.96 659.14A68.00 68.00 0 0 0 627.76 646.13Z" fill="#0fb162"/>
<path d="M693.53 669.68A135.40 135.40 0 0 1 687.03 694.81L680.70 692.50A128.66 128.66 0 0 0 686.88 668.63Z" fill="#ffb590"/>
<path d="M686.88 668.63A128.66 128.66 0 0 1 680.70 692.50L674.37 690.20A121.92 121.92 0 0 0 680.22 667.57Z" fill="#85d7af"/>
<path d="M680.22 667.57A121.92 121.92 0 0 1 674.37 690.20L668.03 687.89A115.18 115.18 0 0 0 673.56 666.52Z" fill="#ffb590"/>
<path d="M673.56 666.52A115.18 115.18 0 0 1 668.03 687.89L661.70 685.59A108.44 108.44 0 0 0 666.90 665.46Z" fill="#7ad4a8"/>
<path d="M666.90 665.46A108.44 108.44 0 0 1 661.70 685.59L655.37 683.28A101.70 101.70 0 0 0 660.25 664.41Z" fill="#ffb590"/>
<path d="M660.25 664.41A101.70 101.70 0 0 1 655.37 683.28L649.03 680.98A94.96 94.96 0 0 0 653.59 663.36Z" fill="#7ad4a8"/>
<path d="M653.59 663.36A94.96 94.96 0 0 1 649.03 680.98L642.70 678.67A88.22 88.22 0 0 0 646.93 662.30Z" fill="#ffba97"/>
<path d="M646.93 662.30A88.22 88.22 0 0 1 642.70 678.67L636.37 676.37A81.48 81.48 0 0 0 640.28 661.25Z" fill="#fff2eb"/>
<path d="M640.28 661.25A81.48 81.48 0 0 1 636.37 676.37L630.03 674.06A74.74 74.74 0 0 0 633.62 660.19Z" fill="#ffb590"/>
<path d="M633.62 660.19A74.74 74.74 0 0 1 630.03 674.06L623.70 671.76A68.00 68.00 0 0 0 626.96 659.14Z" fill="#75d2a5"/>
<path d="M687.03 694.81A135.40 135.40 0 0 1 675.86 718.24L670.08 714.76A128.66 128.66 0 0 0 680.70 692.50Z" fill="#ffb590"/>
<path d="M680.70 692.50A128.66 128.66 0 0 1 670.08 714.76L664.31 711.29A121.92 121.92 0 0 0 674.37 690.20Z" fill="#8fdab6"/>
<path d="M674.37 690.20A121.92 121.92 0 0 1 664.31 711.29L658.53 707.82A115.18 115.18 0 0 0 668.03 687.89Z" fill="#ffb18a"/>
<path d="M668.03 687.89A115.18 115.18 0 0 1 658.53 707.82L652.75 704.35A108.44 108.44 0 0 0 661.70 685.59Z" fill="#7ad4a8"/>
<path d="M661.70 685.59A108.44 108.44 0 0 1 652.75 704.35L646.97 700.88A101.70 101.70 0 0 0 655.37 683.28Z" fill="#ffb18a"/>
<path d="M655.37 683.28A101.70 101.70 0 0 1 646.97 700.88L641.20 697.41A94.96 94.96 0 0 0 649.03 680.98Z" fill="#7ad4a8"/>
<path d="M649.03 680.98A94.96 94.96 0 0 1 641.20 697.41L635.42 693.94A88.22 88.22 0 0 0 642.70 678.67Z" fill="#ffb590"/>
<path d="M642.70 678.67A88.22 88.22 0 0 1 635.42 693.94L629.64 690.47A81.48 81.48 0 0 0 636.37 676.37Z" fill="#ffeee5"/>
<path d="M636.37 676.37A81.48 81.48 0 0 1 629.64 690.47L623.86 686.99A74.74 74.74 0 0 0 630.03 674.06Z" fill="#ffb590"/>
<path d="M630.03 674.06A74.74 74.74 0 0 1 623.86 686.99L618.09 683.52A68.00 68.00 0 0 0 623.70 671.76Z" fill="#80d6ac"/>
<path d="M675.86 718.24A135.40 135.40 0 0 1 660.42 739.10L655.41 734.59A128.66 128.66 0 0 0 670.08 714.76Z" fill="#ffb18a"/>
<path d="M670.08 714.76A128.66 128.66 0 0 1 655.41 734.59L650.40 730.08A121.92 121.92 0 0 0 664.31 711.29Z" fill="#94dcb9"/>
<path d="M664.31 711.29A121.92 121.92 0 0 1 650.40 730.08L645.40 725.57A115.18 115.18 0 0 0 658.53 707.82Z" fill="#ffb18a"/>
<path d="M658.53 707.82A115.18 115.18 0 0 1 645.40 725.57L640.39 721.06A108.44 108.44 0 0 0 652.75 704.35Z" fill="#7ad4a8"/>
<path d="M652.75 704.35A108.44 108.44 0 0 1 640.39 721.06L635.38 716.55A101.70 101.70 0 0 0 646.97 700.88Z" fill="#ffb18a"/>
<path d="M646.97 700.88A101.70 101.70 0 0 1 635.38 716.55L630.37 712.04A94.96 94.96 0 0 0 641.20 697.41Z" fill="#7ad4a8"/>
<path d="M641.20 697.41A94.96 94.96 0 0 1 630.37 712.04L625.36 707.53A88.22 88.22 0 0 0 635.42 693.94Z" fill="#ffd4be"/>
<path d="M635.42 693.94A88.22 88.22 0 0 1 625.36 707.53L620.35 703.02A81.48 81.48 0 0 0 629.64 690.47Z" fill="#ffe1d1"/>
<path d="M629.64 690.47A81.48 81.48 0 0 1 620.35 703.02L615.34 698.51A74.74 74.74 0 0 0 623.86 686.99Z" fill="#ffba97"/>
<path d="M623.86 686.99A74.74 74.74 0 0 1 615.34 698.51L610.33 694.00A68.00 68.00 0 0 0 618.09 683.52Z" fill="#80d6ac"/>
<path d="M660.42 739.10A135.40 135.40 0 0 1 641.29 756.64L637.23 751.25A128.66 128.66 0 0 0 655.41 734.59Z" fill="#ffb18a"/>
<path d="M655.41 734.59A128.66 128.66 0 0 1 637.23 751.25L633.17 745.87A121.92 121.92 0 0 0 650.40 730.08Z" fill="#94dcb9"/>
<path d="M650.40 730.08A121.92 121.92 0 0 1 633.17 745.87L629.12 740.49A115.18 115.18 0 0 0 645.40 725.57Z" fill="#ffb18a"/>
<path d="M645.40 725.57A115.18 115.18 0 0 1 629.12 740.49L625.06 735.10A108.44 108.44 0 0 0 640.39 721.06Z" fill="#75d2a5"/>
<path d="M640.39 721.06A108.44 108.44 0 0 1 625.06 735.10L621.00 729.72A101.70 101.70 0 0 0 635.38 716.55Z" fill="#ffb18a"/>
<path d="M635.38 716.55A101.70 101.70 0 0 1 621.00 729.72L616.95 724.34A94.96 94.96 0 0 0 630.37 712.04Z" fill="#7ad4a8"/>
<path d="M630.37 712.04A94.96 94.96 0 0 1 616.95 724.34L612.89 718.96A88.22 88.22 0 0 0 625.36 707.53Z" fill="#ffba97"/>
<path d="M625.36 707.53A88.22 88.22 0 0 1 612.89 718.96L608.84 713.57A81.48 81.48 0 0 0 620.35 703.02Z" fill="#ffe9de"/>
<path d="M620.35 703.02A81.48 81.48 0 0 1 608.84 713.57L604.78 708.19A74.74 74.74 0 0 0 615.34 698.51Z" fill="#ffb18a"/>
<path d="M615.34 698.51A74.74 74.74 0 0 1 604.78 708.19L600.72 702.81A68.00 68.00 0 0 0 610.33 694.00Z" fill="#7ad4a8"/>
<path d="M641.29 756.64A135.40 135.40 0 0 1 619.16 770.20L616.20 764.14A128.66 128.66 0 0 0 637.23 751.25Z" fill="#ffb18a"/>
<path d="M637.23 751.25A128.66 128.66 0 0 1 616.20 764.14L613.25 758.08A121.92 121.92 0 0 0 633.17 745.87Z" fill="#94dcb9"/>
<path d="M633.17 745.87A121.92 121.92 0 0 1 613.25 758.08L610.29 752.02A115.18 115.18 0 0 0 629.12 740.49Z" fill="#ffb18a"/>
<path d="M629.12 740.49A115.18 115.18 0 0 1 610.29 752.02L607.34 745.97A108.44 108.44 0 0 0 625.06 735.10Z" fill="#7ad4a8"/>
<path d="M625.06 735.10A108.44 108.44 0 0 1 607.34 745.97L604.38 739.91A101.70 101.70 0 0 0 621.00 729.72Z" fill="#ffb18a"/>
<path d="M621.00 729.72A101.70 101.70 0 0 1 604.38 739.91L601.43 733.85A94.96 94.96 0 0 0 616.95 724.34Z" fill="#7ad4a8"/>
<path d="M616.95 724.34A94.96 94.96 0 0 1 601.43 733.85L598.47 727.79A88.22 88.22 0 0 0 612.89 718.96Z" fill="#ffba97"/>
<path d="M612.89 718.96A88.22 88.22 0 0 1 598.47 727.79L595.52 721.73A81.48 81.48 0 0 0 608.84 713.57Z" fill="#ffe9de"/>
<path d="M608.84 713.57A81.48 81.48 0 0 1 595.52 721.73L592.56 715.68A74.74 74.74 0 0 0 604.78 708.19Z" fill="#ffb18a"/>
<path d="M604.78 708.19A74.74 74.74 0 0 1 592.56 715.68L589.61 709.62A68.00 68.00 0 0 0 600.72 702.81Z" fill="#75d2a5"/>
<path d="M619.16 770.20A135.40 135.40 0 0 1 594.84 779.29L593.10 772.78A128.66 128.66 0 0 0 616.20 764.14Z" fill="#ffb18a"/>
<path d="M616.20 764.14A128.66 128.66 0 0 1 593.10 772.78L591.36 766.27A121.92 121.92 0 0 0 613.25 758.08Z" fill="#85d7af"/>
<path d="M613.25 758.08A121.92 121.92 0 0 1 591.36 766.27L589.61 759.76A115.18 115.18 0 0 0 610.29 752.02Z" fill="#ffb18a"/>
<path d="M610.29 752.02A115.18 115.18 0 0 1 589.61 759.76L587.87 753.24A108.44 108.44 0 0 0 607.34 745.97Z" fill="#75d2a5"/>
<path d="M607.34 745.97A108.44 108.44 0 0 1 587.87 753.24L586.12 746.73A101.70 101.70 0 0 0 604.38 739.91Z" fill="#ffb18a"/>
<path d="M604.38 739.91A101.70 101.70 0 0 1 586.12 746.73L584.38 740.22A94.96 94.96 0 0 0 601.43 733.85Z" fill="#75d2a5"/>
<path d="M601.43 733.85A94.96 94.96 0 0 1 584.38 740.22L582.63 733.71A88.22 88.22 0 0 0 598.47 727.79Z" fill="#ffb590"/>
<path d="M598.47 727.79A88.22 88.22 0 0 1 582.63 733.71L580.89 727.20A81.48 81.48 0 0 0 595.52 721.73Z" fill="#ffdccb"/>
<path d="M595.52 721.73A81.48 81.48 0 0 1 580.89 727.20L579.14 720.69A74.74 74.74 0 0 0 592.56 715.68Z" fill="#ffb18a"/>
<path d="M592.56 715.68A74.74 74.74 0 0 1 579.14 720.69L577.40 714.18A68.00 68.00 0 0 0 589.61 709.62Z" fill="#6bcf9e"/>
<path d="M594.84 779.29A135.40 135.40 0 0 1 569.25 783.57L568.77 776.85A128.66 128.66 0 0 0 593.10 772.78Z" fill="#ffb18a"/>
<path d="M593.10 772.78A128.66 128.66 0 0 1 568.77 776.85L568.30 770.12A121.92 121.92 0 0 0 591.36 766.27Z" fill="#80d6ac"/>
<path d="M591.36 766.27A121.92 121.92 0 0 1 568.30 770.12L567.83 763.40A115.18 115.18 0 0 0 589.61 759.76Z" fill="#ffb18a"/>
<path d="M589.61 759.76A115.18 115.18 0 0 1 567.83 763.40L567.36 756.68A108.44 108.44 0 0 0 587.87 753.24Z" fill="#7ad4a8"/>
<path d="M587.87 753.24A108.44 108.44 0 0 1 567.36 756.68L566.89 749.95A101.70 101.70 0 0 0 586.12 746.73Z" fill="#ffb18a"/>
<path d="M586.12 746.73A101.70 101.70 0 0 1 566.89 749.95L566.42 743.23A94.96 94.96 0 0 0 584.38 740.22Z" fill="#75d2a5"/>
<path d="M584.38 740.22A94.96 94.96 0 0 1 566.42 743.23L565.95 736.51A88.22 88.22 0 0 0 582.63 733.71Z" fill="#ffb18a"/>
<path d="M582.63 733.71A88.22 88.22 0 0 1 565.95 736.51L565.48 729.78A81.48 81.48 0 0 0 580.89 727.20Z" fill="#ffdccb"/>
<path d="M580.89 727.20A81.48 81.48 0 0 1 565.48 729.78L565.01 723.06A74.74 74.74 0 0 0 579.14 720.69Z" fill="#ffb18a"/>
<path d="M579.14 720.69A74.74 74.74 0 0 1 565.01 723.06L564.54 716.33A68.00 68.00 0 0 0 577.40 714.18Z" fill="#70d1a1"/>
<path d="M569.25 783.57A135.40 135.40 0 0 1 543.30 782.89L544.12 776.20A128.66 128.66 0 0 0 568.77 776.85Z" fill="#ffb18a"/>
<path d="M568.77 776.85A128.66 128.66 0 0 1 544.12 776.20L544.94 769.51A121.92 121.92 0 0 0 568.30 770.12Z" fill="#afe5ca"/>
<path d="M568.30 770.12A121.92 121.92 0 0 1 544.94 769.51L545.76 762.82A115.18 115.18 0 0 0 567.83 763.40Z" fill="#ffb18a"/>
<path d="M567.83 763.40A115.18 115.18 0 0 1 545.76 762.82L546.58 756.13A108.44 108.44 0 0 0 567.36 756.68Z" fill="#75d2a5"/>
<path d="M567.36 756.68A108.44 108.44 0 0 1 546.58 756.13L547.41 749.44A101.70 101.70 0 0 0 566.89 749.95Z" fill="#ffb18a"/>
<path d="M566.89 749.95A101.70 101.70 0 0 1 547.41 749.44L548.23 742.75A94.96 94.96 0 0 0 566.42 743.23Z" fill="#6bcf9e"/>
<path d="M566.42 743.23A94.96 94.96 0 0 1 548.23 742.75L549.05 736.06A88.22 88.22 0 0 0 565.95 736.51Z" fill="#ffb18a"/>
<path d="M565.95 736.51A88.22 88.22 0 0 1 549.05 736.06L549.87 729.37A81.48 81.48 0 0 0 565.48 729.78Z" fill="#ffe1d1"/>
<path d="M565.48 729.78A81.48 81.48 0 0 1 549.87 729.37L550.69 722.68A74.74 74.74 0 0 0 565.01 723.06Z" fill="#ffb18a"/>
<path d="M565.01 723.06A74.74 74.74 0 0 1 550.69 722.68L551.51 715.99A68.00 68.00 0 0 0 564.54 716.33Z" fill="#70d1a1"/>
<path d="M543.30 782.89A135.40 135.40 0 0 1 517.96 777.27L520.04 770.86A128.66 128.66 0 0 0 544.12 776.20Z" fill="#ffb18a"/>
<path d="M544.12 776.20A128.66 128.66 0 0 1 520.04 770.86L522.12 764.45A121.92 121.92 0 0 0 544.94 769.51Z" fill="#9ddfbf"/>
<path d="M544.94 769.51A121.92 121.92 0 0 1 522.12 764.45L524.21 758.04A115.18 115.18 0 0 0 545.76 762.82Z" fill="#ffb18a"/>
<path d="M545.76 762.82A115.18 115.18 0 0 1 524.21 758.04L526.29 751.63A108.44 108.44 0 0 0 546.58 756.13Z" fill="#75d2a5"/>
<path d="M546.58 756.13A108.44 108.44 0 0 1 526.29 751.63L528.37 745.22A101.70 101.70 0 0 0 547.41 749.44Z" fill="#ffb18a"/>
<path d="M547.41 749.44A101.70 101.70 0 0 1 528.37 745.22L530.46 738.81A94.96 94.96 0 0 0 548.23 742.75Z" fill="#70d1a1"/>
<path d="M548.23 742.75A94.96 94.96 0 0 1 530.46 738.81L532.54 732.40A88.22 88.22 0 0 0 549.05 736.06Z" fill="#ffb18a"/>
<path d="M549.05 736.06A88.22 88.22 0 0 1 532.54 732.40L534.62 725.99A81.48 81.48 0 0 0 549.87 729.37Z" fill="#ffdccb"/>
<path d="M549.87 729.37A81.48 81.48 0 0 1 534.62 725.99L536.70 719.58A74.74 74.74 0 0 0 550.69 722.68Z" fill="#ffb18a"/>
<path d="M550.69 722.68A74.74 74.74 0 0 1 536.70 719.58L538.79 713.17A68.00 68.00 0 0 0 551.51 715.99Z" fill="#70d1a1"/>
<path d="M517.96 777.27A135.40 135.40 0 0 1 494.16 766.92L497.42 761.03A128.66 128.66 0 0 0 520.04 770.86Z" fill="#ffb18a"/>
<path d="M520.04 770.86A128.66 128.66 0 0 1 497.42 761.03L500.69 755.13A121.92 121.92 0 0 0 522.12 764.45Z" fill="#a6e2c5"/>
<path d="M522.12 764.45A121.92 121.92 0 0 1 500.69 755.13L503.96 749.24A115.18 115.18 0 0 0 524.21 758.04Z" fill="#ffb18a"/>
<path d="M524.21 758.04A115.18 115.18 0 0 1 503.96 749.24L507.23 743.34A108.44 108.44 0 0 0 526.29 751.63Z" fill="#6bcf9e"/>
<path d="M526.29 751.63A108.44 108.44 0 0 1 507.23 743.34L510.49 737.45A101.70 101.70 0 0 0 528.37 745.22Z" fill="#ffb18a"/>
<path d="M528.37 745.22A101.70 101.70 0 0 1 510.49 737.45L513.76 731.55A94.96 94.96 0 0 0 530.46 738.81Z" fill="#75d2a5"/>
<path d="M530.46 738.81A94.96 94.96 0 0 1 513.76 731.55L517.03 725.66A88.22 88.22 0 0 0 532.54 732.40Z" fill="#ffb18a"/>
<path d="M532.54 732.40A88.22 88.22 0 0 1 517.03 725.66L520.30 719.76A81.48 81.48 0 0 0 534.62 725.99Z" fill="#ffe1d1"/>
<path d="M534.62 725.99A81.48 81.48 0 0 1 520.30 719.76L523.57 713.87A74.74 74.74 0 0 0 536.70 719.58Z" fill="#ffb18a"/>
<path d="M536.70 719.58A74.74 74.74 0 0 1 523.57 713.87L526.83 707.97A68.00 68.00 0 0 0 538.79 713.17Z" fill="#6bcf9e"/>
<path d="M494.16 766.92A135.40 135.40 0 0 1 472.77 752.22L477.10 747.06A128.66 128.66 0 0 0 497.42 761.03Z" fill="#ffb18a"/>
<path d="M497.42 761.03A128.66 128.66 0 0 1 477.10 747.06L481.43 741.90A121.92 121.92 0 0 0 500.69 755.13Z" fill="#a6e2c5"/>
<path d="M500.69 755.13A121.92 121.92 0 0 1 481.43 741.90L485.76 736.73A115.18 115.18 0 0 0 503.96 749.24Z" fill="#ffb18a"/>
<path d="M503.96 749.24A115.18 115.18 0 0 1 485.76 736.73L490.10 731.57A108.44 108.44 0 0 0 507.23 743.34Z" fill="#7ad4a8"/>
<path d="M507.23 743.34A108.44 108.44 0 0 1 490.10 731.57L494.43 726.41A101.70 101.70 0 0 0 510.49 737.45Z" fill="#ffb18a"/>
<path d="M510.49 737.45A101.70 101.70 0 0 1 494.43 726.41L498.76 721.24A94.96 94.96 0 0 0 513.76 731.55Z" fill="#80d6ac"/>
<path d="M513.76 731.55A94.96 94.96 0 0 1 498.76 721.24L503.09 716.08A88.22 88.22 0 0 0 517.03 725.66Z" fill="#ffb590"/>
<path d="M517.03 725.66A88.22 88.22 0 0 1 503.09 716.08L507.43 710.92A81.48 81.48 0 0 0 520.30 719.76Z" fill="#fffbf8"/>
<path d="M520.30 719.76A81.48 81.48 0 0 1 507.43 710.92L511.76 705.75A74.74 74.74 0 0 0 523.57 713.87Z" fill="#ffb18a"/>
<path d="M523.57 713.87A74.74 74.74 0 0 1 511.76 705.75L516.09 700.59A68.00 68.00 0 0 0 526.83 707.97Z" fill="#5cca94"/>
<path d="M472.77 752.22A135.40 135.40 0 0 1 454.57 733.71L459.81 729.47A128.66 128.66 0 0 0 477.10 747.06Z" fill="#ffb18a"/>
<path d="M477.10 747.06A128.66 128.66 0 0 1 459.81 729.47L465.05 725.23A121.92 121.92 0 0 0 481.43 741.90Z" fill="#afe5ca"/>
<path d="M481.43 741.90A121.92 121.92 0 0 1 465.05 725.23L470.29 720.99A115.18 115.18 0 0 0 485.76 736.73Z" fill="#ffb18a"/>
<path d="M485.76 736.73A115.18 115.18 0 0 1 470.29 720.99L475.53 716.74A108.44 108.44 0 0 0 490.10 731.57Z" fill="#7ad4a8"/>
<path d="M490.10 731.57A108.44 108.44 0 0 1 475.53 716.74L480.76 712.50A101.70 101.70 0 0 0 494.43 726.41Z" fill="#ffb18a"/>
<path d="M494.43 726.41A101.70 101.70 0 0 1 480.76 712.50L486.00 708.26A94.96 94.96 0 0 0 498.76 721.24Z" fill="#80d6ac"/>
<path d="M498.76 721.24A94.96 94.96 0 0 1 486.00 708.26L491.24 704.02A88.22 88.22 0 0 0 503.09 716.08Z" fill="#ffaa80"/>
<path d="M503.09 716.08A88.22 88.22 0 0 1 491.24 704.02L496.48 699.78A81.48 81.48 0 0 0 507.43 710.92Z" fill="#edf9f3"/>
<path d="M507.43 710.92A81.48 81.48 0 0 1 496.48 699.78L501.72 695.54A74.74 74.74 0 0 0 511.76 705.75Z" fill="#ffb18a"/>
<path d="M511.76 705.75A74.74 74.74 0 0 1 501.72 695.54L506.95 691.29A68.00 68.00 0 0 0 516.09 700.59Z" fill="#5cca94"/>
<path d="M454.57 733.71A135.40 135.40 0 0 1 440.25 712.07L446.20 708.90A128.66 128.66 0 0 0 459.81 729.47Z" fill="#ffb18a"/>
<path d="M459.81 729.47A128.66 128.66 0 0 1 446.20 708.90L452.15 705.74A121.92 121.92 0 0 0 465.05 725.23Z" fill="#a6e2c5"/>
<path d="M465.05 725.23A121.92 121.92 0 0 1 452.15 705.74L458.10 702.57A115.18 115.18 0 0 0 470.29 720.99Z" fill="#ffb18a"/>
<path d="M470.29 720.99A115.18 115.18 0 0 1 458.10 702.57L464.05 699.41A108.44 108.44 0 0 0 475.53 716.74Z" fill="#80d6ac"/>
<path d="M475.53 716.74A108.44 108.44 0 0 1 464.05 699.41L470.00 696.25A101.70 101.70 0 0 0 480.76 712.50Z" fill="#ffb18a"/>
<path d="M480.76 712.50A101.70 101.70 0 0 1 470.00 696.25L475.96 693.08A94.96 94.96 0 0 0 486.00 708.26Z" fill="#8ad9b2"/>
<path d="M486.00 708.26A94.96 94.96 0 0 1 475.96 693.08L481.91 689.92A88.22 88.22 0 0 0 491.24 704.02Z" fill="#ffb18a"/>
<path d="M491.24 704.02A88.22 88.22 0 0 1 481.91 689.92L487.86 686.75A81.48 81.48 0 0 0 496.48 699.78Z" fill="#e4f6ed"/>
<path d="M496.48 699.78A81.48 81.48 0 0 1 487.86 686.75L493.81 683.59A74.74 74.74 0 0 0 501.72 695.54Z" fill="#ffb18a"/>
<path d="M501.72 695.54A74.74 74.74 0 0 1 493.81 683.59L499.76 680.42A68.00 68.00 0 0 0 506.95 691.29Z" fill="#5cca94"/>
<path d="M440.25 712.07A135.40 135.40 0 0 1 430.32 688.09L436.76 686.12A128.66 128.66 0 0 0 446.20 708.90Z" fill="#ffb18a"/>
<path d="M446.20 708.90A128.66 128.66 0 0 1 436.76 686.12L443.21 684.15A121.92 121.92 0 0 0 452.15 705.74Z" fill="#a6e2c5"/>
<path d="M452.15 705.74A121.92 121.92 0 0 1 443.21 684.15L449.65 682.18A115.18 115.18 0 0 0 458.10 702.57Z" fill="#ffb18a"/>
<path d="M458.10 702.57A115.18 115.18 0 0 1 449.65 682.18L456.10 680.20A108.44 108.44 0 0 0 464.05 699.41Z" fill="#7ad4a8"/>
<path d="M464.05 699.41A108.44 108.44 0 0 1 456.10 680.20L462.54 678.23A101.70 101.70 0 0 0 470.00 696.25Z" fill="#ffb18a"/>
<path d="M470.00 696.25A101.70 101.70 0 0 1 462.54 678.23L468.99 676.26A94.96 94.96 0 0 0 475.96 693.08Z" fill="#8ad9b2"/>
<path d="M475.96 693.08A94.96 94.96 0 0 1 468.99 676.26L475.43 674.29A88.22 88.22 0 0 0 481.91 689.92Z" fill="#ffb18a"/>
<path d="M481.91 689.92A88.22 88.22 0 0 1 475.43 674.29L481.88 672.32A81.48 81.48 0 0 0 487.86 686.75Z" fill="#e4f6ed"/>
<path d="M487.86 686.75A81.48 81.48 0 0 1 481.88 672.32L488.33 670.35A74.74 74.74 0 0 0 493.81 683.59Z" fill="#ffb18a"/>
<path d="M493.81 683.59A74.74 74.74 0 0 1 488.33 670.35L494.77 668.38A68.00 68.00 0 0 0 499.76 680.42Z" fill="#5cca94"/>
<path d="M430.32 688.09A135.40 135.40 0 0 1 425.14 662.65L431.84 661.95A128.66 128.66 0 0 0 436.76 686.12Z" fill="#ffb18a"/>
<path d="M436.76 686.12A128.66 128.66 0 0 1 431.84 661.95L438.55 661.24A121.92 121.92 0 0 0 443.21 684.15Z" fill="#a6e2c5"/>
<path d="M443.21 684.15A121.92 121.92 0 0 1 438.55 661.24L445.25 660.54A115.18 115.18 0 0 0 449.65 682.18Z" fill="#ffb18a"/>
<path d="M449.65 682.18A115.18 115.18 0 0 1 445.25 660.54L451.95 659.84A108.44 108.44 0 0 0 456.10 680.20Z" fill="#75d2a5"/>
<path d="M456.10 680.20A108.44 108.44 0 0 1 451.95 659.84L458.66 659.13A101.70 101.70 0 0 0 462.54 678.23Z" fill="#ffb18a"/>
<path d="M462.54 678.23A101.70 101.70 0 0 1 458.66 659.13L465.36 658.43A94.96 94.96 0 0 0 468.99 676.26Z" fill="#94dcb9"/>
<path d="M468.99 676.26A94.96 94.96 0 0 1 465.36 658.43L472.06 657.72A88.22 88.22 0 0 0 475.43 674.29Z" fill="#ffb18a"/>
<path d="M475.43 674.29A88.22 88.22 0 0 1 472.06 657.72L478.77 657.02A81.48 81.48 0 0 0 481.88 672.32Z" fill="#e4f6ed"/>
<path d="M481.88 672.32A81.48 81.48 0 0 1 478.77 657.02L485.47 656.31A74.74 74.74 0 0 0 488.33 670.35Z" fill="#ffb18a"/>
<path d="M488.33 670.35A74.74 74.74 0 0 1 485.47 656.31L492.17 655.61A68.00 68.00 0 0 0 494.77 668.38Z" fill="#75d2a5"/>
<path d="M425.14 662.65A135.40 135.40 0 0 1 424.92 636.70L431.63 637.29A128.66 128.66 0 0 0 431.84 661.95Z" fill="#ffb18a"/>
<path d="M431.84 661.95A128.66 128.66 0 0 1 431.63 637.29L438.34 637.87A121.92 121.92 0 0 0 438.55 661.24Z" fill="#a6e2c5"/>
<path d="M438.55 661.24A121.92 121.92 0 0 1 438.34 637.87L445.06 638.46A115.18 115.18 0 0 0 445.25 660.54Z" fill="#ffb18a"/>
<path d="M445.25 660.54A115.18 115.18 0 0 1 445.06 638.46L451.77 639.05A108.44 108.44 0 0 0 451.95 659.84Z" fill="#7ad4a8"/>
<path d="M451.95 659.84A108.44 108.44 0 0 1 451.77 639.05L458.49 639.64A101.70 101.70 0 0 0 458.66 659.13Z" fill="#ffb18a"/>
<path d="M458.66 659.13A101.70 101.70 0 0 1 458.49 639.64L465.20 640.22A94.96 94.96 0 0 0 465.36 658.43Z" fill="#94dcb9"/>
<path d="M465.36 658.43A94.96 94.96 0 0 1 465.20 640.22L471.92 640.81A88.22 88.22 0 0 0 472.06 657.72Z" fill="#ffb18a"/>
<path d="M472.06 657.72A88.22 88.22 0 0 1 471.92 640.81L478.63 641.40A81.48 81.48 0 0 0 478.77 657.02Z" fill="#dbf3e8"/>
<path d="M478.77 657.02A81.48 81.48 0 0 1 478.63 641.40L485.34 641.99A74.74 74.74 0 0 0 485.47 656.31Z" fill="#ffb18a"/>
<path d="M485.47 656.31A74.74 74.74 0 0 1 485.34 641.99L492.06 642.57A68.00 68.00 0 0 0 492.17 655.61Z" fill="#75d2a5"/>
<path d="M424.92 636.70A135.40 135.40 0 0 1 429.65 611.18L436.12 613.04A128.66 128.66 0 0 0 431.63 637.29Z" fill="#ffb18a"/>
<path d="M431.63 637.29A128.66 128.66 0 0 1 436.12 613.04L442.60 614.89A121.92 121.92 0 0 0 438.34 637.87Z" fill="#9ddfbf"/>
<path d="M438.34 637.87A121.92 121.92 0 0 1 442.60 614.89L449.08 616.75A115.18 115.18 0 0 0 445.06 638.46Z" fill="#ffb18a"/>
<path d="M445.06 638.46A115.18 115.18 0 0 1 449.08 616.75L455.56 618.61A108.44 108.44 0 0 0 451.77 639.05Z" fill="#7ad4a8"/>
<path d="M451.77 639.05A108.44 108.44 0 0 1 455.56 618.61L462.04 620.47A101.70 101.70 0 0 0 458.49 639.64Z" fill="#ffb18a"/>
<path d="M458.49 639.64A101.70 101.70 0 0 1 462.04 620.47L468.52 622.33A94.96 94.96 0 0 0 465.20 640.22Z" fill="#75d2a5"/>
<path d="M465.20 640.22A94.96 94.96 0 0 1 468.52 622.33L475.00 624.18A88.22 88.22 0 0 0 471.92 640.81Z" fill="#ffb18a"/>
<path d="M471.92 640.81A88.22 88.22 0 0 1 475.00 624.18L481.48 626.04A81.48 81.48 0 0 0 478.63 641.40Z" fill="#dbf3e8"/>
<path d="M478.63 641.40A81.48 81.48 0 0 1 481.48 626.04L487.96 627.90A74.74 74.74 0 0 0 485.34 641.99Z" fill="#ffb18a"/>
<path d="M485.34 641.99A74.74 74.74 0 0 1 487.96 627.90L494.43 629.76A68.00 68.00 0 0 0 492.06 642.57Z" fill="#7ad4a8"/>
<path d="M429.65 611.18A135.40 135.40 0 0 1 439.16 587.03L445.16 590.09A128.66 128.66 0 0 0 436.12 613.04Z" fill="#ffb18a"/>
<path d="M436.12 613.04A128.66 128.66 0 0 1 445.16 590.09L451.17 593.15A121.92 121.92 0 0 0 442.60 614.89Z" fill="#94dcb9"/>
<path d="M442.60 614.89A121.92 121.92 0 0 1 451.17 593.15L457.17 596.21A115.18 115.18 0 0 0 449.08 616.75Z" fill="#ffb18a"/>
<path d="M449.08 616.75A115.18 115.18 0 0 1 457.17 596.21L463.18 599.27A108.44 108.44 0 0 0 455.56 618.61Z" fill="#75d2a5"/>
<path d="M455.56 618.61A108.44 108.44 0 0 1 463.18 599.27L469.18 602.33A101.70 101.70 0 0 0 462.04 620.47Z" fill="#ffb18a"/>
<path d="M462.04 620.47A101.70 101.70 0 0 1 469.18 602.33L475.19 605.39A94.96 94.96 0 0 0 468.52 622.33Z" fill="#75d2a5"/>
<path d="M468.52 622.33A94.96 94.96 0 0 1 475.19 605.39L481.20 608.45A88.22 88.22 0 0 0 475.00 624.18Z" fill="#ffb590"/>
<path d="M475.00 624.18A88.22 88.22 0 0 1 481.20 608.45L487.20 611.51A81.48 81.48 0 0 0 481.48 626.04Z" fill="#e4f6ed"/>
<path d="M481.48 626.04A81.48 81.48 0 0 1 487.20 611.51L493.21 614.57A74.74 74.74 0 0 0 487.96 627.90Z" fill="#ffb18a"/>
<path d="M487.96 627.90A74.74 74.74 0 0 1 493.21 614.57L499.21 617.63A68.00 68.00 0 0 0 494.43 629.76Z" fill="#75d2a5"/>
<path d="M439.16 587.03A135.40 135.40 0 0 1 453.10 565.14L458.41 569.29A128.66 128.66 0 0 0 445.16 590.09Z" fill="#ffb18a"/>
<path d="M445.16 590.09A128.66 128.66 0 0 1 458.41 569.29L463.73 573.44A121.92 121.92 0 0 0 451.17 593.15Z" fill="#afe5ca"/>
<path d="M451.17 593.15A121.92 121.92 0 0 1 463.73 573.44L469.04 577.59A115.18 115.18 0 0 0 457.17 596.21Z" fill="#ffb18a"/>
<path d="M457.17 596.21A115.18 115.18 0 0 1 469.04 577.59L474.35 581.74A108.44 108.44 0 0 0 463.18 599.27Z" fill="#75d2a5"/>
<path d="M463.18 599.27A108.44 108.44 0 0 1 474.35 581.74L479.66 585.89A101.70 101.70 0 0 0 469.18 602.33Z" fill="#ffb18a"/>
<path d="M469.18 602.33A101.70 101.70 0 0 1 479.66 585.89L484.97 590.04A94.96 94.96 0 0 0 475.19 605.39Z" fill="#75d2a5"/>
<path d="M475.19 605.39A94.96 94.96 0 0 1 484.97 590.04L490.28 594.19A88.22 88.22 0 0 0 481.20 608.45Z" fill="#ffb18a"/>
<path d="M481.20 608.45A88.22 88.22 0 0 1 490.28 594.19L495.59 598.34A81.48 81.48 0 0 0 487.20 611.51Z" fill="#e4f6ed"/>
<path d="M487.20 611.51A81.48 81.48 0 0 1 495.59 598.34L500.90 602.49A74.74 74.74 0 0 0 493.21 614.57Z" fill="#ffb18a"/>
<path d="M493.21 614.57A74.74 74.74 0 0 1 500.90 602.49L506.22 606.64A68.00 68.00 0 0 0 499.21 617.63Z" fill="#75d2a5"/>
<path d="M453.10 565.14A135.40 135.40 0 0 1 470.97 546.31L475.39 551.40A128.66 128.66 0 0 0 458.41 569.29Z" fill="#ffb18a"/>
<path d="M458.41 569.29A128.66 128.66 0 0 1 475.39 551.40L479.81 556.49A121.92 121.92 0 0 0 463.73 573.44Z" fill="#a6e2c5"/>
<path d="M463.73 573.44A121.92 121.92 0 0 1 479.81 556.49L484.24 561.57A115.18 115.18 0 0 0 469.04 577.59Z" fill="#ffb18a"/>
<path d="M469.04 577.59A115.18 115.18 0 0 1 484.24 561.57L488.66 566.66A108.44 108.44 0 0 0 474.35 581.74Z" fill="#7ad4a8"/>
<path d="M474.35 581.74A108.44 108.44 0 0 1 488.66 566.66L493.08 571.75A101.70 101.70 0 0 0 479.66 585.89Z" fill="#ffb18a"/>
<path d="M479.66 585.89A101.70 101.70 0 0 1 493.08 571.75L497.50 576.83A94.96 94.96 0 0 0 484.97 590.04Z" fill="#7ad4a8"/>
<path d="M484.97 590.04A94.96 94.96 0 0 1 497.50 576.83L501.92 581.92A88.22 88.22 0 0 0 490.28 594.19Z" fill="#ffb18a"/>
<path d="M490.28 594.19A88.22 88.22 0 0 1 501.92 581.92L506.34 587.01A81.48 81.48 0 0 0 495.59 598.34Z" fill="#eaf8f1"/>
<path d="M495.59 598.34A81.48 81.48 0 0 1 506.34 587.01L510.77 592.09A74.74 74.74 0 0 0 500.90 602.49Z" fill="#ffb18a"/>
<path d="M500.90 602.49A74.74 74.74 0 0 1 510.77 592.09L515.19 597.18A68.00 68.00 0 0 0 506.22 606.64Z" fill="#75d2a5"/>
<path d="M470.97 546.31A135.40 135.40 0 0 1 492.10 531.24L495.47 537.08A128.66 128.66 0 0 0 475.39 551.40Z" fill="#ffb18a"/>
<path d="M475.39 551.40A128.66 128.66 0 0 1 495.47 537.08L498.84 542.91A121.92 121.92 0 0 0 479.81 556.49Z" fill="#afe5ca"/>
<path d="M479.81 556.49A121.92 121.92 0 0 1 498.84 542.91L502.21 548.75A115.18 115.18 0 0 0 484.24 561.57Z" fill="#ffb18a"/>
<path d="M484.24 561.57A115.18 115.18 0 0 1 502.21 548.75L505.58 554.59A108.44 108.44 0 0 0 488.66 566.66Z" fill="#7ad4a8"/>
<path d="M488.66 566.66A108.44 108.44 0 0 1 505.58 554.59L508.95 560.43A101.70 101.70 0 0 0 493.08 571.75Z" fill="#ffb18a"/>
<path d="M493.08 571.75A101.70 101.70 0 0 1 508.95 560.43L512.32 566.26A94.96 94.96 0 0 0 497.50 576.83Z" fill="#80d6ac"/>
<path d="M497.50 576.83A94.96 94.96 0 0 1 512.32 566.26L515.69 572.10A88.22 88.22 0 0 0 501.92 581.92Z" fill="#ffb18a"/>
<path d="M501.92 581.92A88.22 88.22 0 0 1 515.69 572.10L519.06 577.94A81.48 81.48 0 0 0 506.34 587.01Z" fill="#edf9f3"/>
<path d="M506.34 587.01A81.48 81.48 0 0 1 519.06 577.94L522.43 583.77A74.74 74.74 0 0 0 510.77 592.09Z" fill="#ffb18a"/>
<path d="M510.77 592.09A74.74 74.74 0 0 1 522.43 583.77L525.80 589.61A68.00 68.00 0 0 0 515.19 597.18Z" fill="#75d2a5"/>
<path d="M585.64 515.59L572.78 581.75M610.52 522.96L585.27 585.45M633.54 534.94L596.84 591.47M653.86 551.10L607.04 599.58M670.71 570.84L615.50 609.50M683.49 593.43L621.92 620.84M691.73 618.04L626.06 633.20M695.12 643.77L627.76 646.13M693.53 669.68L626.96 659.14M687.03 694.81L623.70 671.76M675.86 718.24L618.09 683.52M660.42 739.10L610.33 694.00M641.29 756.64L600.72 702.81M619.16 770.20L589.61 709.62M594.84 779.29L577.40 714.18M569.25 783.57L564.54 716.33M543.30 782.89L551.51 715.99M517.96 777.27L538.79 713.17M494.16 766.92L526.83 707.97M472.77 752.22L516.09 700.59M454.57 733.71L506.95 691.29M440.25 712.07L499.76 680.42M430.32 688.09L494.77 668.38M425.14 662.65L492.17 655.61M424.92 636.70L492.06 642.57M429.65 611.18L494.43 629.76M439.16 587.03L499.21 617.63M453.10 565.14L506.22 606.64M470.97 546.31L515.19 597.18M559.80 519.84A128.66 128.66 0 1 1 495.47 537.08M559.80 526.58A121.92 121.92 0 1 1 498.84 542.91M559.80 533.32A115.18 115.18 0 1 1 502.21 548.75M559.80 540.06A108.44 108.44 0 1 1 505.58 554.59M559.80 546.80A101.70 101.70 0 1 1 508.95 560.43M559.80 553.54A94.96 94.96 0 1 1 512.32 566.26M559.80 560.28A88.22 88.22 0 1 1 515.69 572.10M559.80 567.02A81.48 81.48 0 1 1 519.06 577.94M559.80 573.76A74.74 74.74 0 1 1 522.43 583.77" fill="none" stroke="#fff" stroke-width="0.45" stroke-opacity="0.75"/>
<path d="M591.20 588.18L589.65 591.15M602.13 595.28L600.05 597.90M589.65 591.15A64.65 64.65 0 0 1 600.05 597.90M624.29 626.92L623.40 627.22M627.22 639.62L626.29 639.75M623.40 627.22A67.07 67.07 0 0 1 626.29 639.75M618.98 615.02L617.51 615.85M625.15 633.41L624.41 633.58M617.51 615.85A66.30 66.30 0 0 1 624.41 633.58M611.51 604.34L609.32 606.20M621.60 624.47L620.50 624.90M609.32 606.20A65.13 65.13 0 0 1 620.50 624.90M595.01 594.28L593.22 597.04M615.70 615.08L612.46 617.01M593.22 597.04A61.36 61.36 0 0 1 612.46 617.01M579.11 583.30L575.94 594.03M603.99 605.92L600.71 609.08M575.94 594.03A56.81 56.81 0 0 1 600.71 609.08M566.32 580.81L565.09 593.56M589.30 599.95L588.46 601.33M565.09 593.56A55.19 55.19 0 0 1 588.46 601.33M625.63 665.53L622.81 664.80M621.18 677.77L618.55 676.52M622.81 664.80A65.09 65.09 0 0 1 618.55 676.52M620.96 670.76L617.38 669.46M614.46 688.95L609.05 684.95M617.38 669.46A61.27 61.27 0 0 1 609.05 684.95M605.74 698.63L604.89 697.71M595.33 706.48L594.67 705.41M604.89 697.71A66.75 66.75 0 0 1 594.67 705.41M583.61 712.19L582.99 710.52M571.02 715.57L570.73 713.80M582.99 710.52A66.21 66.21 0 0 1 570.73 713.80M599.97 701.81L597.94 699.11M576.94 712.45L576.20 709.71M597.94 699.11A63.37 63.37 0 0 1 576.20 709.71M545.08 714.89L545.64 712.39M532.69 710.86L533.70 708.51M545.64 712.39A65.44 65.44 0 0 1 533.70 708.51M558.02 716.48L558.10 713.53M539.58 710.74L539.70 710.37M558.10 713.53A65.06 65.06 0 0 1 539.70 710.37M587.58 705.46L586.81 703.87M548.78 712.62L549.37 709.22M586.81 703.87A61.61 61.61 0 0 1 549.37 709.22M613.77 677.50L612.64 676.89M568.51 709.49L568.28 707.88M612.64 676.89A59.98 59.98 0 0 1 568.28 707.88M503.10 686.03L503.87 685.52M496.98 674.52L497.84 674.16M503.87 685.52A67.07 67.07 0 0 1 497.84 674.16M511.30 696.16L513.41 694.08M500.58 679.99L502.38 679.03M513.41 694.08A65.04 65.04 0 0 1 502.38 679.03M521.28 704.54L524.06 700.51M507.35 686.96L508.91 685.82M524.06 700.51A63.11 63.11 0 0 1 508.91 685.82M493.17 662.06L494.83 661.72M491.80 649.09L493.50 649.08M494.83 661.72A66.30 66.30 0 0 1 493.50 649.08M492.94 636.11L495.36 636.56M496.53 623.58L498.82 624.48M495.36 636.56A65.54 65.54 0 0 1 498.82 624.48M510.47 601.69L511.77 602.92M520.31 593.14L521.35 594.59M511.77 602.92A66.22 66.22 0 0 1 521.35 594.59M502.45 611.96L504.36 613.18M516.36 598.52L516.68 598.89M504.36 613.18A65.73 65.73 0 0 1 516.68 598.89M496.80 630.43L498.61 630.96M510.00 605.59L511.58 606.95M498.61 630.96A63.65 63.65 0 0 1 511.58 606.95M493.86 655.43L497.23 655.08M503.80 618.25L504.45 618.60M497.23 655.08A62.91 62.91 0 0 1 504.45 618.60M515.86 693.80L517.31 692.31M498.08 636.29L499.93 636.66M517.31 692.31A61.03 61.03 0 0 1 499.93 636.66M594.15 697.67L591.87 694.41M501.55 666.69L506.34 665.20M591.87 694.41A56.01 56.01 0 0 1 506.34 665.20M627.67 652.65L606.93 651.38M541.70 701.50L544.54 693.19M606.93 651.38A47.22 47.22 0 0 1 544.54 693.19M577.21 596.13L572.74 609.59M586.08 687.73L582.62 682.56M572.74 609.59A41.00 41.00 0 0 1 582.62 682.56" fill="none" stroke="#222" stroke-width="0.50"/>
<text transform="translate(573.15 509.84) rotate(-84.50)" font-size="6.50" text-anchor="start"><tspan x="0" y="3.05">pheno.2566</tspan></text>
<text transform="translate(599.36 514.94) rotate(-73.50)" font-size="6.50" text-anchor="start"><tspan x="0" y="3.05">pheno.1435</tspan></text>
<text transform="translate(624.12 524.94) rotate(-62.50)" font-size="6.50" text-anchor="start"><tspan x="0" y="3.05">pheno.1454</tspan></text>
<text transform="translate(646.52 539.48) rotate(-51.50)" font-size="6.50" text-anchor="start"><tspan x="0" y="3.05">pheno.2282</tspan></text>
<text transform="translate(665.72 558.03) rotate(-40.50)" font-size="6.50" text-anchor="start"><tspan x="0" y="3.05">pheno.2113</tspan></text>
<text transform="translate(681.04 579.91) rotate(-29.50)" font-size="6.50" text-anchor="start"><tspan x="0" y="3.05">pheno.1972</tspan></text>
<text transform="translate(691.90 604.30) rotate(-18.50)" font-size="6.50" text-anchor="start"><tspan x="0" y="3.05">pheno.1415</tspan></text>
<text transform="translate(697.91 630.32) rotate(-7.50)" font-size="6.50" text-anchor="start"><tspan x="0" y="3.05">pheno.2178</tspan></text>
<text transform="translate(698.84 657.00) rotate(3.50)" font-size="6.50" text-anchor="start"><tspan x="0" y="3.05">pheno.1299</tspan></text>
<text transform="translate(694.66 683.38) rotate(14.50)" font-size="6.50" text-anchor="start"><tspan x="0" y="3.05">pheno.2211</tspan></text>
<text transform="translate(685.53 708.47) rotate(25.50)" font-size="6.50" text-anchor="start"><tspan x="0" y="3.05">pheno.2416</tspan></text>
<text transform="translate(671.78 731.36) rotate(36.50)" font-size="6.50" text-anchor="start"><tspan x="0" y="3.05">pheno.1439</tspan></text>
<text transform="translate(653.91 751.20) rotate(47.50)" font-size="6.50" text-anchor="start"><tspan x="0" y="3.05">pheno.1771</tspan></text>
<text transform="translate(632.58 767.27) rotate(58.50)" font-size="6.50" text-anchor="start"><tspan x="0" y="3.05">pheno.2195</tspan></text>
<text transform="translate(608.58 778.98) rotate(69.50)" font-size="6.50" text-anchor="start"><tspan x="0" y="3.05">pheno.1822</tspan></text>
<text transform="translate(582.79 785.89) rotate(80.50)" font-size="6.50" text-anchor="start"><tspan x="0" y="3.05">pheno.2283</tspan></text>
<text transform="translate(556.15 787.75) rotate(271.50)" font-size="6.50" text-anchor="end"><tspan x="0" y="3.05">pheno.2437</tspan></text>
<text transform="translate(529.65 784.50) rotate(282.50)" font-size="6.50" text-anchor="end"><tspan x="0" y="3.05">pheno.134</tspan></text>
<text transform="translate(504.25 776.25) rotate(293.50)" font-size="6.50" text-anchor="end"><tspan x="0" y="3.05">pheno.2402</tspan></text>
<text transform="translate(480.90 763.30) rotate(304.50)" font-size="6.50" text-anchor="end"><tspan x="0" y="3.05">pheno.1057</tspan></text>
<text transform="translate(460.44 746.14) rotate(315.50)" font-size="6.50" text-anchor="end"><tspan x="0" y="3.05">pheno.1388</tspan></text>
<text transform="translate(443.64 725.38) rotate(326.50)" font-size="6.50" text-anchor="end"><tspan x="0" y="3.05">pheno.1053</tspan></text>
<text transform="translate(431.10 701.81) rotate(337.50)" font-size="6.50" text-anchor="end"><tspan x="0" y="3.05">pheno.2054</tspan></text>
<text transform="translate(423.30 676.27) rotate(348.50)" font-size="6.50" text-anchor="end"><tspan x="0" y="3.05">pheno.2373</tspan></text>
<text transform="translate(420.51 649.72) rotate(359.50)" font-size="6.50" text-anchor="end"><tspan x="0" y="3.05">pheno.2374</tspan></text>
<text transform="translate(422.83 623.11) rotate(370.50)" font-size="6.50" text-anchor="end"><tspan x="0" y="3.05">pheno.1713</tspan></text>
<text transform="translate(430.19 597.45) rotate(381.50)" font-size="6.50" text-anchor="end"><tspan x="0" y="3.05">pheno.260</tspan></text>
<text transform="translate(442.32 573.65) rotate(392.50)" font-size="6.50" text-anchor="end"><tspan x="0" y="3.05">pheno.1308</tspan></text>
<text transform="translate(458.76 552.61) rotate(403.50)" font-size="6.50" text-anchor="end"><tspan x="0" y="3.05">pheno.1100</tspan></text>
<text transform="translate(478.91 535.09) rotate(414.50)" font-size="6.50" text-anchor="end"><tspan x="0" y="3.05">pheno.1447</tspan></text>
<text x="558.30" y="516.47" font-size="6.50" text-anchor="end" dominant-baseline="central">Wm.OR</text>
<text x="558.30" y="523.21" font-size="6.50" text-anchor="end" dominant-baseline="central">Wm.P</text>
<text x="558.30" y="529.95" font-size="6.50" text-anchor="end" dominant-baseline="central">WM.OR</text>
<text x="558.30" y="536.69" font-size="6.50" text-anchor="end" dominant-baseline="central">WM.P</text>
<text x="558.30" y="543.43" font-size="6.50" text-anchor="end" dominant-baseline="central">SM.OR</text>
<text x="558.30" y="550.17" font-size="6.50" text-anchor="end" dominant-baseline="central">SM.P</text>
<text x="558.30" y="556.91" font-size="6.50" text-anchor="end" dominant-baseline="central">MR Egger.OR</text>
<text x="558.30" y="563.65" font-size="6.50" text-anchor="end" dominant-baseline="central">MR Egger.P</text>
<text x="558.30" y="570.39" font-size="6.50" text-anchor="end" dominant-baseline="central">IVW.OR</text>
<text x="558.30" y="577.13" font-size="6.50" text-anchor="end" dominant-baseline="central">IVW.P</text>
<defs><linearGradient id="lg551" x1="0" y1="0" x2="0" y2="1"><stop offset="0.000" stop-color="#ff5500"/><stop offset="0.025" stop-color="#ff5602"/><stop offset="0.050" stop-color="#ff5f0f"/><stop offset="0.075" stop-color="#ff681c"/><stop offset="0.100" stop-color="#ff712a"/><stop offset="0.125" stop-color="#ff7937"/><stop offset="0.150" stop-color="#ff8244"/><stop offset="0.175" stop-color="#ff8b51"/><stop offset="0.200" stop-color="#ff945e"/><stop offset="0.225" stop-color="#ff9c6b"/><stop offset="0.250" stop-color="#ffa578"/><stop offset="0.275" stop-color="#ffae85"/><stop offset="0.300" stop-color="#ffb692"/><stop offset="0.325" stop-color="#ffbf9f"/><stop offset="0.350" stop-color="#ffc8ac"/><stop offset="0.375" stop-color="#ffd1b9"/><stop offset="0.400" stop-color="#ffd9c7"/><stop offset="0.425" stop-color="#ffe2d4"/><stop offset="0.450" stop-color="#ffebe1"/><stop offset="0.475" stop-color="#fff4ee"/><stop offset="0.500" stop-color="#fffcfb"/><stop offset="0.525" stop-color="#f6fcf9"/><stop offset="0.550" stop-color="#e9f8f1"/><stop offset="0.575" stop-color="#dcf4e8"/><stop offset="0.600" stop-color="#cfefdf"/><stop offset="0.625" stop-color="#c2ebd7"/><stop offset="0.650" stop-color="#b5e7ce"/><stop offset="0.675" stop-color="#a7e3c6"/><stop offset="0.700" stop-color="#9adebd"/><stop offset="0.725" stop-color="#8ddab5"/><stop offset="0.750" stop-color="#80d6ac"/><stop offset="0.775" stop-color="#73d1a3"/><stop offset="0.800" stop-color="#66cd9b"/><stop offset="0.825" stop-color="#59c992"/><stop offset="0.850" stop-color="#4cc58a"/><stop offset="0.875" stop-color="#3fc081"/><stop offset="0.900" stop-color="#32bc79"/><stop offset="0.925" stop-color="#25b870"/><stop offset="0.950" stop-color="#17b467"/><stop offset="0.975" stop-color="#0aaf5f"/><stop offset="1.000" stop-color="#00ac58"/></linearGradient></defs><rect x="551.00" y="623.00" width="8.00" height="38.60" fill="url(#lg551)"/><text x="561.80" y="623.80" font-size="5.80" dominant-baseline="central">2</text><text x="561.80" y="633.20" font-size="5.80" dominant-baseline="central">1</text><text x="561.80" y="642.60" font-size="5.80" dominant-baseline="central">0</text><text x="561.80" y="652.00" font-size="5.80" dominant-baseline="central">−1</text><text x="561.80" y="661.40" font-size="5.80" dominant-baseline="central">−2</text>
</g>
<text x="24.6" y="14.4" font-size="15.4">A</text>
<text x="189.3" y="12.4" font-size="13.3" text-anchor="middle">Saliva Microbiota-OOC</text>
<text x="187.3" y="25.5" font-size="4.0" text-anchor="middle">SM-OOC</text>
<text x="388.5" y="14.4" font-size="15.4">B</text>
<text x="562.3" y="12.4" font-size="13.3" text-anchor="middle">Tongue Micriobiota-OOC</text>
<text x="560.5" y="25.5" font-size="4.0" text-anchor="middle">TM-OOC</text>
<text x="24.6" y="450.0" font-size="15.4">C</text>
<text x="176.5" y="448.6" font-size="13.3" text-anchor="middle">Saliva Microbiota.ID-OOC</text>
<text x="186.4" y="466.3" font-size="7.5" text-anchor="middle">SM-OOC</text>
<text x="388.5" y="450.0" font-size="15.4">D</text>
<text x="562.3" y="448.6" font-size="13.3" text-anchor="middle">Tongue Microbiota.ID-OOC</text>
<text x="559.5" y="466.3" font-size="7.0" text-anchor="middle">TM−OOC</text>
</svg></body></html>
